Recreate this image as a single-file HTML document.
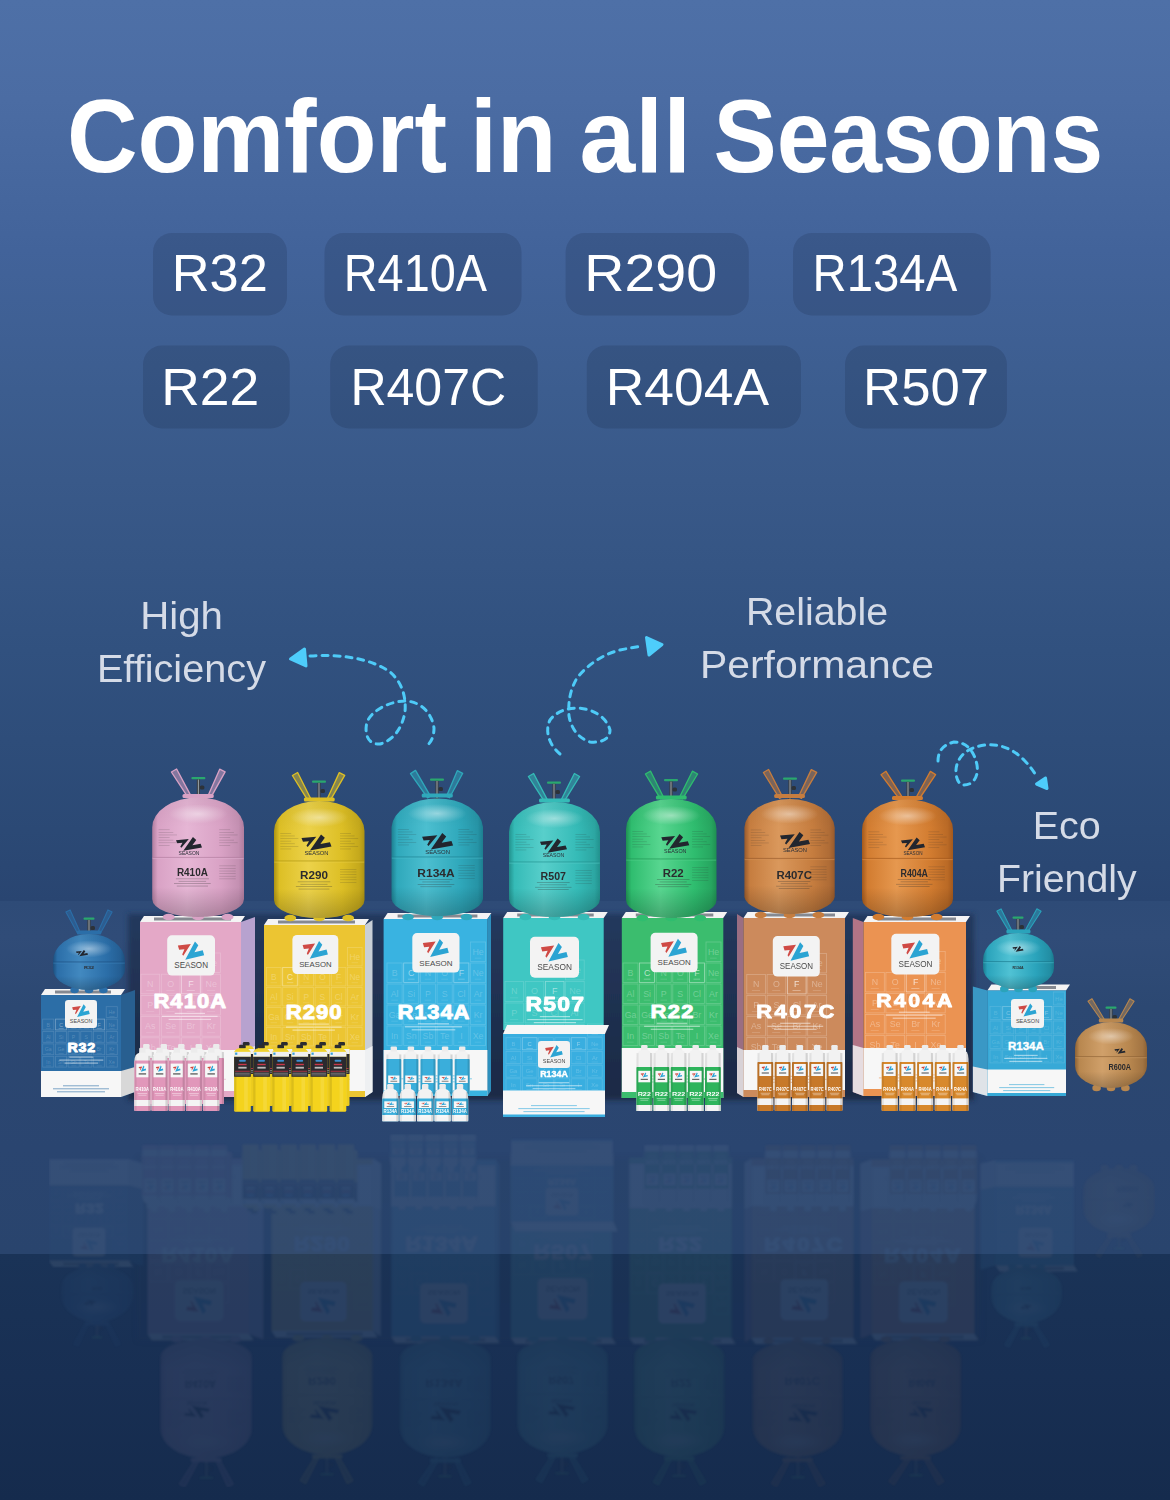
<!DOCTYPE html>
<html><head><meta charset="utf-8">
<style>
*{margin:0;padding:0;box-sizing:border-box}
html,body{width:1170px;height:1500px;overflow:hidden}
body{position:relative;font-family:"Liberation Sans",sans-serif;background:#2a4672}
svg{position:absolute;left:0;top:0;display:block}
</style></head><body>
<svg width="1170" height="1500" viewBox="0 0 1170 1500">
<defs>
<linearGradient id="bg" gradientUnits="userSpaceOnUse" x1="0" y1="0" x2="0" y2="902">
<stop offset="0" stop-color="#4e70a7"/>
<stop offset="0.1109" stop-color="#4b6ca3"/>
<stop offset="0.2772" stop-color="#42639a"/>
<stop offset="0.4324" stop-color="#3c5d8f"/>
<stop offset="0.5322" stop-color="#395989"/>
<stop offset="0.7206" stop-color="#31517f"/>
<stop offset="0.9202" stop-color="#2b4975"/>
<stop offset="1" stop-color="#294571"/>
</linearGradient>
<linearGradient id="floor" gradientUnits="userSpaceOnUse" x1="0" y1="901" x2="0" y2="1254">
<stop offset="0" stop-color="#2e4b77"/>
<stop offset="0.1" stop-color="#304c78"/>
<stop offset="0.3" stop-color="#2c4872"/>
<stop offset="0.7" stop-color="#2a4570"/>
<stop offset="1" stop-color="#29446d"/>
</linearGradient>
<linearGradient id="deep" gradientUnits="userSpaceOnUse" x1="0" y1="1254" x2="0" y2="1500">
<stop offset="0" stop-color="#1a3357"/>
<stop offset="0.5" stop-color="#182f53"/>
<stop offset="1" stop-color="#152b4d"/>
</linearGradient>
<linearGradient id="shgrad" x1="0" y1="0" x2="0" y2="1"><stop offset="0" stop-color="#24395d"/><stop offset="0.5" stop-color="#1f3050"/><stop offset="1" stop-color="#1b2a45"/></linearGradient>
<mask id="rmask" maskUnits="userSpaceOnUse" x="0" y="0" width="1170" height="1500"><rect x="0" y="0" width="1170" height="1254" fill="#a8a8a8"/><rect x="0" y="1254" width="1170" height="246" fill="#ffffff"/></mask>
<filter id="sblur" x="-0.05" y="-0.1" width="1.1" height="1.2"><feGaussianBlur stdDeviation="2.5"/></filter>
<filter id="rblur" x="0" y="0" width="1" height="1"><feColorMatrix type="saturate" values="0.8"/><feGaussianBlur stdDeviation="1.2"/></filter>
<linearGradient id="cg1" x1="0" y1="0" x2="1" y2="0"><stop offset="0" stop-color="#1c4f7e"/><stop offset="0.06" stop-color="#2b6ea8"/><stop offset="0.38" stop-color="#4289c0"/><stop offset="0.75" stop-color="#2b6ea8"/><stop offset="0.94" stop-color="#245e93"/><stop offset="1" stop-color="#1c4f7e"/></linearGradient>
<radialGradient id="rg2" cx="0.5" cy="0.5" r="0.5"><stop offset="0" stop-color="#ffffff" stop-opacity="0.45"/><stop offset="1" stop-color="#ffffff" stop-opacity="0"/></radialGradient>
<linearGradient id="vg3" x1="0" y1="0" x2="0" y2="1"><stop offset="0" stop-color="#000" stop-opacity="0.05"/><stop offset="0.25" stop-color="#000" stop-opacity="0"/><stop offset="0.75" stop-color="#000" stop-opacity="0"/><stop offset="1" stop-color="#000" stop-opacity="0.22"/></linearGradient>
<linearGradient id="cg4" x1="0" y1="0" x2="1" y2="0"><stop offset="0" stop-color="#b07d9e"/><stop offset="0.06" stop-color="#d9a2c5"/><stop offset="0.38" stop-color="#e6b6d5"/><stop offset="0.75" stop-color="#d9a2c5"/><stop offset="0.94" stop-color="#c490b2"/><stop offset="1" stop-color="#b07d9e"/></linearGradient>
<radialGradient id="rg5" cx="0.5" cy="0.5" r="0.5"><stop offset="0" stop-color="#ffffff" stop-opacity="0.45"/><stop offset="1" stop-color="#ffffff" stop-opacity="0"/></radialGradient>
<linearGradient id="vg6" x1="0" y1="0" x2="0" y2="1"><stop offset="0" stop-color="#000" stop-opacity="0.05"/><stop offset="0.25" stop-color="#000" stop-opacity="0"/><stop offset="0.75" stop-color="#000" stop-opacity="0"/><stop offset="1" stop-color="#000" stop-opacity="0.22"/></linearGradient>
<linearGradient id="cg7" x1="0" y1="0" x2="1" y2="0"><stop offset="0" stop-color="#ad9312"/><stop offset="0.06" stop-color="#ddbf25"/><stop offset="0.38" stop-color="#ecd24a"/><stop offset="0.75" stop-color="#ddbf25"/><stop offset="0.94" stop-color="#c5a91c"/><stop offset="1" stop-color="#ad9312"/></linearGradient>
<radialGradient id="rg8" cx="0.5" cy="0.5" r="0.5"><stop offset="0" stop-color="#ffffff" stop-opacity="0.45"/><stop offset="1" stop-color="#ffffff" stop-opacity="0"/></radialGradient>
<linearGradient id="vg9" x1="0" y1="0" x2="0" y2="1"><stop offset="0" stop-color="#000" stop-opacity="0.05"/><stop offset="0.25" stop-color="#000" stop-opacity="0"/><stop offset="0.75" stop-color="#000" stop-opacity="0"/><stop offset="1" stop-color="#000" stop-opacity="0.22"/></linearGradient>
<linearGradient id="cg10" x1="0" y1="0" x2="1" y2="0"><stop offset="0" stop-color="#1d7f90"/><stop offset="0.06" stop-color="#2fa8bb"/><stop offset="0.38" stop-color="#4cbfd0"/><stop offset="0.75" stop-color="#2fa8bb"/><stop offset="0.94" stop-color="#2694a6"/><stop offset="1" stop-color="#1d7f90"/></linearGradient>
<radialGradient id="rg11" cx="0.5" cy="0.5" r="0.5"><stop offset="0" stop-color="#ffffff" stop-opacity="0.45"/><stop offset="1" stop-color="#ffffff" stop-opacity="0"/></radialGradient>
<linearGradient id="vg12" x1="0" y1="0" x2="0" y2="1"><stop offset="0" stop-color="#000" stop-opacity="0.05"/><stop offset="0.25" stop-color="#000" stop-opacity="0"/><stop offset="0.75" stop-color="#000" stop-opacity="0"/><stop offset="1" stop-color="#000" stop-opacity="0.22"/></linearGradient>
<linearGradient id="cg13" x1="0" y1="0" x2="1" y2="0"><stop offset="0" stop-color="#22918d"/><stop offset="0.06" stop-color="#35bbb7"/><stop offset="0.38" stop-color="#58cfcb"/><stop offset="0.75" stop-color="#35bbb7"/><stop offset="0.94" stop-color="#2ca6a2"/><stop offset="1" stop-color="#22918d"/></linearGradient>
<radialGradient id="rg14" cx="0.5" cy="0.5" r="0.5"><stop offset="0" stop-color="#ffffff" stop-opacity="0.45"/><stop offset="1" stop-color="#ffffff" stop-opacity="0"/></radialGradient>
<linearGradient id="vg15" x1="0" y1="0" x2="0" y2="1"><stop offset="0" stop-color="#000" stop-opacity="0.05"/><stop offset="0.25" stop-color="#000" stop-opacity="0"/><stop offset="0.75" stop-color="#000" stop-opacity="0"/><stop offset="1" stop-color="#000" stop-opacity="0.22"/></linearGradient>
<linearGradient id="cg16" x1="0" y1="0" x2="1" y2="0"><stop offset="0" stop-color="#1f9052"/><stop offset="0.06" stop-color="#2fbd6f"/><stop offset="0.38" stop-color="#58d690"/><stop offset="0.75" stop-color="#2fbd6f"/><stop offset="0.94" stop-color="#27a660"/><stop offset="1" stop-color="#1f9052"/></linearGradient>
<radialGradient id="rg17" cx="0.5" cy="0.5" r="0.5"><stop offset="0" stop-color="#ffffff" stop-opacity="0.45"/><stop offset="1" stop-color="#ffffff" stop-opacity="0"/></radialGradient>
<linearGradient id="vg18" x1="0" y1="0" x2="0" y2="1"><stop offset="0" stop-color="#000" stop-opacity="0.05"/><stop offset="0.25" stop-color="#000" stop-opacity="0"/><stop offset="0.75" stop-color="#000" stop-opacity="0"/><stop offset="1" stop-color="#000" stop-opacity="0.22"/></linearGradient>
<linearGradient id="cg19" x1="0" y1="0" x2="1" y2="0"><stop offset="0" stop-color="#985a2c"/><stop offset="0.06" stop-color="#c67d3f"/><stop offset="0.38" stop-color="#da985c"/><stop offset="0.75" stop-color="#c67d3f"/><stop offset="0.94" stop-color="#af6c36"/><stop offset="1" stop-color="#985a2c"/></linearGradient>
<radialGradient id="rg20" cx="0.5" cy="0.5" r="0.5"><stop offset="0" stop-color="#ffffff" stop-opacity="0.45"/><stop offset="1" stop-color="#ffffff" stop-opacity="0"/></radialGradient>
<linearGradient id="vg21" x1="0" y1="0" x2="0" y2="1"><stop offset="0" stop-color="#000" stop-opacity="0.05"/><stop offset="0.25" stop-color="#000" stop-opacity="0"/><stop offset="0.75" stop-color="#000" stop-opacity="0"/><stop offset="1" stop-color="#000" stop-opacity="0.22"/></linearGradient>
<linearGradient id="cg22" x1="0" y1="0" x2="1" y2="0"><stop offset="0" stop-color="#a3591d"/><stop offset="0.06" stop-color="#d27c30"/><stop offset="0.38" stop-color="#e6984f"/><stop offset="0.75" stop-color="#d27c30"/><stop offset="0.94" stop-color="#ba6a26"/><stop offset="1" stop-color="#a3591d"/></linearGradient>
<radialGradient id="rg23" cx="0.5" cy="0.5" r="0.5"><stop offset="0" stop-color="#ffffff" stop-opacity="0.45"/><stop offset="1" stop-color="#ffffff" stop-opacity="0"/></radialGradient>
<linearGradient id="vg24" x1="0" y1="0" x2="0" y2="1"><stop offset="0" stop-color="#000" stop-opacity="0.05"/><stop offset="0.25" stop-color="#000" stop-opacity="0"/><stop offset="0.75" stop-color="#000" stop-opacity="0"/><stop offset="1" stop-color="#000" stop-opacity="0.22"/></linearGradient>
<linearGradient id="cg25" x1="0" y1="0" x2="1" y2="0"><stop offset="0" stop-color="#1a7a8e"/><stop offset="0.06" stop-color="#2aa3bb"/><stop offset="0.38" stop-color="#50c2d4"/><stop offset="0.75" stop-color="#2aa3bb"/><stop offset="0.94" stop-color="#228ea4"/><stop offset="1" stop-color="#1a7a8e"/></linearGradient>
<radialGradient id="rg26" cx="0.5" cy="0.5" r="0.5"><stop offset="0" stop-color="#ffffff" stop-opacity="0.45"/><stop offset="1" stop-color="#ffffff" stop-opacity="0"/></radialGradient>
<linearGradient id="vg27" x1="0" y1="0" x2="0" y2="1"><stop offset="0" stop-color="#000" stop-opacity="0.05"/><stop offset="0.25" stop-color="#000" stop-opacity="0"/><stop offset="0.75" stop-color="#000" stop-opacity="0"/><stop offset="1" stop-color="#000" stop-opacity="0.22"/></linearGradient>
<linearGradient id="cg28" x1="0" y1="0" x2="1" y2="0"><stop offset="0" stop-color="#8d6235"/><stop offset="0.06" stop-color="#b8874f"/><stop offset="0.38" stop-color="#d0a06a"/><stop offset="0.75" stop-color="#b8874f"/><stop offset="0.94" stop-color="#a27442"/><stop offset="1" stop-color="#8d6235"/></linearGradient>
<radialGradient id="rg29" cx="0.5" cy="0.5" r="0.5"><stop offset="0" stop-color="#ffffff" stop-opacity="0.45"/><stop offset="1" stop-color="#ffffff" stop-opacity="0"/></radialGradient>
<linearGradient id="vg30" x1="0" y1="0" x2="0" y2="1"><stop offset="0" stop-color="#000" stop-opacity="0.05"/><stop offset="0.25" stop-color="#000" stop-opacity="0"/><stop offset="0.75" stop-color="#000" stop-opacity="0"/><stop offset="1" stop-color="#000" stop-opacity="0.22"/></linearGradient>
</defs>
<rect x="0" y="0" width="1170" height="902" fill="url(#bg)"/>
<rect x="0" y="901" width="1170" height="354" fill="url(#floor)"/>
<rect x="0" y="1254" width="1170" height="246" fill="url(#deep)"/>
<g opacity="0.085" filter="url(#rblur)" mask="url(#rmask)"><use href="#prods" transform="matrix(1 0 0 -1 8 2256)"/></g>
<g id="prods">
<rect x="128" y="914" width="846" height="186" fill="url(#shgrad)" filter="url(#sblur)"/>
<polygon points="41.0,995.0 121.0,995.0 125.0,989.0 45.0,989.0" fill="#f4f4f4"/>
<rect x="55.0" y="990.5" width="56.0" height="3" fill="#2a3140" opacity="0.55"/>
<polygon points="121.0,995.0 135.0,990.0 135.0,1092.0 121.0,1097.0" fill="#285f90"/>
<polygon points="121.0,1071.0 135.0,1067.0 135.0,1092.0 121.0,1097.0" fill="#d8d8d8"/>
<rect x="41.0" y="995.0" width="80.0" height="102.0" fill="#2c6ea7"/>
<rect x="106.2" y="1006.7" width="11.1" height="10.8" fill="none" stroke="#ffffff" stroke-opacity="0.15" stroke-width="0.8"/>
<text x="111.8" y="1014.1" font-family="Liberation Sans" font-size="5.2" fill="#ffffff" fill-opacity="0.20" text-anchor="middle">He</text>
<rect x="109.4" y="1016.0" width="5.1" height="0.6" fill="#ffffff" opacity="0.15"/>
<rect x="42.7" y="1019.1" width="11.1" height="10.8" fill="none" stroke="#ffffff" stroke-opacity="0.15" stroke-width="0.8"/>
<text x="48.2" y="1026.5" font-family="Liberation Sans" font-size="5.2" fill="#ffffff" fill-opacity="0.20" text-anchor="middle">B</text>
<rect x="45.9" y="1028.4" width="5.1" height="0.6" fill="#ffffff" opacity="0.15"/>
<rect x="55.4" y="1019.1" width="11.1" height="10.8" fill="none" stroke="#ffffff" stroke-opacity="0.33" stroke-width="0.8"/>
<text x="61.0" y="1026.5" font-family="Liberation Sans" font-size="5.2" fill="#ffffff" fill-opacity="0.43" text-anchor="middle">C</text>
<rect x="58.6" y="1028.4" width="5.1" height="0.6" fill="#ffffff" opacity="0.33"/>
<rect x="68.1" y="1019.1" width="11.1" height="10.8" fill="none" stroke="#ffffff" stroke-opacity="0.15" stroke-width="0.8"/>
<text x="73.6" y="1026.5" font-family="Liberation Sans" font-size="5.2" fill="#ffffff" fill-opacity="0.20" text-anchor="middle">N</text>
<rect x="71.3" y="1028.4" width="5.1" height="0.6" fill="#ffffff" opacity="0.15"/>
<rect x="80.8" y="1019.1" width="11.1" height="10.8" fill="none" stroke="#ffffff" stroke-opacity="0.15" stroke-width="0.8"/>
<text x="86.3" y="1026.5" font-family="Liberation Sans" font-size="5.2" fill="#ffffff" fill-opacity="0.20" text-anchor="middle">O</text>
<rect x="84.0" y="1028.4" width="5.1" height="0.6" fill="#ffffff" opacity="0.15"/>
<rect x="93.5" y="1019.1" width="11.1" height="10.8" fill="none" stroke="#ffffff" stroke-opacity="0.33" stroke-width="0.8"/>
<text x="99.0" y="1026.5" font-family="Liberation Sans" font-size="5.2" fill="#ffffff" fill-opacity="0.43" text-anchor="middle">F</text>
<rect x="96.7" y="1028.4" width="5.1" height="0.6" fill="#ffffff" opacity="0.33"/>
<rect x="106.2" y="1019.1" width="11.1" height="10.8" fill="none" stroke="#ffffff" stroke-opacity="0.15" stroke-width="0.8"/>
<text x="111.8" y="1026.5" font-family="Liberation Sans" font-size="5.2" fill="#ffffff" fill-opacity="0.20" text-anchor="middle">Ne</text>
<rect x="109.4" y="1028.4" width="5.1" height="0.6" fill="#ffffff" opacity="0.15"/>
<rect x="42.7" y="1031.5" width="11.1" height="10.8" fill="none" stroke="#ffffff" stroke-opacity="0.15" stroke-width="0.8"/>
<text x="48.2" y="1038.9" font-family="Liberation Sans" font-size="5.2" fill="#ffffff" fill-opacity="0.20" text-anchor="middle">Al</text>
<rect x="45.9" y="1040.8" width="5.1" height="0.6" fill="#ffffff" opacity="0.15"/>
<rect x="55.4" y="1031.5" width="11.1" height="10.8" fill="none" stroke="#ffffff" stroke-opacity="0.15" stroke-width="0.8"/>
<text x="61.0" y="1038.9" font-family="Liberation Sans" font-size="5.2" fill="#ffffff" fill-opacity="0.20" text-anchor="middle">Si</text>
<rect x="58.6" y="1040.8" width="5.1" height="0.6" fill="#ffffff" opacity="0.15"/>
<rect x="68.1" y="1031.5" width="11.1" height="10.8" fill="none" stroke="#ffffff" stroke-opacity="0.15" stroke-width="0.8"/>
<text x="73.6" y="1038.9" font-family="Liberation Sans" font-size="5.2" fill="#ffffff" fill-opacity="0.20" text-anchor="middle">P</text>
<rect x="71.3" y="1040.8" width="5.1" height="0.6" fill="#ffffff" opacity="0.15"/>
<rect x="80.8" y="1031.5" width="11.1" height="10.8" fill="none" stroke="#ffffff" stroke-opacity="0.15" stroke-width="0.8"/>
<text x="86.3" y="1038.9" font-family="Liberation Sans" font-size="5.2" fill="#ffffff" fill-opacity="0.20" text-anchor="middle">S</text>
<rect x="84.0" y="1040.8" width="5.1" height="0.6" fill="#ffffff" opacity="0.15"/>
<rect x="93.5" y="1031.5" width="11.1" height="10.8" fill="none" stroke="#ffffff" stroke-opacity="0.15" stroke-width="0.8"/>
<text x="99.0" y="1038.9" font-family="Liberation Sans" font-size="5.2" fill="#ffffff" fill-opacity="0.20" text-anchor="middle">Cl</text>
<rect x="96.7" y="1040.8" width="5.1" height="0.6" fill="#ffffff" opacity="0.15"/>
<rect x="106.2" y="1031.5" width="11.1" height="10.8" fill="none" stroke="#ffffff" stroke-opacity="0.15" stroke-width="0.8"/>
<text x="111.8" y="1038.9" font-family="Liberation Sans" font-size="5.2" fill="#ffffff" fill-opacity="0.20" text-anchor="middle">Ar</text>
<rect x="109.4" y="1040.8" width="5.1" height="0.6" fill="#ffffff" opacity="0.15"/>
<rect x="42.7" y="1043.9" width="11.1" height="10.8" fill="none" stroke="#ffffff" stroke-opacity="0.15" stroke-width="0.8"/>
<text x="48.2" y="1051.3" font-family="Liberation Sans" font-size="5.2" fill="#ffffff" fill-opacity="0.20" text-anchor="middle">Ga</text>
<rect x="45.9" y="1053.2" width="5.1" height="0.6" fill="#ffffff" opacity="0.15"/>
<rect x="55.4" y="1043.9" width="11.1" height="10.8" fill="none" stroke="#ffffff" stroke-opacity="0.15" stroke-width="0.8"/>
<text x="61.0" y="1051.3" font-family="Liberation Sans" font-size="5.2" fill="#ffffff" fill-opacity="0.20" text-anchor="middle">Ge</text>
<rect x="58.6" y="1053.2" width="5.1" height="0.6" fill="#ffffff" opacity="0.15"/>
<rect x="68.1" y="1043.9" width="11.1" height="10.8" fill="none" stroke="#ffffff" stroke-opacity="0.15" stroke-width="0.8"/>
<text x="73.6" y="1051.3" font-family="Liberation Sans" font-size="5.2" fill="#ffffff" fill-opacity="0.20" text-anchor="middle">As</text>
<rect x="71.3" y="1053.2" width="5.1" height="0.6" fill="#ffffff" opacity="0.15"/>
<rect x="80.8" y="1043.9" width="11.1" height="10.8" fill="none" stroke="#ffffff" stroke-opacity="0.15" stroke-width="0.8"/>
<text x="86.3" y="1051.3" font-family="Liberation Sans" font-size="5.2" fill="#ffffff" fill-opacity="0.20" text-anchor="middle">Se</text>
<rect x="84.0" y="1053.2" width="5.1" height="0.6" fill="#ffffff" opacity="0.15"/>
<rect x="93.5" y="1043.9" width="11.1" height="10.8" fill="none" stroke="#ffffff" stroke-opacity="0.15" stroke-width="0.8"/>
<text x="99.0" y="1051.3" font-family="Liberation Sans" font-size="5.2" fill="#ffffff" fill-opacity="0.20" text-anchor="middle">Br</text>
<rect x="96.7" y="1053.2" width="5.1" height="0.6" fill="#ffffff" opacity="0.15"/>
<rect x="106.2" y="1043.9" width="11.1" height="10.8" fill="none" stroke="#ffffff" stroke-opacity="0.15" stroke-width="0.8"/>
<text x="111.8" y="1051.3" font-family="Liberation Sans" font-size="5.2" fill="#ffffff" fill-opacity="0.20" text-anchor="middle">Kr</text>
<rect x="109.4" y="1053.2" width="5.1" height="0.6" fill="#ffffff" opacity="0.15"/>
<rect x="42.7" y="1056.3" width="11.1" height="10.8" fill="none" stroke="#ffffff" stroke-opacity="0.15" stroke-width="0.8"/>
<text x="48.2" y="1063.7" font-family="Liberation Sans" font-size="5.2" fill="#ffffff" fill-opacity="0.20" text-anchor="middle">In</text>
<rect x="45.9" y="1065.6" width="5.1" height="0.6" fill="#ffffff" opacity="0.15"/>
<rect x="55.4" y="1056.3" width="11.1" height="10.8" fill="none" stroke="#ffffff" stroke-opacity="0.15" stroke-width="0.8"/>
<text x="61.0" y="1063.7" font-family="Liberation Sans" font-size="5.2" fill="#ffffff" fill-opacity="0.20" text-anchor="middle">Sn</text>
<rect x="58.6" y="1065.6" width="5.1" height="0.6" fill="#ffffff" opacity="0.15"/>
<rect x="68.1" y="1056.3" width="11.1" height="10.8" fill="none" stroke="#ffffff" stroke-opacity="0.15" stroke-width="0.8"/>
<text x="73.6" y="1063.7" font-family="Liberation Sans" font-size="5.2" fill="#ffffff" fill-opacity="0.20" text-anchor="middle">Sb</text>
<rect x="71.3" y="1065.6" width="5.1" height="0.6" fill="#ffffff" opacity="0.15"/>
<rect x="80.8" y="1056.3" width="11.1" height="10.8" fill="none" stroke="#ffffff" stroke-opacity="0.15" stroke-width="0.8"/>
<text x="86.3" y="1063.7" font-family="Liberation Sans" font-size="5.2" fill="#ffffff" fill-opacity="0.20" text-anchor="middle">Te</text>
<rect x="84.0" y="1065.6" width="5.1" height="0.6" fill="#ffffff" opacity="0.15"/>
<rect x="93.5" y="1056.3" width="11.1" height="10.8" fill="none" stroke="#ffffff" stroke-opacity="0.15" stroke-width="0.8"/>
<text x="99.0" y="1063.7" font-family="Liberation Sans" font-size="5.2" fill="#ffffff" fill-opacity="0.20" text-anchor="middle">I</text>
<rect x="96.7" y="1065.6" width="5.1" height="0.6" fill="#ffffff" opacity="0.15"/>
<rect x="106.2" y="1056.3" width="11.1" height="10.8" fill="none" stroke="#ffffff" stroke-opacity="0.15" stroke-width="0.8"/>
<text x="111.8" y="1063.7" font-family="Liberation Sans" font-size="5.2" fill="#ffffff" fill-opacity="0.20" text-anchor="middle">Xe</text>
<rect x="109.4" y="1065.6" width="5.1" height="0.6" fill="#ffffff" opacity="0.15"/>
<rect x="41.0" y="1071.0" width="80.0" height="26.0" fill="#f7f7f7"/>
<rect x="63.0" y="1085.3" width="36.0" height="1" fill="#2c6ea7" opacity="0.6"/>
<rect x="53.0" y="1088.3" width="56.0" height="1" fill="#2c6ea7" opacity="0.6"/>
<rect x="57.0" y="1091.3" width="48.0" height="1" fill="#2c6ea7" opacity="0.6"/>
<rect x="65.0" y="1000.0" width="32.0" height="28.0" rx="3.2" fill="#f3f3f3"/>
<polygon points="72.14,1007.15 80.81,1006.07 75.78,1014.30 75.04,1013.33 76.52,1009.66 73.00,1010.05" fill="#cf4a45"/>
<polygon points="83.59,1004.26 85.83,1006.96 83.22,1011.79 88.80,1010.43 89.74,1013.91 77.08,1017.00" fill="#2ba4d3"/>
<text x="69.8" y="1023.0" font-family="Liberation Sans" font-size="5.7" fill="#4a4a4a" textLength="22.6" lengthAdjust="spacingAndGlyphs">SEASON</text>
<text transform="translate(67.6,1052.0) scale(1.14,1)" x="0" y="0" font-family="Liberation Sans" font-weight="bold" font-size="12.5" fill="#ffffff" stroke="#ffffff" stroke-width="0.9" stroke-linejoin="round" textLength="24.2" lengthAdjust="spacing">R32</text>
<rect x="69.3" y="1056.5" width="24.0" height="1.2" fill="#ffffff" opacity="0.5"/>
<rect x="59.3" y="1059.5" width="44.0" height="1.2" fill="#ffffff" opacity="0.5"/>
<rect x="64.5" y="1062.5" width="33.6" height="1.2" fill="#ffffff" opacity="0.5"/>
<polygon points="65.9,912.1 70.1,909.9 80.3,932.4 77.7,933.6" fill="#2b6ea8" fill-opacity="0.5" stroke="#2b6ea8" stroke-width="1.1" stroke-linejoin="round"/>
<polygon points="107.9,909.9 112.1,912.1 100.3,933.6 97.7,932.4" fill="#2b6ea8" fill-opacity="0.5" stroke="#2b6ea8" stroke-width="1.1" stroke-linejoin="round"/>
<rect x="87.4" y="919.0" width="3.2" height="16.0" fill="#3a3f45"/>
<rect x="88.5" y="920.0" width="1" height="14.0" fill="#9aa3aa"/>
<rect x="90.5" y="926.0" width="4.5" height="4" rx="1.5" fill="#2d3238"/>
<rect x="83.5" y="917.5" width="11" height="2.2" rx="1" fill="#2aa86e"/>
<rect x="76.8" y="930.5" width="24.5" height="4" rx="1.5" fill="#2b6ea8"/>
<ellipse cx="74.6" cy="990.0" rx="4.3" ry="3.2" fill="#2b6ea8"/>
<ellipse cx="89.0" cy="990.0" rx="4.3" ry="3.2" fill="#2b6ea8"/>
<ellipse cx="103.4" cy="990.0" rx="4.3" ry="3.2" fill="#2b6ea8"/>
<path d="M53.0 961.0 A36.0 27.0 0 0 1 125.0 961.0 L125.0 969.0 A36.0 21.0 0 0 1 53.0 969.0 Z" fill="url(#cg1)"/>
<path d="M53.0 961.0 A36.0 27.0 0 0 1 125.0 961.0 L125.0 969.0 A36.0 21.0 0 0 1 53.0 969.0 Z" fill="url(#vg3)"/>
<ellipse cx="89.0" cy="948.9" rx="23.0" ry="8.6" fill="url(#rg2)"/>
<rect x="53.3" y="961.4" width="71.4" height="1.2" fill="#1c4f7e" opacity="0.6"/>
<rect x="53.3" y="962.6" width="71.4" height="1" fill="#4289c0" opacity="0.5"/>
<polygon points="76.00,951.44 81.92,950.90 78.48,955.01 77.98,954.53 78.99,952.70 76.59,952.89" fill="#22262e"/><polygon points="83.81,950.00 85.34,951.35 83.56,953.76 87.36,953.08 88.00,954.82 79.37,956.36" fill="#22262e"/>
<text x="84.0" y="969.0" font-family="Liberation Sans" font-weight="bold" font-size="4" fill="#2b2b2e" textLength="10.0" lengthAdjust="spacingAndGlyphs">R32</text>
<polygon points="140.0,922.0 241.0,922.0 245.0,916.0 144.0,916.0" fill="#f4f4f4"/>
<rect x="154.0" y="917.5" width="77.0" height="3" fill="#2a3140" opacity="0.55"/>
<polygon points="241.0,922.0 255.0,917.0 255.0,1092.0 241.0,1097.0" fill="#b7a2cf"/>
<polygon points="241.0,1050.0 255.0,1046.0 255.0,1092.0 241.0,1097.0" fill="#e4dcea"/>
<rect x="140.0" y="922.0" width="101.0" height="175.0" fill="#e4a8c7"/>
<rect x="201.9" y="953.0" width="18.7" height="19.6" fill="none" stroke="#ffffff" stroke-opacity="0.22" stroke-width="0.8"/>
<text x="211.2" y="965.7" font-family="Liberation Sans" font-size="8.9" fill="#ffffff" fill-opacity="0.29" text-anchor="middle">He</text>
<rect x="207.0" y="968.9" width="8.1" height="0.6" fill="#ffffff" opacity="0.22"/>
<rect x="141.0" y="974.2" width="18.7" height="19.6" fill="none" stroke="#ffffff" stroke-opacity="0.22" stroke-width="0.8"/>
<text x="150.3" y="986.9" font-family="Liberation Sans" font-size="8.9" fill="#ffffff" fill-opacity="0.29" text-anchor="middle">N</text>
<rect x="146.1" y="990.1" width="8.1" height="0.6" fill="#ffffff" opacity="0.22"/>
<rect x="161.3" y="974.2" width="18.7" height="19.6" fill="none" stroke="#ffffff" stroke-opacity="0.22" stroke-width="0.8"/>
<text x="170.7" y="986.9" font-family="Liberation Sans" font-size="8.9" fill="#ffffff" fill-opacity="0.29" text-anchor="middle">O</text>
<rect x="166.4" y="990.1" width="8.1" height="0.6" fill="#ffffff" opacity="0.22"/>
<rect x="181.6" y="974.2" width="18.7" height="19.6" fill="none" stroke="#ffffff" stroke-opacity="0.48" stroke-width="0.8"/>
<text x="190.9" y="986.9" font-family="Liberation Sans" font-size="8.9" fill="#ffffff" fill-opacity="0.63" text-anchor="middle">F</text>
<rect x="186.7" y="990.1" width="8.1" height="0.6" fill="#ffffff" opacity="0.48"/>
<rect x="201.9" y="974.2" width="18.7" height="19.6" fill="none" stroke="#ffffff" stroke-opacity="0.22" stroke-width="0.8"/>
<text x="211.2" y="986.9" font-family="Liberation Sans" font-size="8.9" fill="#ffffff" fill-opacity="0.29" text-anchor="middle">Ne</text>
<rect x="207.0" y="990.1" width="8.1" height="0.6" fill="#ffffff" opacity="0.22"/>
<rect x="141.0" y="995.4" width="18.7" height="19.6" fill="none" stroke="#ffffff" stroke-opacity="0.22" stroke-width="0.8"/>
<text x="150.3" y="1008.1" font-family="Liberation Sans" font-size="8.9" fill="#ffffff" fill-opacity="0.29" text-anchor="middle">P</text>
<rect x="146.1" y="1011.3" width="8.1" height="0.6" fill="#ffffff" opacity="0.22"/>
<rect x="161.3" y="995.4" width="18.7" height="19.6" fill="none" stroke="#ffffff" stroke-opacity="0.22" stroke-width="0.8"/>
<text x="170.7" y="1008.1" font-family="Liberation Sans" font-size="8.9" fill="#ffffff" fill-opacity="0.29" text-anchor="middle">S</text>
<rect x="166.4" y="1011.3" width="8.1" height="0.6" fill="#ffffff" opacity="0.22"/>
<rect x="181.6" y="995.4" width="18.7" height="19.6" fill="none" stroke="#ffffff" stroke-opacity="0.22" stroke-width="0.8"/>
<text x="190.9" y="1008.1" font-family="Liberation Sans" font-size="8.9" fill="#ffffff" fill-opacity="0.29" text-anchor="middle">Cl</text>
<rect x="186.7" y="1011.3" width="8.1" height="0.6" fill="#ffffff" opacity="0.22"/>
<rect x="201.9" y="995.4" width="18.7" height="19.6" fill="none" stroke="#ffffff" stroke-opacity="0.22" stroke-width="0.8"/>
<text x="211.2" y="1008.1" font-family="Liberation Sans" font-size="8.9" fill="#ffffff" fill-opacity="0.29" text-anchor="middle">Ar</text>
<rect x="207.0" y="1011.3" width="8.1" height="0.6" fill="#ffffff" opacity="0.22"/>
<rect x="141.0" y="1016.6" width="18.7" height="19.6" fill="none" stroke="#ffffff" stroke-opacity="0.22" stroke-width="0.8"/>
<text x="150.3" y="1029.3" font-family="Liberation Sans" font-size="8.9" fill="#ffffff" fill-opacity="0.29" text-anchor="middle">As</text>
<rect x="146.1" y="1032.5" width="8.1" height="0.6" fill="#ffffff" opacity="0.22"/>
<rect x="161.3" y="1016.6" width="18.7" height="19.6" fill="none" stroke="#ffffff" stroke-opacity="0.22" stroke-width="0.8"/>
<text x="170.7" y="1029.3" font-family="Liberation Sans" font-size="8.9" fill="#ffffff" fill-opacity="0.29" text-anchor="middle">Se</text>
<rect x="166.4" y="1032.5" width="8.1" height="0.6" fill="#ffffff" opacity="0.22"/>
<rect x="181.6" y="1016.6" width="18.7" height="19.6" fill="none" stroke="#ffffff" stroke-opacity="0.22" stroke-width="0.8"/>
<text x="190.9" y="1029.3" font-family="Liberation Sans" font-size="8.9" fill="#ffffff" fill-opacity="0.29" text-anchor="middle">Br</text>
<rect x="186.7" y="1032.5" width="8.1" height="0.6" fill="#ffffff" opacity="0.22"/>
<rect x="201.9" y="1016.6" width="18.7" height="19.6" fill="none" stroke="#ffffff" stroke-opacity="0.22" stroke-width="0.8"/>
<text x="211.2" y="1029.3" font-family="Liberation Sans" font-size="8.9" fill="#ffffff" fill-opacity="0.29" text-anchor="middle">Kr</text>
<rect x="207.0" y="1032.5" width="8.1" height="0.6" fill="#ffffff" opacity="0.22"/>
<rect x="141.0" y="1037.8" width="18.7" height="19.6" fill="none" stroke="#ffffff" stroke-opacity="0.22" stroke-width="0.8"/>
<text x="150.3" y="1050.5" font-family="Liberation Sans" font-size="8.9" fill="#ffffff" fill-opacity="0.29" text-anchor="middle">Sb</text>
<rect x="146.1" y="1053.7" width="8.1" height="0.6" fill="#ffffff" opacity="0.22"/>
<rect x="161.3" y="1037.8" width="18.7" height="19.6" fill="none" stroke="#ffffff" stroke-opacity="0.22" stroke-width="0.8"/>
<text x="170.7" y="1050.5" font-family="Liberation Sans" font-size="8.9" fill="#ffffff" fill-opacity="0.29" text-anchor="middle">Te</text>
<rect x="166.4" y="1053.7" width="8.1" height="0.6" fill="#ffffff" opacity="0.22"/>
<rect x="181.6" y="1037.8" width="18.7" height="19.6" fill="none" stroke="#ffffff" stroke-opacity="0.22" stroke-width="0.8"/>
<text x="190.9" y="1050.5" font-family="Liberation Sans" font-size="8.9" fill="#ffffff" fill-opacity="0.29" text-anchor="middle">I</text>
<rect x="186.7" y="1053.7" width="8.1" height="0.6" fill="#ffffff" opacity="0.22"/>
<rect x="201.9" y="1037.8" width="18.7" height="19.6" fill="none" stroke="#ffffff" stroke-opacity="0.22" stroke-width="0.8"/>
<text x="211.2" y="1050.5" font-family="Liberation Sans" font-size="8.9" fill="#ffffff" fill-opacity="0.29" text-anchor="middle">Xe</text>
<rect x="207.0" y="1053.7" width="8.1" height="0.6" fill="#ffffff" opacity="0.22"/>
<rect x="140.0" y="1050.0" width="101.0" height="47.0" fill="#f7f7f7"/>
<rect x="140.0" y="1091.0" width="101.0" height="6.0" fill="#e4a8c7"/>
<rect x="167.8" y="1075.8" width="45.5" height="1" fill="#e4a8c7" opacity="0.6"/>
<rect x="155.2" y="1078.8" width="70.7" height="1" fill="#e4a8c7" opacity="0.6"/>
<rect x="160.2" y="1081.8" width="60.6" height="1" fill="#e4a8c7" opacity="0.6"/>
<rect x="167.2" y="935.3" width="47.8" height="40.3" rx="4.8" fill="#f3f3f3"/>
<polygon points="177.86,945.59 190.82,944.03 183.30,955.87 182.20,954.48 184.41,949.20 179.15,949.77" fill="#cf4a45"/>
<polygon points="194.97,941.43 198.31,945.31 194.42,952.26 202.76,950.32 204.15,955.32 185.25,959.76" fill="#2ba4d3"/>
<text x="174.3" y="968.3" font-family="Liberation Sans" font-size="8.2" fill="#4a4a4a" textLength="33.7" lengthAdjust="spacingAndGlyphs">SEASON</text>
<text transform="translate(153.4,1008.2) scale(1.14,1)" x="0" y="0" font-family="Liberation Sans" font-weight="bold" font-size="19.3" fill="#ffffff" stroke="#ffffff" stroke-width="0.9" stroke-linejoin="round" textLength="63.8" lengthAdjust="spacing">R410A</text>
<rect x="174.7" y="1012.8" width="30.3" height="1.2" fill="#ffffff" opacity="0.5"/>
<rect x="162.0" y="1015.8" width="55.6" height="1.2" fill="#ffffff" opacity="0.5"/>
<rect x="168.6" y="1018.8" width="42.4" height="1.2" fill="#ffffff" opacity="0.5"/>
<polygon points="171.4,772.0 176.6,769.0 190.0,794.1 187.0,795.9" fill="#d9a2c5" fill-opacity="0.5" stroke="#d9a2c5" stroke-width="1.35" stroke-linejoin="round"/>
<polygon points="219.7,769.2 225.1,771.8 211.7,795.8 208.7,794.2" fill="#d9a2c5" fill-opacity="0.5" stroke="#d9a2c5" stroke-width="1.35" stroke-linejoin="round"/>
<rect x="196.8" y="778.5" width="3.2" height="18.5" fill="#3a3f45"/>
<rect x="197.9" y="779.5" width="1" height="16.5" fill="#9aa3aa"/>
<rect x="199.9" y="785.5" width="4.5" height="4" rx="1.5" fill="#2d3238"/>
<rect x="191.4" y="777.0" width="14" height="2.2" rx="1" fill="#2aa86e"/>
<rect x="182.5" y="793.9" width="31.2" height="4" rx="1.5" fill="#d9a2c5"/>
<ellipse cx="168.7" cy="917.0" rx="6.0" ry="3.2" fill="#d9a2c5"/>
<ellipse cx="198.1" cy="917.0" rx="6.0" ry="3.2" fill="#d9a2c5"/>
<ellipse cx="227.5" cy="917.0" rx="6.0" ry="3.2" fill="#d9a2c5"/>
<path d="M152.2 827.4 A45.9 30.0 0 0 1 244.0 827.4 L244.0 899.0 A45.9 18.0 0 0 1 152.2 899.0 Z" fill="url(#cg4)"/>
<path d="M152.2 827.4 A45.9 30.0 0 0 1 244.0 827.4 L244.0 899.0 A45.9 18.0 0 0 1 152.2 899.0 Z" fill="url(#vg6)"/>
<ellipse cx="198.1" cy="813.9" rx="29.4" ry="9.6" fill="url(#rg5)"/>
<rect x="152.5" y="856.9" width="91.2" height="1.2" fill="#b07d9e" opacity="0.6"/>
<rect x="152.5" y="858.1" width="91.2" height="1" fill="#e6b6d5" opacity="0.5"/>
<polygon points="176.00,840.13 188.82,838.96 181.38,847.86 180.29,846.81 182.47,842.84 177.27,843.27" fill="#22262e"/><polygon points="192.93,837.00 196.23,839.92 192.38,845.14 200.62,843.68 202.00,847.45 183.31,850.78" fill="#22262e"/>
<text x="189.0" y="855.1" font-family="Liberation Sans" font-size="5" fill="#2a2f38" text-anchor="middle" textLength="20.8" lengthAdjust="spacingAndGlyphs">SEASON</text>
<text x="176.9" y="876.0" font-family="Liberation Sans" font-weight="bold" font-size="11.6" fill="#2b2b2e" textLength="31.0" lengthAdjust="spacingAndGlyphs">R410A</text>
<rect x="175.9" y="878.5" width="33.0" height="0.7" fill="#333" opacity="0.4"/>
<rect x="178.6" y="880.9" width="27.5" height="0.7" fill="#333" opacity="0.4"/>
<rect x="174.0" y="883.3" width="36.7" height="0.7" fill="#333" opacity="0.4"/>
<rect x="176.8" y="885.7" width="31.2" height="0.7" fill="#333" opacity="0.4"/>
<rect x="158.6" y="829.4" width="11.0" height="0.7" fill="#333" opacity="0.22"/>
<rect x="158.6" y="832.0" width="14.7" height="0.7" fill="#333" opacity="0.22"/>
<rect x="158.6" y="834.6" width="18.4" height="0.7" fill="#333" opacity="0.22"/>
<rect x="158.6" y="837.2" width="11.0" height="0.7" fill="#333" opacity="0.22"/>
<rect x="158.6" y="839.8" width="14.7" height="0.7" fill="#333" opacity="0.22"/>
<rect x="158.6" y="842.4" width="18.4" height="0.7" fill="#333" opacity="0.22"/>
<rect x="158.6" y="845.0" width="11.0" height="0.7" fill="#333" opacity="0.22"/>
<rect x="219.2" y="829.4" width="11.0" height="0.7" fill="#333" opacity="0.22"/>
<rect x="219.2" y="832.0" width="14.7" height="0.7" fill="#333" opacity="0.22"/>
<rect x="219.2" y="834.6" width="18.4" height="0.7" fill="#333" opacity="0.22"/>
<rect x="219.2" y="837.2" width="11.0" height="0.7" fill="#333" opacity="0.22"/>
<rect x="219.2" y="839.8" width="14.7" height="0.7" fill="#333" opacity="0.22"/>
<rect x="219.2" y="842.4" width="18.4" height="0.7" fill="#333" opacity="0.22"/>
<rect x="219.2" y="845.0" width="11.0" height="0.7" fill="#333" opacity="0.22"/>
<rect x="219.2" y="865.5" width="16.5" height="0.7" fill="#333" opacity="0.22"/>
<rect x="219.2" y="868.1" width="16.5" height="0.7" fill="#333" opacity="0.22"/>
<rect x="219.2" y="870.7" width="16.5" height="0.7" fill="#333" opacity="0.22"/>
<rect x="219.2" y="873.3" width="16.5" height="0.7" fill="#333" opacity="0.22"/>
<rect x="219.2" y="875.9" width="16.5" height="0.7" fill="#333" opacity="0.22"/>
<rect x="219.2" y="878.5" width="16.5" height="0.7" fill="#333" opacity="0.22"/>
<polygon points="264.0,925.0 365.0,925.0 369.0,919.0 268.0,919.0" fill="#f4f4f4"/>
<rect x="278.0" y="920.5" width="77.0" height="3" fill="#2a3140" opacity="0.55"/>
<polygon points="365.0,925.0 372.5,920.0 372.5,1092.0 365.0,1097.0" fill="#c9cfd6"/>
<polygon points="365.0,1050.0 372.5,1046.0 372.5,1092.0 365.0,1097.0" fill="#eef0f2"/>
<rect x="264.0" y="925.0" width="101.0" height="172.0" fill="#ecc532"/>
<rect x="347.5" y="947.5" width="14.6" height="18.4" fill="none" stroke="#ffffff" stroke-opacity="0.20" stroke-width="0.8"/>
<text x="354.8" y="959.5" font-family="Liberation Sans" font-size="8.4" fill="#ffffff" fill-opacity="0.26" text-anchor="middle">He</text>
<rect x="351.6" y="962.5" width="6.5" height="0.6" fill="#ffffff" opacity="0.20"/>
<rect x="266.5" y="967.5" width="14.6" height="18.4" fill="none" stroke="#ffffff" stroke-opacity="0.20" stroke-width="0.8"/>
<text x="273.8" y="979.5" font-family="Liberation Sans" font-size="8.4" fill="#ffffff" fill-opacity="0.26" text-anchor="middle">B</text>
<rect x="270.6" y="982.5" width="6.5" height="0.6" fill="#ffffff" opacity="0.20"/>
<rect x="282.7" y="967.5" width="14.6" height="18.4" fill="none" stroke="#ffffff" stroke-opacity="0.44" stroke-width="0.8"/>
<text x="290.0" y="979.5" font-family="Liberation Sans" font-size="8.4" fill="#ffffff" fill-opacity="0.57" text-anchor="middle">C</text>
<rect x="286.8" y="982.5" width="6.5" height="0.6" fill="#ffffff" opacity="0.44"/>
<rect x="298.9" y="967.5" width="14.6" height="18.4" fill="none" stroke="#ffffff" stroke-opacity="0.20" stroke-width="0.8"/>
<text x="306.2" y="979.5" font-family="Liberation Sans" font-size="8.4" fill="#ffffff" fill-opacity="0.26" text-anchor="middle">N</text>
<rect x="302.9" y="982.5" width="6.5" height="0.6" fill="#ffffff" opacity="0.20"/>
<rect x="315.1" y="967.5" width="14.6" height="18.4" fill="none" stroke="#ffffff" stroke-opacity="0.20" stroke-width="0.8"/>
<text x="322.4" y="979.5" font-family="Liberation Sans" font-size="8.4" fill="#ffffff" fill-opacity="0.26" text-anchor="middle">O</text>
<rect x="319.2" y="982.5" width="6.5" height="0.6" fill="#ffffff" opacity="0.20"/>
<rect x="331.3" y="967.5" width="14.6" height="18.4" fill="none" stroke="#ffffff" stroke-opacity="0.20" stroke-width="0.8"/>
<text x="338.6" y="979.5" font-family="Liberation Sans" font-size="8.4" fill="#ffffff" fill-opacity="0.26" text-anchor="middle">F</text>
<rect x="335.4" y="982.5" width="6.5" height="0.6" fill="#ffffff" opacity="0.20"/>
<rect x="347.5" y="967.5" width="14.6" height="18.4" fill="none" stroke="#ffffff" stroke-opacity="0.20" stroke-width="0.8"/>
<text x="354.8" y="979.5" font-family="Liberation Sans" font-size="8.4" fill="#ffffff" fill-opacity="0.26" text-anchor="middle">Ne</text>
<rect x="351.6" y="982.5" width="6.5" height="0.6" fill="#ffffff" opacity="0.20"/>
<rect x="266.5" y="987.5" width="14.6" height="18.4" fill="none" stroke="#ffffff" stroke-opacity="0.20" stroke-width="0.8"/>
<text x="273.8" y="999.5" font-family="Liberation Sans" font-size="8.4" fill="#ffffff" fill-opacity="0.26" text-anchor="middle">Al</text>
<rect x="270.6" y="1002.5" width="6.5" height="0.6" fill="#ffffff" opacity="0.20"/>
<rect x="282.7" y="987.5" width="14.6" height="18.4" fill="none" stroke="#ffffff" stroke-opacity="0.20" stroke-width="0.8"/>
<text x="290.0" y="999.5" font-family="Liberation Sans" font-size="8.4" fill="#ffffff" fill-opacity="0.26" text-anchor="middle">Si</text>
<rect x="286.8" y="1002.5" width="6.5" height="0.6" fill="#ffffff" opacity="0.20"/>
<rect x="298.9" y="987.5" width="14.6" height="18.4" fill="none" stroke="#ffffff" stroke-opacity="0.20" stroke-width="0.8"/>
<text x="306.2" y="999.5" font-family="Liberation Sans" font-size="8.4" fill="#ffffff" fill-opacity="0.26" text-anchor="middle">P</text>
<rect x="302.9" y="1002.5" width="6.5" height="0.6" fill="#ffffff" opacity="0.20"/>
<rect x="315.1" y="987.5" width="14.6" height="18.4" fill="none" stroke="#ffffff" stroke-opacity="0.20" stroke-width="0.8"/>
<text x="322.4" y="999.5" font-family="Liberation Sans" font-size="8.4" fill="#ffffff" fill-opacity="0.26" text-anchor="middle">S</text>
<rect x="319.2" y="1002.5" width="6.5" height="0.6" fill="#ffffff" opacity="0.20"/>
<rect x="331.3" y="987.5" width="14.6" height="18.4" fill="none" stroke="#ffffff" stroke-opacity="0.20" stroke-width="0.8"/>
<text x="338.6" y="999.5" font-family="Liberation Sans" font-size="8.4" fill="#ffffff" fill-opacity="0.26" text-anchor="middle">Cl</text>
<rect x="335.4" y="1002.5" width="6.5" height="0.6" fill="#ffffff" opacity="0.20"/>
<rect x="347.5" y="987.5" width="14.6" height="18.4" fill="none" stroke="#ffffff" stroke-opacity="0.20" stroke-width="0.8"/>
<text x="354.8" y="999.5" font-family="Liberation Sans" font-size="8.4" fill="#ffffff" fill-opacity="0.26" text-anchor="middle">Ar</text>
<rect x="351.6" y="1002.5" width="6.5" height="0.6" fill="#ffffff" opacity="0.20"/>
<rect x="266.5" y="1007.5" width="14.6" height="18.4" fill="none" stroke="#ffffff" stroke-opacity="0.20" stroke-width="0.8"/>
<text x="273.8" y="1019.5" font-family="Liberation Sans" font-size="8.4" fill="#ffffff" fill-opacity="0.26" text-anchor="middle">Ga</text>
<rect x="270.6" y="1022.5" width="6.5" height="0.6" fill="#ffffff" opacity="0.20"/>
<rect x="282.7" y="1007.5" width="14.6" height="18.4" fill="none" stroke="#ffffff" stroke-opacity="0.20" stroke-width="0.8"/>
<text x="290.0" y="1019.5" font-family="Liberation Sans" font-size="8.4" fill="#ffffff" fill-opacity="0.26" text-anchor="middle">Ge</text>
<rect x="286.8" y="1022.5" width="6.5" height="0.6" fill="#ffffff" opacity="0.20"/>
<rect x="298.9" y="1007.5" width="14.6" height="18.4" fill="none" stroke="#ffffff" stroke-opacity="0.20" stroke-width="0.8"/>
<text x="306.2" y="1019.5" font-family="Liberation Sans" font-size="8.4" fill="#ffffff" fill-opacity="0.26" text-anchor="middle">As</text>
<rect x="302.9" y="1022.5" width="6.5" height="0.6" fill="#ffffff" opacity="0.20"/>
<rect x="315.1" y="1007.5" width="14.6" height="18.4" fill="none" stroke="#ffffff" stroke-opacity="0.20" stroke-width="0.8"/>
<text x="322.4" y="1019.5" font-family="Liberation Sans" font-size="8.4" fill="#ffffff" fill-opacity="0.26" text-anchor="middle">Se</text>
<rect x="319.2" y="1022.5" width="6.5" height="0.6" fill="#ffffff" opacity="0.20"/>
<rect x="331.3" y="1007.5" width="14.6" height="18.4" fill="none" stroke="#ffffff" stroke-opacity="0.20" stroke-width="0.8"/>
<text x="338.6" y="1019.5" font-family="Liberation Sans" font-size="8.4" fill="#ffffff" fill-opacity="0.26" text-anchor="middle">Br</text>
<rect x="335.4" y="1022.5" width="6.5" height="0.6" fill="#ffffff" opacity="0.20"/>
<rect x="347.5" y="1007.5" width="14.6" height="18.4" fill="none" stroke="#ffffff" stroke-opacity="0.20" stroke-width="0.8"/>
<text x="354.8" y="1019.5" font-family="Liberation Sans" font-size="8.4" fill="#ffffff" fill-opacity="0.26" text-anchor="middle">Kr</text>
<rect x="351.6" y="1022.5" width="6.5" height="0.6" fill="#ffffff" opacity="0.20"/>
<rect x="266.5" y="1027.5" width="14.6" height="18.4" fill="none" stroke="#ffffff" stroke-opacity="0.20" stroke-width="0.8"/>
<text x="273.8" y="1039.5" font-family="Liberation Sans" font-size="8.4" fill="#ffffff" fill-opacity="0.26" text-anchor="middle">In</text>
<rect x="270.6" y="1042.5" width="6.5" height="0.6" fill="#ffffff" opacity="0.20"/>
<rect x="282.7" y="1027.5" width="14.6" height="18.4" fill="none" stroke="#ffffff" stroke-opacity="0.20" stroke-width="0.8"/>
<text x="290.0" y="1039.5" font-family="Liberation Sans" font-size="8.4" fill="#ffffff" fill-opacity="0.26" text-anchor="middle">Sn</text>
<rect x="286.8" y="1042.5" width="6.5" height="0.6" fill="#ffffff" opacity="0.20"/>
<rect x="298.9" y="1027.5" width="14.6" height="18.4" fill="none" stroke="#ffffff" stroke-opacity="0.20" stroke-width="0.8"/>
<text x="306.2" y="1039.5" font-family="Liberation Sans" font-size="8.4" fill="#ffffff" fill-opacity="0.26" text-anchor="middle">Sb</text>
<rect x="302.9" y="1042.5" width="6.5" height="0.6" fill="#ffffff" opacity="0.20"/>
<rect x="315.1" y="1027.5" width="14.6" height="18.4" fill="none" stroke="#ffffff" stroke-opacity="0.20" stroke-width="0.8"/>
<text x="322.4" y="1039.5" font-family="Liberation Sans" font-size="8.4" fill="#ffffff" fill-opacity="0.26" text-anchor="middle">Te</text>
<rect x="319.2" y="1042.5" width="6.5" height="0.6" fill="#ffffff" opacity="0.20"/>
<rect x="331.3" y="1027.5" width="14.6" height="18.4" fill="none" stroke="#ffffff" stroke-opacity="0.20" stroke-width="0.8"/>
<text x="338.6" y="1039.5" font-family="Liberation Sans" font-size="8.4" fill="#ffffff" fill-opacity="0.26" text-anchor="middle">I</text>
<rect x="335.4" y="1042.5" width="6.5" height="0.6" fill="#ffffff" opacity="0.20"/>
<rect x="347.5" y="1027.5" width="14.6" height="18.4" fill="none" stroke="#ffffff" stroke-opacity="0.20" stroke-width="0.8"/>
<text x="354.8" y="1039.5" font-family="Liberation Sans" font-size="8.4" fill="#ffffff" fill-opacity="0.26" text-anchor="middle">Xe</text>
<rect x="351.6" y="1042.5" width="6.5" height="0.6" fill="#ffffff" opacity="0.20"/>
<rect x="264.0" y="1050.0" width="101.0" height="47.0" fill="#f7f7f7"/>
<rect x="264.0" y="1091.0" width="101.0" height="6.0" fill="#ecc532"/>
<rect x="291.8" y="1075.8" width="45.5" height="1" fill="#ecc532" opacity="0.6"/>
<rect x="279.1" y="1078.8" width="70.7" height="1" fill="#ecc532" opacity="0.6"/>
<rect x="284.2" y="1081.8" width="60.6" height="1" fill="#ecc532" opacity="0.6"/>
<rect x="292.4" y="935.0" width="45.9" height="39.0" rx="4.6" fill="#f3f3f3"/>
<polygon points="302.64,944.96 315.08,943.45 307.86,954.91 306.80,953.56 308.92,948.45 303.87,949.00" fill="#cf4a45"/>
<polygon points="319.07,940.93 322.28,944.69 318.54,951.42 326.54,949.53 327.88,954.38 309.73,958.67" fill="#2ba4d3"/>
<text x="299.2" y="967.0" font-family="Liberation Sans" font-size="7.9" fill="#4a4a4a" textLength="32.4" lengthAdjust="spacingAndGlyphs">SEASON</text>
<text transform="translate(285.8,1018.9) scale(1.14,1)" x="0" y="0" font-family="Liberation Sans" font-weight="bold" font-size="19.5" fill="#ffffff" stroke="#ffffff" stroke-width="0.9" stroke-linejoin="round" textLength="48.9" lengthAdjust="spacing">R290</text>
<rect x="298.6" y="1023.5" width="30.3" height="1.2" fill="#ffffff" opacity="0.5"/>
<rect x="286.0" y="1026.5" width="55.6" height="1.2" fill="#ffffff" opacity="0.5"/>
<rect x="292.5" y="1029.5" width="42.4" height="1.2" fill="#ffffff" opacity="0.5"/>
<polygon points="292.4,775.5 297.6,772.5 310.5,798.2 307.5,799.8" fill="#ddbf25" fill-opacity="0.5" stroke="#ddbf25" stroke-width="1.35" stroke-linejoin="round"/>
<polygon points="339.3,772.6 344.7,775.4 330.5,799.8 327.5,798.2" fill="#ddbf25" fill-opacity="0.5" stroke="#ddbf25" stroke-width="1.35" stroke-linejoin="round"/>
<rect x="317.4" y="782.0" width="3.2" height="19.0" fill="#3a3f45"/>
<rect x="318.5" y="783.0" width="1" height="17.0" fill="#9aa3aa"/>
<rect x="320.5" y="789.0" width="4.5" height="4" rx="1.5" fill="#2d3238"/>
<rect x="312.0" y="780.5" width="14" height="2.2" rx="1" fill="#2aa86e"/>
<rect x="303.9" y="797.5" width="30.8" height="4" rx="1.5" fill="#ddbf25"/>
<ellipse cx="290.3" cy="918.0" rx="5.9" ry="3.2" fill="#ddbf25"/>
<ellipse cx="319.2" cy="918.0" rx="5.9" ry="3.2" fill="#ddbf25"/>
<ellipse cx="348.2" cy="918.0" rx="5.9" ry="3.2" fill="#ddbf25"/>
<path d="M274.0 831.0 A45.2 30.0 0 0 1 364.5 831.0 L364.5 900.0 A45.2 18.0 0 0 1 274.0 900.0 Z" fill="url(#cg7)"/>
<path d="M274.0 831.0 A45.2 30.0 0 0 1 364.5 831.0 L364.5 900.0 A45.2 18.0 0 0 1 274.0 900.0 Z" fill="url(#vg9)"/>
<ellipse cx="319.2" cy="817.5" rx="29.0" ry="9.6" fill="url(#rg8)"/>
<rect x="274.3" y="860.4" width="89.9" height="1.2" fill="#ad9312" opacity="0.6"/>
<rect x="274.3" y="861.6" width="89.9" height="1" fill="#ecd24a" opacity="0.5"/>
<polygon points="301.50,838.11 316.29,836.76 307.71,847.03 306.45,845.82 308.97,841.24 302.97,841.73" fill="#22262e"/><polygon points="321.03,834.50 324.84,837.87 320.40,843.90 329.91,842.21 331.50,846.55 309.93,850.40" fill="#22262e"/>
<text x="316.5" y="854.5" font-family="Liberation Sans" font-size="5" fill="#2a2f38" text-anchor="middle" textLength="24.0" lengthAdjust="spacingAndGlyphs">SEASON</text>
<text x="300.0" y="879.0" font-family="Liberation Sans" font-weight="bold" font-size="11.6" fill="#2b2b2e" textLength="28.0" lengthAdjust="spacingAndGlyphs">R290</text>
<rect x="297.7" y="881.5" width="32.6" height="0.7" fill="#333" opacity="0.4"/>
<rect x="300.4" y="883.9" width="27.1" height="0.7" fill="#333" opacity="0.4"/>
<rect x="295.9" y="886.3" width="36.2" height="0.7" fill="#333" opacity="0.4"/>
<rect x="298.6" y="888.7" width="30.8" height="0.7" fill="#333" opacity="0.4"/>
<rect x="280.3" y="833.0" width="10.9" height="0.7" fill="#333" opacity="0.22"/>
<rect x="280.3" y="835.6" width="14.5" height="0.7" fill="#333" opacity="0.22"/>
<rect x="280.3" y="838.2" width="18.1" height="0.7" fill="#333" opacity="0.22"/>
<rect x="280.3" y="840.8" width="10.9" height="0.7" fill="#333" opacity="0.22"/>
<rect x="280.3" y="843.4" width="14.5" height="0.7" fill="#333" opacity="0.22"/>
<rect x="280.3" y="846.0" width="18.1" height="0.7" fill="#333" opacity="0.22"/>
<rect x="280.3" y="848.6" width="10.9" height="0.7" fill="#333" opacity="0.22"/>
<rect x="340.1" y="833.0" width="10.9" height="0.7" fill="#333" opacity="0.22"/>
<rect x="340.1" y="835.6" width="14.5" height="0.7" fill="#333" opacity="0.22"/>
<rect x="340.1" y="838.2" width="18.1" height="0.7" fill="#333" opacity="0.22"/>
<rect x="340.1" y="840.8" width="10.9" height="0.7" fill="#333" opacity="0.22"/>
<rect x="340.1" y="843.4" width="14.5" height="0.7" fill="#333" opacity="0.22"/>
<rect x="340.1" y="846.0" width="18.1" height="0.7" fill="#333" opacity="0.22"/>
<rect x="340.1" y="848.6" width="10.9" height="0.7" fill="#333" opacity="0.22"/>
<rect x="340.1" y="869.0" width="16.3" height="0.7" fill="#333" opacity="0.22"/>
<rect x="340.1" y="871.6" width="16.3" height="0.7" fill="#333" opacity="0.22"/>
<rect x="340.1" y="874.2" width="16.3" height="0.7" fill="#333" opacity="0.22"/>
<rect x="340.1" y="876.8" width="16.3" height="0.7" fill="#333" opacity="0.22"/>
<rect x="340.1" y="879.4" width="16.3" height="0.7" fill="#333" opacity="0.22"/>
<rect x="340.1" y="882.0" width="16.3" height="0.7" fill="#333" opacity="0.22"/>
<polygon points="383.6,919.0 487.4,919.0 491.4,913.0 387.6,913.0" fill="#f4f4f4"/>
<rect x="397.6" y="914.5" width="79.8" height="3" fill="#2a3140" opacity="0.55"/>
<polygon points="487.4,919.0 491.0,914.0 491.0,1091.0 487.4,1096.0" fill="#2d8fbd"/>
<rect x="383.6" y="919.0" width="103.8" height="177.0" fill="#39b3e1"/>
<rect x="470.5" y="942.0" width="15.1" height="19.4" fill="none" stroke="#ffffff" stroke-opacity="0.17" stroke-width="0.8"/>
<text x="478.1" y="954.6" font-family="Liberation Sans" font-size="8.8" fill="#ffffff" fill-opacity="0.22" text-anchor="middle">He</text>
<rect x="474.7" y="957.8" width="6.7" height="0.6" fill="#ffffff" opacity="0.17"/>
<rect x="387.0" y="963.0" width="15.1" height="19.4" fill="none" stroke="#ffffff" stroke-opacity="0.17" stroke-width="0.8"/>
<text x="394.6" y="975.6" font-family="Liberation Sans" font-size="8.8" fill="#ffffff" fill-opacity="0.22" text-anchor="middle">B</text>
<rect x="391.2" y="978.8" width="6.7" height="0.6" fill="#ffffff" opacity="0.17"/>
<rect x="403.7" y="963.0" width="15.1" height="19.4" fill="none" stroke="#ffffff" stroke-opacity="0.37" stroke-width="0.8"/>
<text x="411.2" y="975.6" font-family="Liberation Sans" font-size="8.8" fill="#ffffff" fill-opacity="0.49" text-anchor="middle">C</text>
<rect x="407.9" y="978.8" width="6.7" height="0.6" fill="#ffffff" opacity="0.37"/>
<rect x="420.4" y="963.0" width="15.1" height="19.4" fill="none" stroke="#ffffff" stroke-opacity="0.17" stroke-width="0.8"/>
<text x="427.9" y="975.6" font-family="Liberation Sans" font-size="8.8" fill="#ffffff" fill-opacity="0.22" text-anchor="middle">N</text>
<rect x="424.6" y="978.8" width="6.7" height="0.6" fill="#ffffff" opacity="0.17"/>
<rect x="437.1" y="963.0" width="15.1" height="19.4" fill="none" stroke="#ffffff" stroke-opacity="0.17" stroke-width="0.8"/>
<text x="444.7" y="975.6" font-family="Liberation Sans" font-size="8.8" fill="#ffffff" fill-opacity="0.22" text-anchor="middle">O</text>
<rect x="441.3" y="978.8" width="6.7" height="0.6" fill="#ffffff" opacity="0.17"/>
<rect x="453.8" y="963.0" width="15.1" height="19.4" fill="none" stroke="#ffffff" stroke-opacity="0.37" stroke-width="0.8"/>
<text x="461.4" y="975.6" font-family="Liberation Sans" font-size="8.8" fill="#ffffff" fill-opacity="0.49" text-anchor="middle">F</text>
<rect x="458.0" y="978.8" width="6.7" height="0.6" fill="#ffffff" opacity="0.37"/>
<rect x="470.5" y="963.0" width="15.1" height="19.4" fill="none" stroke="#ffffff" stroke-opacity="0.17" stroke-width="0.8"/>
<text x="478.1" y="975.6" font-family="Liberation Sans" font-size="8.8" fill="#ffffff" fill-opacity="0.22" text-anchor="middle">Ne</text>
<rect x="474.7" y="978.8" width="6.7" height="0.6" fill="#ffffff" opacity="0.17"/>
<rect x="387.0" y="984.0" width="15.1" height="19.4" fill="none" stroke="#ffffff" stroke-opacity="0.17" stroke-width="0.8"/>
<text x="394.6" y="996.6" font-family="Liberation Sans" font-size="8.8" fill="#ffffff" fill-opacity="0.22" text-anchor="middle">Al</text>
<rect x="391.2" y="999.8" width="6.7" height="0.6" fill="#ffffff" opacity="0.17"/>
<rect x="403.7" y="984.0" width="15.1" height="19.4" fill="none" stroke="#ffffff" stroke-opacity="0.17" stroke-width="0.8"/>
<text x="411.2" y="996.6" font-family="Liberation Sans" font-size="8.8" fill="#ffffff" fill-opacity="0.22" text-anchor="middle">Si</text>
<rect x="407.9" y="999.8" width="6.7" height="0.6" fill="#ffffff" opacity="0.17"/>
<rect x="420.4" y="984.0" width="15.1" height="19.4" fill="none" stroke="#ffffff" stroke-opacity="0.17" stroke-width="0.8"/>
<text x="427.9" y="996.6" font-family="Liberation Sans" font-size="8.8" fill="#ffffff" fill-opacity="0.22" text-anchor="middle">P</text>
<rect x="424.6" y="999.8" width="6.7" height="0.6" fill="#ffffff" opacity="0.17"/>
<rect x="437.1" y="984.0" width="15.1" height="19.4" fill="none" stroke="#ffffff" stroke-opacity="0.17" stroke-width="0.8"/>
<text x="444.7" y="996.6" font-family="Liberation Sans" font-size="8.8" fill="#ffffff" fill-opacity="0.22" text-anchor="middle">S</text>
<rect x="441.3" y="999.8" width="6.7" height="0.6" fill="#ffffff" opacity="0.17"/>
<rect x="453.8" y="984.0" width="15.1" height="19.4" fill="none" stroke="#ffffff" stroke-opacity="0.17" stroke-width="0.8"/>
<text x="461.4" y="996.6" font-family="Liberation Sans" font-size="8.8" fill="#ffffff" fill-opacity="0.22" text-anchor="middle">Cl</text>
<rect x="458.0" y="999.8" width="6.7" height="0.6" fill="#ffffff" opacity="0.17"/>
<rect x="470.5" y="984.0" width="15.1" height="19.4" fill="none" stroke="#ffffff" stroke-opacity="0.17" stroke-width="0.8"/>
<text x="478.1" y="996.6" font-family="Liberation Sans" font-size="8.8" fill="#ffffff" fill-opacity="0.22" text-anchor="middle">Ar</text>
<rect x="474.7" y="999.8" width="6.7" height="0.6" fill="#ffffff" opacity="0.17"/>
<rect x="387.0" y="1005.0" width="15.1" height="19.4" fill="none" stroke="#ffffff" stroke-opacity="0.17" stroke-width="0.8"/>
<text x="394.6" y="1017.6" font-family="Liberation Sans" font-size="8.8" fill="#ffffff" fill-opacity="0.22" text-anchor="middle">Ga</text>
<rect x="391.2" y="1020.8" width="6.7" height="0.6" fill="#ffffff" opacity="0.17"/>
<rect x="403.7" y="1005.0" width="15.1" height="19.4" fill="none" stroke="#ffffff" stroke-opacity="0.17" stroke-width="0.8"/>
<text x="411.2" y="1017.6" font-family="Liberation Sans" font-size="8.8" fill="#ffffff" fill-opacity="0.22" text-anchor="middle">Ge</text>
<rect x="407.9" y="1020.8" width="6.7" height="0.6" fill="#ffffff" opacity="0.17"/>
<rect x="420.4" y="1005.0" width="15.1" height="19.4" fill="none" stroke="#ffffff" stroke-opacity="0.17" stroke-width="0.8"/>
<text x="427.9" y="1017.6" font-family="Liberation Sans" font-size="8.8" fill="#ffffff" fill-opacity="0.22" text-anchor="middle">As</text>
<rect x="424.6" y="1020.8" width="6.7" height="0.6" fill="#ffffff" opacity="0.17"/>
<rect x="437.1" y="1005.0" width="15.1" height="19.4" fill="none" stroke="#ffffff" stroke-opacity="0.17" stroke-width="0.8"/>
<text x="444.7" y="1017.6" font-family="Liberation Sans" font-size="8.8" fill="#ffffff" fill-opacity="0.22" text-anchor="middle">Se</text>
<rect x="441.3" y="1020.8" width="6.7" height="0.6" fill="#ffffff" opacity="0.17"/>
<rect x="453.8" y="1005.0" width="15.1" height="19.4" fill="none" stroke="#ffffff" stroke-opacity="0.17" stroke-width="0.8"/>
<text x="461.4" y="1017.6" font-family="Liberation Sans" font-size="8.8" fill="#ffffff" fill-opacity="0.22" text-anchor="middle">Br</text>
<rect x="458.0" y="1020.8" width="6.7" height="0.6" fill="#ffffff" opacity="0.17"/>
<rect x="470.5" y="1005.0" width="15.1" height="19.4" fill="none" stroke="#ffffff" stroke-opacity="0.17" stroke-width="0.8"/>
<text x="478.1" y="1017.6" font-family="Liberation Sans" font-size="8.8" fill="#ffffff" fill-opacity="0.22" text-anchor="middle">Kr</text>
<rect x="474.7" y="1020.8" width="6.7" height="0.6" fill="#ffffff" opacity="0.17"/>
<rect x="387.0" y="1026.0" width="15.1" height="19.4" fill="none" stroke="#ffffff" stroke-opacity="0.17" stroke-width="0.8"/>
<text x="394.6" y="1038.6" font-family="Liberation Sans" font-size="8.8" fill="#ffffff" fill-opacity="0.22" text-anchor="middle">In</text>
<rect x="391.2" y="1041.8" width="6.7" height="0.6" fill="#ffffff" opacity="0.17"/>
<rect x="403.7" y="1026.0" width="15.1" height="19.4" fill="none" stroke="#ffffff" stroke-opacity="0.17" stroke-width="0.8"/>
<text x="411.2" y="1038.6" font-family="Liberation Sans" font-size="8.8" fill="#ffffff" fill-opacity="0.22" text-anchor="middle">Sn</text>
<rect x="407.9" y="1041.8" width="6.7" height="0.6" fill="#ffffff" opacity="0.17"/>
<rect x="420.4" y="1026.0" width="15.1" height="19.4" fill="none" stroke="#ffffff" stroke-opacity="0.17" stroke-width="0.8"/>
<text x="427.9" y="1038.6" font-family="Liberation Sans" font-size="8.8" fill="#ffffff" fill-opacity="0.22" text-anchor="middle">Sb</text>
<rect x="424.6" y="1041.8" width="6.7" height="0.6" fill="#ffffff" opacity="0.17"/>
<rect x="437.1" y="1026.0" width="15.1" height="19.4" fill="none" stroke="#ffffff" stroke-opacity="0.17" stroke-width="0.8"/>
<text x="444.7" y="1038.6" font-family="Liberation Sans" font-size="8.8" fill="#ffffff" fill-opacity="0.22" text-anchor="middle">Te</text>
<rect x="441.3" y="1041.8" width="6.7" height="0.6" fill="#ffffff" opacity="0.17"/>
<rect x="453.8" y="1026.0" width="15.1" height="19.4" fill="none" stroke="#ffffff" stroke-opacity="0.17" stroke-width="0.8"/>
<text x="461.4" y="1038.6" font-family="Liberation Sans" font-size="8.8" fill="#ffffff" fill-opacity="0.22" text-anchor="middle">I</text>
<rect x="458.0" y="1041.8" width="6.7" height="0.6" fill="#ffffff" opacity="0.17"/>
<rect x="470.5" y="1026.0" width="15.1" height="19.4" fill="none" stroke="#ffffff" stroke-opacity="0.17" stroke-width="0.8"/>
<text x="478.1" y="1038.6" font-family="Liberation Sans" font-size="8.8" fill="#ffffff" fill-opacity="0.22" text-anchor="middle">Xe</text>
<rect x="474.7" y="1041.8" width="6.7" height="0.6" fill="#ffffff" opacity="0.17"/>
<rect x="383.6" y="1050.0" width="103.8" height="46.0" fill="#f7f7f7"/>
<rect x="383.6" y="1090.5" width="103.8" height="5.5" fill="#39b3e1"/>
<rect x="412.1" y="1075.3" width="46.7" height="1" fill="#39b3e1" opacity="0.6"/>
<rect x="399.2" y="1078.3" width="72.7" height="1" fill="#39b3e1" opacity="0.6"/>
<rect x="404.4" y="1081.3" width="62.3" height="1" fill="#39b3e1" opacity="0.6"/>
<rect x="412.3" y="933.0" width="47.2" height="39.6" rx="4.7" fill="#f3f3f3"/>
<polygon points="422.83,943.11 435.62,941.58 428.20,953.22 427.11,951.85 429.29,946.66 424.10,947.22" fill="#cf4a45"/>
<polygon points="439.73,939.02 443.02,942.84 439.18,949.67 447.41,947.76 448.79,952.68 430.12,957.04" fill="#2ba4d3"/>
<text x="419.3" y="965.5" font-family="Liberation Sans" font-size="8.0" fill="#4a4a4a" textLength="33.3" lengthAdjust="spacingAndGlyphs">SEASON</text>
<text transform="translate(397.4,1018.6) scale(1.14,1)" x="0" y="0" font-family="Liberation Sans" font-weight="bold" font-size="19.3" fill="#ffffff" stroke="#ffffff" stroke-width="0.9" stroke-linejoin="round" textLength="63.2" lengthAdjust="spacing">R134A</text>
<rect x="417.9" y="1023.2" width="31.1" height="1.2" fill="#ffffff" opacity="0.5"/>
<rect x="404.9" y="1026.2" width="57.1" height="1.2" fill="#ffffff" opacity="0.5"/>
<rect x="411.7" y="1029.2" width="43.6" height="1.2" fill="#ffffff" opacity="0.5"/>
<polygon points="410.5,773.6 415.5,770.4 430.4,796.1 427.6,797.9" fill="#2fa8bb" fill-opacity="0.5" stroke="#2fa8bb" stroke-width="1.35" stroke-linejoin="round"/>
<polygon points="457.3,770.7 462.7,773.3 449.5,797.7 446.5,796.3" fill="#2fa8bb" fill-opacity="0.5" stroke="#2fa8bb" stroke-width="1.35" stroke-linejoin="round"/>
<rect x="435.4" y="780.0" width="3.2" height="19.0" fill="#3a3f45"/>
<rect x="436.5" y="781.0" width="1" height="17.0" fill="#9aa3aa"/>
<rect x="438.5" y="787.0" width="4.5" height="4" rx="1.5" fill="#2d3238"/>
<rect x="430.0" y="778.5" width="14" height="2.2" rx="1" fill="#2aa86e"/>
<rect x="421.7" y="793.5" width="31.1" height="4" rx="1.5" fill="#2fa8bb"/>
<ellipse cx="408.0" cy="917.0" rx="5.9" ry="3.2" fill="#2fa8bb"/>
<ellipse cx="437.2" cy="917.0" rx="5.9" ry="3.2" fill="#2fa8bb"/>
<ellipse cx="466.5" cy="917.0" rx="5.9" ry="3.2" fill="#2fa8bb"/>
<path d="M391.5 827.0 A45.8 30.0 0 0 1 483.0 827.0 L483.0 899.0 A45.8 18.0 0 0 1 391.5 899.0 Z" fill="url(#cg10)"/>
<path d="M391.5 827.0 A45.8 30.0 0 0 1 483.0 827.0 L483.0 899.0 A45.8 18.0 0 0 1 391.5 899.0 Z" fill="url(#vg12)"/>
<ellipse cx="437.2" cy="813.5" rx="29.3" ry="9.6" fill="url(#rg11)"/>
<rect x="391.8" y="856.4" width="90.9" height="1.2" fill="#1d7f90" opacity="0.6"/>
<rect x="391.8" y="857.6" width="90.9" height="1" fill="#4cbfd0" opacity="0.5"/>
<polygon points="422.10,836.73 437.38,835.33 428.52,845.95 427.22,844.70 429.82,839.97 423.62,840.48" fill="#22262e"/><polygon points="442.28,833.00 446.22,836.48 441.63,842.71 451.46,840.97 453.10,845.45 430.81,849.43" fill="#22262e"/>
<text x="437.6" y="853.5" font-family="Liberation Sans" font-size="5" fill="#2a2f38" text-anchor="middle" textLength="24.8" lengthAdjust="spacingAndGlyphs">SEASON</text>
<text x="417.3" y="876.7" font-family="Liberation Sans" font-weight="bold" font-size="11.6" fill="#2b2b2e" textLength="37.4" lengthAdjust="spacingAndGlyphs">R134A</text>
<rect x="419.5" y="879.2" width="32.9" height="0.7" fill="#333" opacity="0.4"/>
<rect x="422.3" y="881.6" width="27.4" height="0.7" fill="#333" opacity="0.4"/>
<rect x="417.7" y="884.0" width="36.6" height="0.7" fill="#333" opacity="0.4"/>
<rect x="420.4" y="886.4" width="31.1" height="0.7" fill="#333" opacity="0.4"/>
<rect x="397.9" y="829.0" width="11.0" height="0.7" fill="#333" opacity="0.22"/>
<rect x="397.9" y="831.6" width="14.6" height="0.7" fill="#333" opacity="0.22"/>
<rect x="397.9" y="834.2" width="18.3" height="0.7" fill="#333" opacity="0.22"/>
<rect x="397.9" y="836.8" width="11.0" height="0.7" fill="#333" opacity="0.22"/>
<rect x="397.9" y="839.4" width="14.6" height="0.7" fill="#333" opacity="0.22"/>
<rect x="397.9" y="842.0" width="18.3" height="0.7" fill="#333" opacity="0.22"/>
<rect x="397.9" y="844.6" width="11.0" height="0.7" fill="#333" opacity="0.22"/>
<rect x="458.3" y="829.0" width="11.0" height="0.7" fill="#333" opacity="0.22"/>
<rect x="458.3" y="831.6" width="14.6" height="0.7" fill="#333" opacity="0.22"/>
<rect x="458.3" y="834.2" width="18.3" height="0.7" fill="#333" opacity="0.22"/>
<rect x="458.3" y="836.8" width="11.0" height="0.7" fill="#333" opacity="0.22"/>
<rect x="458.3" y="839.4" width="14.6" height="0.7" fill="#333" opacity="0.22"/>
<rect x="458.3" y="842.0" width="18.3" height="0.7" fill="#333" opacity="0.22"/>
<rect x="458.3" y="844.6" width="11.0" height="0.7" fill="#333" opacity="0.22"/>
<rect x="458.3" y="865.0" width="16.5" height="0.7" fill="#333" opacity="0.22"/>
<rect x="458.3" y="867.6" width="16.5" height="0.7" fill="#333" opacity="0.22"/>
<rect x="458.3" y="870.2" width="16.5" height="0.7" fill="#333" opacity="0.22"/>
<rect x="458.3" y="872.8" width="16.5" height="0.7" fill="#333" opacity="0.22"/>
<rect x="458.3" y="875.4" width="16.5" height="0.7" fill="#333" opacity="0.22"/>
<rect x="458.3" y="878.0" width="16.5" height="0.7" fill="#333" opacity="0.22"/>
<polygon points="503.2,918.0 603.7,918.0 607.7,912.0 507.2,912.0" fill="#f4f4f4"/>
<rect x="517.2" y="913.5" width="76.5" height="3" fill="#2a3140" opacity="0.55"/>
<rect x="503.2" y="918.0" width="100.5" height="112.0" fill="#3fc7c3"/>
<rect x="565.6" y="960.0" width="18.6" height="19.9" fill="none" stroke="#ffffff" stroke-opacity="0.17" stroke-width="0.8"/>
<text x="574.9" y="972.9" font-family="Liberation Sans" font-size="9.0" fill="#ffffff" fill-opacity="0.22" text-anchor="middle">He</text>
<rect x="570.6" y="976.1" width="8.1" height="0.6" fill="#ffffff" opacity="0.17"/>
<rect x="505.0" y="981.5" width="18.6" height="19.9" fill="none" stroke="#ffffff" stroke-opacity="0.17" stroke-width="0.8"/>
<text x="514.3" y="994.4" font-family="Liberation Sans" font-size="9.0" fill="#ffffff" fill-opacity="0.22" text-anchor="middle">N</text>
<rect x="510.1" y="997.6" width="8.1" height="0.6" fill="#ffffff" opacity="0.17"/>
<rect x="525.2" y="981.5" width="18.6" height="19.9" fill="none" stroke="#ffffff" stroke-opacity="0.17" stroke-width="0.8"/>
<text x="534.5" y="994.4" font-family="Liberation Sans" font-size="9.0" fill="#ffffff" fill-opacity="0.22" text-anchor="middle">O</text>
<rect x="530.2" y="997.6" width="8.1" height="0.6" fill="#ffffff" opacity="0.17"/>
<rect x="545.4" y="981.5" width="18.6" height="19.9" fill="none" stroke="#ffffff" stroke-opacity="0.37" stroke-width="0.8"/>
<text x="554.7" y="994.4" font-family="Liberation Sans" font-size="9.0" fill="#ffffff" fill-opacity="0.49" text-anchor="middle">F</text>
<rect x="550.4" y="997.6" width="8.1" height="0.6" fill="#ffffff" opacity="0.37"/>
<rect x="565.6" y="981.5" width="18.6" height="19.9" fill="none" stroke="#ffffff" stroke-opacity="0.17" stroke-width="0.8"/>
<text x="574.9" y="994.4" font-family="Liberation Sans" font-size="9.0" fill="#ffffff" fill-opacity="0.22" text-anchor="middle">Ne</text>
<rect x="570.6" y="997.6" width="8.1" height="0.6" fill="#ffffff" opacity="0.17"/>
<rect x="505.0" y="1003.0" width="18.6" height="19.9" fill="none" stroke="#ffffff" stroke-opacity="0.17" stroke-width="0.8"/>
<text x="514.3" y="1015.9" font-family="Liberation Sans" font-size="9.0" fill="#ffffff" fill-opacity="0.22" text-anchor="middle">P</text>
<rect x="510.1" y="1019.1" width="8.1" height="0.6" fill="#ffffff" opacity="0.17"/>
<rect x="525.2" y="1003.0" width="18.6" height="19.9" fill="none" stroke="#ffffff" stroke-opacity="0.17" stroke-width="0.8"/>
<text x="534.5" y="1015.9" font-family="Liberation Sans" font-size="9.0" fill="#ffffff" fill-opacity="0.22" text-anchor="middle">S</text>
<rect x="530.2" y="1019.1" width="8.1" height="0.6" fill="#ffffff" opacity="0.17"/>
<rect x="545.4" y="1003.0" width="18.6" height="19.9" fill="none" stroke="#ffffff" stroke-opacity="0.17" stroke-width="0.8"/>
<text x="554.7" y="1015.9" font-family="Liberation Sans" font-size="9.0" fill="#ffffff" fill-opacity="0.22" text-anchor="middle">Cl</text>
<rect x="550.4" y="1019.1" width="8.1" height="0.6" fill="#ffffff" opacity="0.17"/>
<rect x="565.6" y="1003.0" width="18.6" height="19.9" fill="none" stroke="#ffffff" stroke-opacity="0.17" stroke-width="0.8"/>
<text x="574.9" y="1015.9" font-family="Liberation Sans" font-size="9.0" fill="#ffffff" fill-opacity="0.22" text-anchor="middle">Ar</text>
<rect x="570.6" y="1019.1" width="8.1" height="0.6" fill="#ffffff" opacity="0.17"/>
<rect x="505.0" y="1024.5" width="18.6" height="19.9" fill="none" stroke="#ffffff" stroke-opacity="0.17" stroke-width="0.8"/>
<text x="514.3" y="1037.4" font-family="Liberation Sans" font-size="9.0" fill="#ffffff" fill-opacity="0.22" text-anchor="middle">As</text>
<rect x="510.1" y="1040.6" width="8.1" height="0.6" fill="#ffffff" opacity="0.17"/>
<rect x="525.2" y="1024.5" width="18.6" height="19.9" fill="none" stroke="#ffffff" stroke-opacity="0.17" stroke-width="0.8"/>
<text x="534.5" y="1037.4" font-family="Liberation Sans" font-size="9.0" fill="#ffffff" fill-opacity="0.22" text-anchor="middle">Se</text>
<rect x="530.2" y="1040.6" width="8.1" height="0.6" fill="#ffffff" opacity="0.17"/>
<rect x="545.4" y="1024.5" width="18.6" height="19.9" fill="none" stroke="#ffffff" stroke-opacity="0.17" stroke-width="0.8"/>
<text x="554.7" y="1037.4" font-family="Liberation Sans" font-size="9.0" fill="#ffffff" fill-opacity="0.22" text-anchor="middle">Br</text>
<rect x="550.4" y="1040.6" width="8.1" height="0.6" fill="#ffffff" opacity="0.17"/>
<rect x="565.6" y="1024.5" width="18.6" height="19.9" fill="none" stroke="#ffffff" stroke-opacity="0.17" stroke-width="0.8"/>
<text x="574.9" y="1037.4" font-family="Liberation Sans" font-size="9.0" fill="#ffffff" fill-opacity="0.22" text-anchor="middle">Kr</text>
<rect x="570.6" y="1040.6" width="8.1" height="0.6" fill="#ffffff" opacity="0.17"/>
<rect x="505.0" y="1046.0" width="18.6" height="19.9" fill="none" stroke="#ffffff" stroke-opacity="0.17" stroke-width="0.8"/>
<text x="514.3" y="1058.9" font-family="Liberation Sans" font-size="9.0" fill="#ffffff" fill-opacity="0.22" text-anchor="middle">Sb</text>
<rect x="510.1" y="1062.1" width="8.1" height="0.6" fill="#ffffff" opacity="0.17"/>
<rect x="525.2" y="1046.0" width="18.6" height="19.9" fill="none" stroke="#ffffff" stroke-opacity="0.17" stroke-width="0.8"/>
<text x="534.5" y="1058.9" font-family="Liberation Sans" font-size="9.0" fill="#ffffff" fill-opacity="0.22" text-anchor="middle">Te</text>
<rect x="530.2" y="1062.1" width="8.1" height="0.6" fill="#ffffff" opacity="0.17"/>
<rect x="545.4" y="1046.0" width="18.6" height="19.9" fill="none" stroke="#ffffff" stroke-opacity="0.17" stroke-width="0.8"/>
<text x="554.7" y="1058.9" font-family="Liberation Sans" font-size="9.0" fill="#ffffff" fill-opacity="0.22" text-anchor="middle">I</text>
<rect x="550.4" y="1062.1" width="8.1" height="0.6" fill="#ffffff" opacity="0.17"/>
<rect x="565.6" y="1046.0" width="18.6" height="19.9" fill="none" stroke="#ffffff" stroke-opacity="0.17" stroke-width="0.8"/>
<text x="574.9" y="1058.9" font-family="Liberation Sans" font-size="9.0" fill="#ffffff" fill-opacity="0.22" text-anchor="middle">Xe</text>
<rect x="570.6" y="1062.1" width="8.1" height="0.6" fill="#ffffff" opacity="0.17"/>
<rect x="503.2" y="1040.0" width="100.5" height="-10.0" fill="#f7f7f7"/>
<rect x="530.0" y="936.7" width="49.0" height="41.0" rx="4.9" fill="#f3f3f3"/>
<polygon points="540.93,947.17 554.21,945.58 546.51,957.63 545.37,956.21 547.64,950.84 542.25,951.42" fill="#cf4a45"/>
<polygon points="558.47,942.93 561.89,946.89 557.91,953.96 566.45,951.98 567.88,957.07 548.50,961.59" fill="#2ba4d3"/>
<text x="537.3" y="970.3" font-family="Liberation Sans" font-size="8.3" fill="#4a4a4a" textLength="34.6" lengthAdjust="spacingAndGlyphs">SEASON</text>
<text transform="translate(525.6,1011.4) scale(1.14,1)" x="0" y="0" font-family="Liberation Sans" font-weight="bold" font-size="20.2" fill="#ffffff" stroke="#ffffff" stroke-width="0.9" stroke-linejoin="round" textLength="51.3" lengthAdjust="spacing">R507</text>
<rect x="539.8" y="1016.0" width="30.2" height="1.2" fill="#ffffff" opacity="0.5"/>
<rect x="527.3" y="1019.0" width="55.3" height="1.2" fill="#ffffff" opacity="0.5"/>
<rect x="533.8" y="1022.0" width="42.2" height="1.2" fill="#ffffff" opacity="0.5"/>
<polygon points="528.4,776.5 533.6,773.5 547.0,799.1 544.0,800.9" fill="#35bbb7" fill-opacity="0.5" stroke="#35bbb7" stroke-width="1.35" stroke-linejoin="round"/>
<polygon points="574.4,773.5 579.6,776.5 564.5,800.8 561.5,799.2" fill="#35bbb7" fill-opacity="0.5" stroke="#35bbb7" stroke-width="1.35" stroke-linejoin="round"/>
<rect x="552.4" y="783.0" width="3.2" height="19.0" fill="#3a3f45"/>
<rect x="553.5" y="784.0" width="1" height="17.0" fill="#9aa3aa"/>
<rect x="555.5" y="790.0" width="4.5" height="4" rx="1.5" fill="#2d3238"/>
<rect x="547.0" y="781.5" width="14" height="2.2" rx="1" fill="#2aa86e"/>
<rect x="539.0" y="798.5" width="30.9" height="4" rx="1.5" fill="#35bbb7"/>
<ellipse cx="525.4" cy="917.0" rx="5.9" ry="3.2" fill="#35bbb7"/>
<ellipse cx="554.5" cy="917.0" rx="5.9" ry="3.2" fill="#35bbb7"/>
<ellipse cx="583.6" cy="917.0" rx="5.9" ry="3.2" fill="#35bbb7"/>
<path d="M509.0 832.0 A45.5 30.0 0 0 1 600.0 832.0 L600.0 899.0 A45.5 18.0 0 0 1 509.0 899.0 Z" fill="url(#cg13)"/>
<path d="M509.0 832.0 A45.5 30.0 0 0 1 600.0 832.0 L600.0 899.0 A45.5 18.0 0 0 1 509.0 899.0 Z" fill="url(#vg15)"/>
<ellipse cx="554.5" cy="818.5" rx="29.1" ry="9.6" fill="url(#rg14)"/>
<rect x="509.3" y="861.4" width="90.4" height="1.2" fill="#22918d" opacity="0.6"/>
<rect x="509.3" y="862.6" width="90.4" height="1" fill="#58cfcb" opacity="0.5"/>
<polygon points="540.00,841.75 553.31,840.53 545.59,849.78 544.46,848.69 546.72,844.57 541.32,845.01" fill="#22262e"/><polygon points="557.58,838.50 561.01,841.53 557.01,846.96 565.57,845.44 567.00,849.35 547.59,852.81" fill="#22262e"/>
<text x="553.5" y="857.1" font-family="Liberation Sans" font-size="5" fill="#2a2f38" text-anchor="middle" textLength="21.6" lengthAdjust="spacingAndGlyphs">SEASON</text>
<text x="540.6" y="879.6" font-family="Liberation Sans" font-weight="bold" font-size="11.6" fill="#2b2b2e" textLength="25.4" lengthAdjust="spacingAndGlyphs">R507</text>
<rect x="536.9" y="882.1" width="32.8" height="0.7" fill="#333" opacity="0.4"/>
<rect x="539.6" y="884.5" width="27.3" height="0.7" fill="#333" opacity="0.4"/>
<rect x="535.1" y="886.9" width="36.4" height="0.7" fill="#333" opacity="0.4"/>
<rect x="537.8" y="889.3" width="30.9" height="0.7" fill="#333" opacity="0.4"/>
<rect x="515.4" y="834.0" width="10.9" height="0.7" fill="#333" opacity="0.22"/>
<rect x="515.4" y="836.6" width="14.6" height="0.7" fill="#333" opacity="0.22"/>
<rect x="515.4" y="839.2" width="18.2" height="0.7" fill="#333" opacity="0.22"/>
<rect x="515.4" y="841.8" width="10.9" height="0.7" fill="#333" opacity="0.22"/>
<rect x="515.4" y="844.4" width="14.6" height="0.7" fill="#333" opacity="0.22"/>
<rect x="515.4" y="847.0" width="18.2" height="0.7" fill="#333" opacity="0.22"/>
<rect x="515.4" y="849.6" width="10.9" height="0.7" fill="#333" opacity="0.22"/>
<rect x="575.4" y="834.0" width="10.9" height="0.7" fill="#333" opacity="0.22"/>
<rect x="575.4" y="836.6" width="14.6" height="0.7" fill="#333" opacity="0.22"/>
<rect x="575.4" y="839.2" width="18.2" height="0.7" fill="#333" opacity="0.22"/>
<rect x="575.4" y="841.8" width="10.9" height="0.7" fill="#333" opacity="0.22"/>
<rect x="575.4" y="844.4" width="14.6" height="0.7" fill="#333" opacity="0.22"/>
<rect x="575.4" y="847.0" width="18.2" height="0.7" fill="#333" opacity="0.22"/>
<rect x="575.4" y="849.6" width="10.9" height="0.7" fill="#333" opacity="0.22"/>
<rect x="575.4" y="870.0" width="16.4" height="0.7" fill="#333" opacity="0.22"/>
<rect x="575.4" y="872.6" width="16.4" height="0.7" fill="#333" opacity="0.22"/>
<rect x="575.4" y="875.2" width="16.4" height="0.7" fill="#333" opacity="0.22"/>
<rect x="575.4" y="877.8" width="16.4" height="0.7" fill="#333" opacity="0.22"/>
<rect x="575.4" y="880.4" width="16.4" height="0.7" fill="#333" opacity="0.22"/>
<rect x="575.4" y="883.0" width="16.4" height="0.7" fill="#333" opacity="0.22"/>
<polygon points="621.8,918.0 723.2,918.0 727.2,912.0 625.8,912.0" fill="#f4f4f4"/>
<rect x="635.8" y="913.5" width="77.5" height="3" fill="#2a3140" opacity="0.55"/>
<rect x="621.8" y="918.0" width="101.5" height="180.0" fill="#3bbd6e"/>
<rect x="706.0" y="942.0" width="15.0" height="19.4" fill="none" stroke="#ffffff" stroke-opacity="0.22" stroke-width="0.8"/>
<text x="713.5" y="954.6" font-family="Liberation Sans" font-size="8.8" fill="#ffffff" fill-opacity="0.29" text-anchor="middle">He</text>
<rect x="710.1" y="957.8" width="6.6" height="0.6" fill="#ffffff" opacity="0.22"/>
<rect x="623.0" y="963.0" width="15.0" height="19.4" fill="none" stroke="#ffffff" stroke-opacity="0.22" stroke-width="0.8"/>
<text x="630.5" y="975.6" font-family="Liberation Sans" font-size="8.8" fill="#ffffff" fill-opacity="0.29" text-anchor="middle">B</text>
<rect x="627.1" y="978.8" width="6.6" height="0.6" fill="#ffffff" opacity="0.22"/>
<rect x="639.6" y="963.0" width="15.0" height="19.4" fill="none" stroke="#ffffff" stroke-opacity="0.48" stroke-width="0.8"/>
<text x="647.1" y="975.6" font-family="Liberation Sans" font-size="8.8" fill="#ffffff" fill-opacity="0.63" text-anchor="middle">C</text>
<rect x="643.8" y="978.8" width="6.6" height="0.6" fill="#ffffff" opacity="0.48"/>
<rect x="656.2" y="963.0" width="15.0" height="19.4" fill="none" stroke="#ffffff" stroke-opacity="0.22" stroke-width="0.8"/>
<text x="663.7" y="975.6" font-family="Liberation Sans" font-size="8.8" fill="#ffffff" fill-opacity="0.29" text-anchor="middle">N</text>
<rect x="660.4" y="978.8" width="6.6" height="0.6" fill="#ffffff" opacity="0.22"/>
<rect x="672.8" y="963.0" width="15.0" height="19.4" fill="none" stroke="#ffffff" stroke-opacity="0.22" stroke-width="0.8"/>
<text x="680.3" y="975.6" font-family="Liberation Sans" font-size="8.8" fill="#ffffff" fill-opacity="0.29" text-anchor="middle">O</text>
<rect x="676.9" y="978.8" width="6.6" height="0.6" fill="#ffffff" opacity="0.22"/>
<rect x="689.4" y="963.0" width="15.0" height="19.4" fill="none" stroke="#ffffff" stroke-opacity="0.48" stroke-width="0.8"/>
<text x="696.9" y="975.6" font-family="Liberation Sans" font-size="8.8" fill="#ffffff" fill-opacity="0.63" text-anchor="middle">F</text>
<rect x="693.5" y="978.8" width="6.6" height="0.6" fill="#ffffff" opacity="0.48"/>
<rect x="706.0" y="963.0" width="15.0" height="19.4" fill="none" stroke="#ffffff" stroke-opacity="0.22" stroke-width="0.8"/>
<text x="713.5" y="975.6" font-family="Liberation Sans" font-size="8.8" fill="#ffffff" fill-opacity="0.29" text-anchor="middle">Ne</text>
<rect x="710.1" y="978.8" width="6.6" height="0.6" fill="#ffffff" opacity="0.22"/>
<rect x="623.0" y="984.0" width="15.0" height="19.4" fill="none" stroke="#ffffff" stroke-opacity="0.22" stroke-width="0.8"/>
<text x="630.5" y="996.6" font-family="Liberation Sans" font-size="8.8" fill="#ffffff" fill-opacity="0.29" text-anchor="middle">Al</text>
<rect x="627.1" y="999.8" width="6.6" height="0.6" fill="#ffffff" opacity="0.22"/>
<rect x="639.6" y="984.0" width="15.0" height="19.4" fill="none" stroke="#ffffff" stroke-opacity="0.22" stroke-width="0.8"/>
<text x="647.1" y="996.6" font-family="Liberation Sans" font-size="8.8" fill="#ffffff" fill-opacity="0.29" text-anchor="middle">Si</text>
<rect x="643.8" y="999.8" width="6.6" height="0.6" fill="#ffffff" opacity="0.22"/>
<rect x="656.2" y="984.0" width="15.0" height="19.4" fill="none" stroke="#ffffff" stroke-opacity="0.22" stroke-width="0.8"/>
<text x="663.7" y="996.6" font-family="Liberation Sans" font-size="8.8" fill="#ffffff" fill-opacity="0.29" text-anchor="middle">P</text>
<rect x="660.4" y="999.8" width="6.6" height="0.6" fill="#ffffff" opacity="0.22"/>
<rect x="672.8" y="984.0" width="15.0" height="19.4" fill="none" stroke="#ffffff" stroke-opacity="0.22" stroke-width="0.8"/>
<text x="680.3" y="996.6" font-family="Liberation Sans" font-size="8.8" fill="#ffffff" fill-opacity="0.29" text-anchor="middle">S</text>
<rect x="676.9" y="999.8" width="6.6" height="0.6" fill="#ffffff" opacity="0.22"/>
<rect x="689.4" y="984.0" width="15.0" height="19.4" fill="none" stroke="#ffffff" stroke-opacity="0.22" stroke-width="0.8"/>
<text x="696.9" y="996.6" font-family="Liberation Sans" font-size="8.8" fill="#ffffff" fill-opacity="0.29" text-anchor="middle">Cl</text>
<rect x="693.5" y="999.8" width="6.6" height="0.6" fill="#ffffff" opacity="0.22"/>
<rect x="706.0" y="984.0" width="15.0" height="19.4" fill="none" stroke="#ffffff" stroke-opacity="0.22" stroke-width="0.8"/>
<text x="713.5" y="996.6" font-family="Liberation Sans" font-size="8.8" fill="#ffffff" fill-opacity="0.29" text-anchor="middle">Ar</text>
<rect x="710.1" y="999.8" width="6.6" height="0.6" fill="#ffffff" opacity="0.22"/>
<rect x="623.0" y="1005.0" width="15.0" height="19.4" fill="none" stroke="#ffffff" stroke-opacity="0.22" stroke-width="0.8"/>
<text x="630.5" y="1017.6" font-family="Liberation Sans" font-size="8.8" fill="#ffffff" fill-opacity="0.29" text-anchor="middle">Ga</text>
<rect x="627.1" y="1020.8" width="6.6" height="0.6" fill="#ffffff" opacity="0.22"/>
<rect x="639.6" y="1005.0" width="15.0" height="19.4" fill="none" stroke="#ffffff" stroke-opacity="0.22" stroke-width="0.8"/>
<text x="647.1" y="1017.6" font-family="Liberation Sans" font-size="8.8" fill="#ffffff" fill-opacity="0.29" text-anchor="middle">Ge</text>
<rect x="643.8" y="1020.8" width="6.6" height="0.6" fill="#ffffff" opacity="0.22"/>
<rect x="656.2" y="1005.0" width="15.0" height="19.4" fill="none" stroke="#ffffff" stroke-opacity="0.22" stroke-width="0.8"/>
<text x="663.7" y="1017.6" font-family="Liberation Sans" font-size="8.8" fill="#ffffff" fill-opacity="0.29" text-anchor="middle">As</text>
<rect x="660.4" y="1020.8" width="6.6" height="0.6" fill="#ffffff" opacity="0.22"/>
<rect x="672.8" y="1005.0" width="15.0" height="19.4" fill="none" stroke="#ffffff" stroke-opacity="0.22" stroke-width="0.8"/>
<text x="680.3" y="1017.6" font-family="Liberation Sans" font-size="8.8" fill="#ffffff" fill-opacity="0.29" text-anchor="middle">Se</text>
<rect x="676.9" y="1020.8" width="6.6" height="0.6" fill="#ffffff" opacity="0.22"/>
<rect x="689.4" y="1005.0" width="15.0" height="19.4" fill="none" stroke="#ffffff" stroke-opacity="0.22" stroke-width="0.8"/>
<text x="696.9" y="1017.6" font-family="Liberation Sans" font-size="8.8" fill="#ffffff" fill-opacity="0.29" text-anchor="middle">Br</text>
<rect x="693.5" y="1020.8" width="6.6" height="0.6" fill="#ffffff" opacity="0.22"/>
<rect x="706.0" y="1005.0" width="15.0" height="19.4" fill="none" stroke="#ffffff" stroke-opacity="0.22" stroke-width="0.8"/>
<text x="713.5" y="1017.6" font-family="Liberation Sans" font-size="8.8" fill="#ffffff" fill-opacity="0.29" text-anchor="middle">Kr</text>
<rect x="710.1" y="1020.8" width="6.6" height="0.6" fill="#ffffff" opacity="0.22"/>
<rect x="623.0" y="1026.0" width="15.0" height="19.4" fill="none" stroke="#ffffff" stroke-opacity="0.22" stroke-width="0.8"/>
<text x="630.5" y="1038.6" font-family="Liberation Sans" font-size="8.8" fill="#ffffff" fill-opacity="0.29" text-anchor="middle">In</text>
<rect x="627.1" y="1041.8" width="6.6" height="0.6" fill="#ffffff" opacity="0.22"/>
<rect x="639.6" y="1026.0" width="15.0" height="19.4" fill="none" stroke="#ffffff" stroke-opacity="0.22" stroke-width="0.8"/>
<text x="647.1" y="1038.6" font-family="Liberation Sans" font-size="8.8" fill="#ffffff" fill-opacity="0.29" text-anchor="middle">Sn</text>
<rect x="643.8" y="1041.8" width="6.6" height="0.6" fill="#ffffff" opacity="0.22"/>
<rect x="656.2" y="1026.0" width="15.0" height="19.4" fill="none" stroke="#ffffff" stroke-opacity="0.22" stroke-width="0.8"/>
<text x="663.7" y="1038.6" font-family="Liberation Sans" font-size="8.8" fill="#ffffff" fill-opacity="0.29" text-anchor="middle">Sb</text>
<rect x="660.4" y="1041.8" width="6.6" height="0.6" fill="#ffffff" opacity="0.22"/>
<rect x="672.8" y="1026.0" width="15.0" height="19.4" fill="none" stroke="#ffffff" stroke-opacity="0.22" stroke-width="0.8"/>
<text x="680.3" y="1038.6" font-family="Liberation Sans" font-size="8.8" fill="#ffffff" fill-opacity="0.29" text-anchor="middle">Te</text>
<rect x="676.9" y="1041.8" width="6.6" height="0.6" fill="#ffffff" opacity="0.22"/>
<rect x="689.4" y="1026.0" width="15.0" height="19.4" fill="none" stroke="#ffffff" stroke-opacity="0.22" stroke-width="0.8"/>
<text x="696.9" y="1038.6" font-family="Liberation Sans" font-size="8.8" fill="#ffffff" fill-opacity="0.29" text-anchor="middle">I</text>
<rect x="693.5" y="1041.8" width="6.6" height="0.6" fill="#ffffff" opacity="0.22"/>
<rect x="706.0" y="1026.0" width="15.0" height="19.4" fill="none" stroke="#ffffff" stroke-opacity="0.22" stroke-width="0.8"/>
<text x="713.5" y="1038.6" font-family="Liberation Sans" font-size="8.8" fill="#ffffff" fill-opacity="0.29" text-anchor="middle">Xe</text>
<rect x="710.1" y="1041.8" width="6.6" height="0.6" fill="#ffffff" opacity="0.22"/>
<rect x="621.8" y="1048.0" width="101.5" height="50.0" fill="#f7f7f7"/>
<rect x="621.8" y="1092.0" width="101.5" height="6.0" fill="#3bbd6e"/>
<rect x="649.6" y="1075.5" width="45.7" height="1" fill="#3bbd6e" opacity="0.6"/>
<rect x="637.0" y="1078.5" width="71.0" height="1" fill="#3bbd6e" opacity="0.6"/>
<rect x="642.0" y="1081.5" width="60.9" height="1" fill="#3bbd6e" opacity="0.6"/>
<rect x="650.6" y="932.8" width="47.0" height="39.5" rx="4.7" fill="#f3f3f3"/>
<polygon points="661.08,942.88 673.83,941.36 666.43,952.97 665.35,951.60 667.52,946.42 662.35,946.98" fill="#cf4a45"/>
<polygon points="677.91,938.80 681.19,942.61 677.37,949.43 685.56,947.52 686.93,952.43 668.34,956.78" fill="#2ba4d3"/>
<text x="657.6" y="965.2" font-family="Liberation Sans" font-size="8.0" fill="#4a4a4a" textLength="33.2" lengthAdjust="spacingAndGlyphs">SEASON</text>
<text transform="translate(650.6,1018.1) scale(1.14,1)" x="0" y="0" font-family="Liberation Sans" font-weight="bold" font-size="19.2" fill="#ffffff" stroke="#ffffff" stroke-width="0.9" stroke-linejoin="round" textLength="37.6" lengthAdjust="spacing">R22</text>
<rect x="656.8" y="1022.7" width="30.4" height="1.2" fill="#ffffff" opacity="0.5"/>
<rect x="644.1" y="1025.7" width="55.8" height="1.2" fill="#ffffff" opacity="0.5"/>
<rect x="650.7" y="1028.7" width="42.6" height="1.2" fill="#ffffff" opacity="0.5"/>
<polygon points="645.4,774.0 650.6,771.2 663.5,797.2 660.5,798.8" fill="#2fbd6f" fill-opacity="0.5" stroke="#2fbd6f" stroke-width="1.35" stroke-linejoin="round"/>
<polygon points="692.4,771.2 697.6,774.0 682.5,798.8 679.5,797.2" fill="#2fbd6f" fill-opacity="0.5" stroke="#2fbd6f" stroke-width="1.35" stroke-linejoin="round"/>
<rect x="669.4" y="780.6" width="3.2" height="19.4" fill="#3a3f45"/>
<rect x="670.5" y="781.6" width="1" height="17.4" fill="#9aa3aa"/>
<rect x="672.5" y="787.6" width="4.5" height="4" rx="1.5" fill="#2d3238"/>
<rect x="664.0" y="779.1" width="14" height="2.2" rx="1" fill="#2aa86e"/>
<rect x="655.9" y="795.5" width="30.8" height="4" rx="1.5" fill="#2fbd6f"/>
<ellipse cx="642.3" cy="918.0" rx="5.9" ry="3.2" fill="#2fbd6f"/>
<ellipse cx="671.2" cy="918.0" rx="5.9" ry="3.2" fill="#2fbd6f"/>
<ellipse cx="700.2" cy="918.0" rx="5.9" ry="3.2" fill="#2fbd6f"/>
<path d="M626.0 829.0 A45.2 30.0 0 0 1 716.5 829.0 L716.5 900.0 A45.2 18.0 0 0 1 626.0 900.0 Z" fill="url(#cg16)"/>
<path d="M626.0 829.0 A45.2 30.0 0 0 1 716.5 829.0 L716.5 900.0 A45.2 18.0 0 0 1 626.0 900.0 Z" fill="url(#vg18)"/>
<ellipse cx="671.2" cy="815.5" rx="29.0" ry="9.6" fill="url(#rg17)"/>
<rect x="626.3" y="858.4" width="89.9" height="1.2" fill="#1f9052" opacity="0.6"/>
<rect x="626.3" y="859.6" width="89.9" height="1" fill="#58d690" opacity="0.5"/>
<polygon points="661.30,837.37 675.10,836.11 667.10,845.69 665.92,844.57 668.27,840.29 662.67,840.75" fill="#22262e"/><polygon points="679.53,834.00 683.08,837.15 678.94,842.77 687.82,841.20 689.30,845.25 669.17,848.84" fill="#22262e"/>
<text x="675.3" y="853.0" font-family="Liberation Sans" font-size="5" fill="#2a2f38" text-anchor="middle" textLength="22.4" lengthAdjust="spacingAndGlyphs">SEASON</text>
<text x="662.7" y="876.7" font-family="Liberation Sans" font-weight="bold" font-size="11.6" fill="#2b2b2e" textLength="21.0" lengthAdjust="spacingAndGlyphs">R22</text>
<rect x="656.9" y="879.2" width="32.6" height="0.7" fill="#333" opacity="0.4"/>
<rect x="659.6" y="881.6" width="27.1" height="0.7" fill="#333" opacity="0.4"/>
<rect x="655.1" y="884.0" width="36.2" height="0.7" fill="#333" opacity="0.4"/>
<rect x="657.8" y="886.4" width="30.8" height="0.7" fill="#333" opacity="0.4"/>
<rect x="632.3" y="831.0" width="10.9" height="0.7" fill="#333" opacity="0.22"/>
<rect x="632.3" y="833.6" width="14.5" height="0.7" fill="#333" opacity="0.22"/>
<rect x="632.3" y="836.2" width="18.1" height="0.7" fill="#333" opacity="0.22"/>
<rect x="632.3" y="838.8" width="10.9" height="0.7" fill="#333" opacity="0.22"/>
<rect x="632.3" y="841.4" width="14.5" height="0.7" fill="#333" opacity="0.22"/>
<rect x="632.3" y="844.0" width="18.1" height="0.7" fill="#333" opacity="0.22"/>
<rect x="632.3" y="846.6" width="10.9" height="0.7" fill="#333" opacity="0.22"/>
<rect x="692.1" y="831.0" width="10.9" height="0.7" fill="#333" opacity="0.22"/>
<rect x="692.1" y="833.6" width="14.5" height="0.7" fill="#333" opacity="0.22"/>
<rect x="692.1" y="836.2" width="18.1" height="0.7" fill="#333" opacity="0.22"/>
<rect x="692.1" y="838.8" width="10.9" height="0.7" fill="#333" opacity="0.22"/>
<rect x="692.1" y="841.4" width="14.5" height="0.7" fill="#333" opacity="0.22"/>
<rect x="692.1" y="844.0" width="18.1" height="0.7" fill="#333" opacity="0.22"/>
<rect x="692.1" y="846.6" width="10.9" height="0.7" fill="#333" opacity="0.22"/>
<rect x="692.1" y="867.0" width="16.3" height="0.7" fill="#333" opacity="0.22"/>
<rect x="692.1" y="869.6" width="16.3" height="0.7" fill="#333" opacity="0.22"/>
<rect x="692.1" y="872.2" width="16.3" height="0.7" fill="#333" opacity="0.22"/>
<rect x="692.1" y="874.8" width="16.3" height="0.7" fill="#333" opacity="0.22"/>
<rect x="692.1" y="877.4" width="16.3" height="0.7" fill="#333" opacity="0.22"/>
<rect x="692.1" y="880.0" width="16.3" height="0.7" fill="#333" opacity="0.22"/>
<polygon points="743.5,918.0 845.0,918.0 849.0,912.0 747.5,912.0" fill="#f4f4f4"/>
<rect x="757.5" y="913.5" width="77.5" height="3" fill="#2a3140" opacity="0.55"/>
<polygon points="737.0,914.0 743.5,918.0 743.5,1097.0 737.0,1093.0" fill="#9a6e82"/>
<polygon points="737.0,1047.0 743.5,1050.0 743.5,1097.0 737.0,1093.0" fill="#d8d2d6"/>
<rect x="743.5" y="918.0" width="101.5" height="179.0" fill="#cc8a5c"/>
<rect x="807.7" y="953.5" width="18.7" height="19.4" fill="none" stroke="#ffffff" stroke-opacity="0.25" stroke-width="0.8"/>
<text x="817.0" y="966.1" font-family="Liberation Sans" font-size="8.8" fill="#ffffff" fill-opacity="0.33" text-anchor="middle">He</text>
<rect x="812.8" y="969.2" width="8.1" height="0.6" fill="#ffffff" opacity="0.25"/>
<rect x="746.8" y="974.5" width="18.7" height="19.4" fill="none" stroke="#ffffff" stroke-opacity="0.25" stroke-width="0.8"/>
<text x="756.1" y="987.1" font-family="Liberation Sans" font-size="8.8" fill="#ffffff" fill-opacity="0.33" text-anchor="middle">N</text>
<rect x="751.9" y="990.2" width="8.1" height="0.6" fill="#ffffff" opacity="0.25"/>
<rect x="767.1" y="974.5" width="18.7" height="19.4" fill="none" stroke="#ffffff" stroke-opacity="0.25" stroke-width="0.8"/>
<text x="776.4" y="987.1" font-family="Liberation Sans" font-size="8.8" fill="#ffffff" fill-opacity="0.33" text-anchor="middle">O</text>
<rect x="772.2" y="990.2" width="8.1" height="0.6" fill="#ffffff" opacity="0.25"/>
<rect x="787.4" y="974.5" width="18.7" height="19.4" fill="none" stroke="#ffffff" stroke-opacity="0.55" stroke-width="0.8"/>
<text x="796.8" y="987.1" font-family="Liberation Sans" font-size="8.8" fill="#ffffff" fill-opacity="0.72" text-anchor="middle">F</text>
<rect x="792.5" y="990.2" width="8.1" height="0.6" fill="#ffffff" opacity="0.55"/>
<rect x="807.7" y="974.5" width="18.7" height="19.4" fill="none" stroke="#ffffff" stroke-opacity="0.25" stroke-width="0.8"/>
<text x="817.0" y="987.1" font-family="Liberation Sans" font-size="8.8" fill="#ffffff" fill-opacity="0.33" text-anchor="middle">Ne</text>
<rect x="812.8" y="990.2" width="8.1" height="0.6" fill="#ffffff" opacity="0.25"/>
<rect x="746.8" y="995.5" width="18.7" height="19.4" fill="none" stroke="#ffffff" stroke-opacity="0.25" stroke-width="0.8"/>
<text x="756.1" y="1008.1" font-family="Liberation Sans" font-size="8.8" fill="#ffffff" fill-opacity="0.33" text-anchor="middle">P</text>
<rect x="751.9" y="1011.2" width="8.1" height="0.6" fill="#ffffff" opacity="0.25"/>
<rect x="767.1" y="995.5" width="18.7" height="19.4" fill="none" stroke="#ffffff" stroke-opacity="0.25" stroke-width="0.8"/>
<text x="776.4" y="1008.1" font-family="Liberation Sans" font-size="8.8" fill="#ffffff" fill-opacity="0.33" text-anchor="middle">S</text>
<rect x="772.2" y="1011.2" width="8.1" height="0.6" fill="#ffffff" opacity="0.25"/>
<rect x="787.4" y="995.5" width="18.7" height="19.4" fill="none" stroke="#ffffff" stroke-opacity="0.25" stroke-width="0.8"/>
<text x="796.8" y="1008.1" font-family="Liberation Sans" font-size="8.8" fill="#ffffff" fill-opacity="0.33" text-anchor="middle">Cl</text>
<rect x="792.5" y="1011.2" width="8.1" height="0.6" fill="#ffffff" opacity="0.25"/>
<rect x="807.7" y="995.5" width="18.7" height="19.4" fill="none" stroke="#ffffff" stroke-opacity="0.25" stroke-width="0.8"/>
<text x="817.0" y="1008.1" font-family="Liberation Sans" font-size="8.8" fill="#ffffff" fill-opacity="0.33" text-anchor="middle">Ar</text>
<rect x="812.8" y="1011.2" width="8.1" height="0.6" fill="#ffffff" opacity="0.25"/>
<rect x="746.8" y="1016.5" width="18.7" height="19.4" fill="none" stroke="#ffffff" stroke-opacity="0.25" stroke-width="0.8"/>
<text x="756.1" y="1029.1" font-family="Liberation Sans" font-size="8.8" fill="#ffffff" fill-opacity="0.33" text-anchor="middle">As</text>
<rect x="751.9" y="1032.2" width="8.1" height="0.6" fill="#ffffff" opacity="0.25"/>
<rect x="767.1" y="1016.5" width="18.7" height="19.4" fill="none" stroke="#ffffff" stroke-opacity="0.25" stroke-width="0.8"/>
<text x="776.4" y="1029.1" font-family="Liberation Sans" font-size="8.8" fill="#ffffff" fill-opacity="0.33" text-anchor="middle">Se</text>
<rect x="772.2" y="1032.2" width="8.1" height="0.6" fill="#ffffff" opacity="0.25"/>
<rect x="787.4" y="1016.5" width="18.7" height="19.4" fill="none" stroke="#ffffff" stroke-opacity="0.25" stroke-width="0.8"/>
<text x="796.8" y="1029.1" font-family="Liberation Sans" font-size="8.8" fill="#ffffff" fill-opacity="0.33" text-anchor="middle">Br</text>
<rect x="792.5" y="1032.2" width="8.1" height="0.6" fill="#ffffff" opacity="0.25"/>
<rect x="807.7" y="1016.5" width="18.7" height="19.4" fill="none" stroke="#ffffff" stroke-opacity="0.25" stroke-width="0.8"/>
<text x="817.0" y="1029.1" font-family="Liberation Sans" font-size="8.8" fill="#ffffff" fill-opacity="0.33" text-anchor="middle">Kr</text>
<rect x="812.8" y="1032.2" width="8.1" height="0.6" fill="#ffffff" opacity="0.25"/>
<rect x="746.8" y="1037.5" width="18.7" height="19.4" fill="none" stroke="#ffffff" stroke-opacity="0.25" stroke-width="0.8"/>
<text x="756.1" y="1050.1" font-family="Liberation Sans" font-size="8.8" fill="#ffffff" fill-opacity="0.33" text-anchor="middle">Sb</text>
<rect x="751.9" y="1053.2" width="8.1" height="0.6" fill="#ffffff" opacity="0.25"/>
<rect x="767.1" y="1037.5" width="18.7" height="19.4" fill="none" stroke="#ffffff" stroke-opacity="0.25" stroke-width="0.8"/>
<text x="776.4" y="1050.1" font-family="Liberation Sans" font-size="8.8" fill="#ffffff" fill-opacity="0.33" text-anchor="middle">Te</text>
<rect x="772.2" y="1053.2" width="8.1" height="0.6" fill="#ffffff" opacity="0.25"/>
<rect x="787.4" y="1037.5" width="18.7" height="19.4" fill="none" stroke="#ffffff" stroke-opacity="0.25" stroke-width="0.8"/>
<text x="796.8" y="1050.1" font-family="Liberation Sans" font-size="8.8" fill="#ffffff" fill-opacity="0.33" text-anchor="middle">I</text>
<rect x="792.5" y="1053.2" width="8.1" height="0.6" fill="#ffffff" opacity="0.25"/>
<rect x="807.7" y="1037.5" width="18.7" height="19.4" fill="none" stroke="#ffffff" stroke-opacity="0.25" stroke-width="0.8"/>
<text x="817.0" y="1050.1" font-family="Liberation Sans" font-size="8.8" fill="#ffffff" fill-opacity="0.33" text-anchor="middle">Xe</text>
<rect x="812.8" y="1053.2" width="8.1" height="0.6" fill="#ffffff" opacity="0.25"/>
<rect x="743.5" y="1050.0" width="101.5" height="47.0" fill="#f7f7f7"/>
<rect x="743.5" y="1090.0" width="101.5" height="7.0" fill="#cc8a5c"/>
<rect x="771.4" y="1075.8" width="45.7" height="1" fill="#cc8a5c" opacity="0.6"/>
<rect x="758.7" y="1078.8" width="71.0" height="1" fill="#cc8a5c" opacity="0.6"/>
<rect x="763.8" y="1081.8" width="60.9" height="1" fill="#cc8a5c" opacity="0.6"/>
<rect x="772.8" y="936.0" width="47.0" height="40.6" rx="4.7" fill="#f3f3f3"/>
<polygon points="783.28,946.36 796.03,944.79 788.63,956.73 787.55,955.32 789.72,950.00 784.55,950.58" fill="#cf4a45"/>
<polygon points="800.11,942.17 803.39,946.09 799.57,953.09 807.76,951.13 809.13,956.17 790.54,960.64" fill="#2ba4d3"/>
<text x="779.8" y="969.3" font-family="Liberation Sans" font-size="8.2" fill="#4a4a4a" textLength="33.2" lengthAdjust="spacingAndGlyphs">SEASON</text>
<text transform="translate(756.2,1018.1) scale(1.14,1)" x="0" y="0" font-family="Liberation Sans" font-weight="bold" font-size="19.2" fill="#ffffff" stroke="#ffffff" stroke-width="0.9" stroke-linejoin="round" textLength="68.6" lengthAdjust="spacing">R407C</text>
<rect x="780.1" y="1022.7" width="30.4" height="1.2" fill="#ffffff" opacity="0.5"/>
<rect x="767.4" y="1025.7" width="55.8" height="1.2" fill="#ffffff" opacity="0.5"/>
<rect x="774.0" y="1028.7" width="42.6" height="1.2" fill="#ffffff" opacity="0.5"/>
<polygon points="763.4,772.5 768.6,769.5 782.5,796.8 779.5,798.4" fill="#c67d3f" fill-opacity="0.5" stroke="#c67d3f" stroke-width="1.35" stroke-linejoin="round"/>
<polygon points="811.3,769.6 816.7,772.4 801.5,798.4 798.5,796.8" fill="#c67d3f" fill-opacity="0.5" stroke="#c67d3f" stroke-width="1.35" stroke-linejoin="round"/>
<rect x="788.4" y="779.0" width="3.2" height="20.6" fill="#3a3f45"/>
<rect x="789.5" y="780.0" width="1" height="18.6" fill="#9aa3aa"/>
<rect x="791.5" y="786.0" width="4.5" height="4" rx="1.5" fill="#2d3238"/>
<rect x="783.0" y="777.5" width="14" height="2.2" rx="1" fill="#2aa86e"/>
<rect x="774.2" y="794.1" width="30.7" height="4" rx="1.5" fill="#c67d3f"/>
<ellipse cx="760.7" cy="915.0" rx="5.9" ry="3.2" fill="#c67d3f"/>
<ellipse cx="789.5" cy="915.0" rx="5.9" ry="3.2" fill="#c67d3f"/>
<ellipse cx="818.4" cy="915.0" rx="5.9" ry="3.2" fill="#c67d3f"/>
<path d="M744.4 827.6 A45.2 30.0 0 0 1 834.7 827.6 L834.7 897.0 A45.2 18.0 0 0 1 744.4 897.0 Z" fill="url(#cg19)"/>
<path d="M744.4 827.6 A45.2 30.0 0 0 1 834.7 827.6 L834.7 897.0 A45.2 18.0 0 0 1 744.4 897.0 Z" fill="url(#vg21)"/>
<ellipse cx="789.5" cy="814.1" rx="28.9" ry="9.6" fill="url(#rg20)"/>
<rect x="744.7" y="857.9" width="89.7" height="1.2" fill="#985a2c" opacity="0.6"/>
<rect x="744.7" y="859.1" width="89.7" height="1" fill="#da985c" opacity="0.5"/>
<polygon points="780.00,835.61 794.79,834.26 786.21,844.53 784.95,843.32 787.47,838.74 781.47,839.23" fill="#22262e"/><polygon points="799.53,832.00 803.34,835.37 798.90,841.40 808.41,839.71 810.00,844.05 788.43,847.90" fill="#22262e"/>
<text x="795.0" y="852.0" font-family="Liberation Sans" font-size="5" fill="#2a2f38" text-anchor="middle" textLength="24.0" lengthAdjust="spacingAndGlyphs">SEASON</text>
<text x="776.4" y="878.5" font-family="Liberation Sans" font-weight="bold" font-size="11.6" fill="#2b2b2e" textLength="35.6" lengthAdjust="spacingAndGlyphs">R407C</text>
<rect x="777.9" y="881.0" width="32.5" height="0.7" fill="#333" opacity="0.4"/>
<rect x="780.7" y="883.4" width="27.1" height="0.7" fill="#333" opacity="0.4"/>
<rect x="776.1" y="885.8" width="36.1" height="0.7" fill="#333" opacity="0.4"/>
<rect x="778.8" y="888.2" width="30.7" height="0.7" fill="#333" opacity="0.4"/>
<rect x="750.7" y="829.6" width="10.8" height="0.7" fill="#333" opacity="0.22"/>
<rect x="750.7" y="832.2" width="14.4" height="0.7" fill="#333" opacity="0.22"/>
<rect x="750.7" y="834.8" width="18.1" height="0.7" fill="#333" opacity="0.22"/>
<rect x="750.7" y="837.4" width="10.8" height="0.7" fill="#333" opacity="0.22"/>
<rect x="750.7" y="840.0" width="14.4" height="0.7" fill="#333" opacity="0.22"/>
<rect x="750.7" y="842.6" width="18.1" height="0.7" fill="#333" opacity="0.22"/>
<rect x="750.7" y="845.2" width="10.8" height="0.7" fill="#333" opacity="0.22"/>
<rect x="810.3" y="829.6" width="10.8" height="0.7" fill="#333" opacity="0.22"/>
<rect x="810.3" y="832.2" width="14.4" height="0.7" fill="#333" opacity="0.22"/>
<rect x="810.3" y="834.8" width="18.1" height="0.7" fill="#333" opacity="0.22"/>
<rect x="810.3" y="837.4" width="10.8" height="0.7" fill="#333" opacity="0.22"/>
<rect x="810.3" y="840.0" width="14.4" height="0.7" fill="#333" opacity="0.22"/>
<rect x="810.3" y="842.6" width="18.1" height="0.7" fill="#333" opacity="0.22"/>
<rect x="810.3" y="845.2" width="10.8" height="0.7" fill="#333" opacity="0.22"/>
<rect x="810.3" y="866.5" width="16.3" height="0.7" fill="#333" opacity="0.22"/>
<rect x="810.3" y="869.1" width="16.3" height="0.7" fill="#333" opacity="0.22"/>
<rect x="810.3" y="871.7" width="16.3" height="0.7" fill="#333" opacity="0.22"/>
<rect x="810.3" y="874.3" width="16.3" height="0.7" fill="#333" opacity="0.22"/>
<rect x="810.3" y="876.9" width="16.3" height="0.7" fill="#333" opacity="0.22"/>
<rect x="810.3" y="879.5" width="16.3" height="0.7" fill="#333" opacity="0.22"/>
<polygon points="863.5,922.0 966.0,922.0 970.0,916.0 867.5,916.0" fill="#f4f4f4"/>
<rect x="877.5" y="917.5" width="78.5" height="3" fill="#2a3140" opacity="0.55"/>
<polygon points="852.8,918.0 863.5,922.0 863.5,1096.0 852.8,1092.0" fill="#b27486"/>
<polygon points="852.8,1045.0 863.5,1048.0 863.5,1096.0 852.8,1092.0" fill="#e6dce0"/>
<rect x="863.5" y="922.0" width="102.5" height="174.0" fill="#eb9352"/>
<rect x="926.5" y="951.5" width="18.7" height="19.4" fill="none" stroke="#ffffff" stroke-opacity="0.25" stroke-width="0.8"/>
<text x="935.9" y="964.1" font-family="Liberation Sans" font-size="8.8" fill="#ffffff" fill-opacity="0.33" text-anchor="middle">He</text>
<rect x="931.6" y="967.2" width="8.1" height="0.6" fill="#ffffff" opacity="0.25"/>
<rect x="865.6" y="972.5" width="18.7" height="19.4" fill="none" stroke="#ffffff" stroke-opacity="0.25" stroke-width="0.8"/>
<text x="875.0" y="985.1" font-family="Liberation Sans" font-size="8.8" fill="#ffffff" fill-opacity="0.33" text-anchor="middle">N</text>
<rect x="870.7" y="988.2" width="8.1" height="0.6" fill="#ffffff" opacity="0.25"/>
<rect x="885.9" y="972.5" width="18.7" height="19.4" fill="none" stroke="#ffffff" stroke-opacity="0.25" stroke-width="0.8"/>
<text x="895.2" y="985.1" font-family="Liberation Sans" font-size="8.8" fill="#ffffff" fill-opacity="0.33" text-anchor="middle">O</text>
<rect x="891.0" y="988.2" width="8.1" height="0.6" fill="#ffffff" opacity="0.25"/>
<rect x="906.2" y="972.5" width="18.7" height="19.4" fill="none" stroke="#ffffff" stroke-opacity="0.55" stroke-width="0.8"/>
<text x="915.6" y="985.1" font-family="Liberation Sans" font-size="8.8" fill="#ffffff" fill-opacity="0.72" text-anchor="middle">F</text>
<rect x="911.3" y="988.2" width="8.1" height="0.6" fill="#ffffff" opacity="0.55"/>
<rect x="926.5" y="972.5" width="18.7" height="19.4" fill="none" stroke="#ffffff" stroke-opacity="0.25" stroke-width="0.8"/>
<text x="935.9" y="985.1" font-family="Liberation Sans" font-size="8.8" fill="#ffffff" fill-opacity="0.33" text-anchor="middle">Ne</text>
<rect x="931.6" y="988.2" width="8.1" height="0.6" fill="#ffffff" opacity="0.25"/>
<rect x="865.6" y="993.5" width="18.7" height="19.4" fill="none" stroke="#ffffff" stroke-opacity="0.25" stroke-width="0.8"/>
<text x="875.0" y="1006.1" font-family="Liberation Sans" font-size="8.8" fill="#ffffff" fill-opacity="0.33" text-anchor="middle">P</text>
<rect x="870.7" y="1009.2" width="8.1" height="0.6" fill="#ffffff" opacity="0.25"/>
<rect x="885.9" y="993.5" width="18.7" height="19.4" fill="none" stroke="#ffffff" stroke-opacity="0.25" stroke-width="0.8"/>
<text x="895.2" y="1006.1" font-family="Liberation Sans" font-size="8.8" fill="#ffffff" fill-opacity="0.33" text-anchor="middle">S</text>
<rect x="891.0" y="1009.2" width="8.1" height="0.6" fill="#ffffff" opacity="0.25"/>
<rect x="906.2" y="993.5" width="18.7" height="19.4" fill="none" stroke="#ffffff" stroke-opacity="0.25" stroke-width="0.8"/>
<text x="915.6" y="1006.1" font-family="Liberation Sans" font-size="8.8" fill="#ffffff" fill-opacity="0.33" text-anchor="middle">Cl</text>
<rect x="911.3" y="1009.2" width="8.1" height="0.6" fill="#ffffff" opacity="0.25"/>
<rect x="926.5" y="993.5" width="18.7" height="19.4" fill="none" stroke="#ffffff" stroke-opacity="0.25" stroke-width="0.8"/>
<text x="935.9" y="1006.1" font-family="Liberation Sans" font-size="8.8" fill="#ffffff" fill-opacity="0.33" text-anchor="middle">Ar</text>
<rect x="931.6" y="1009.2" width="8.1" height="0.6" fill="#ffffff" opacity="0.25"/>
<rect x="865.6" y="1014.5" width="18.7" height="19.4" fill="none" stroke="#ffffff" stroke-opacity="0.25" stroke-width="0.8"/>
<text x="875.0" y="1027.1" font-family="Liberation Sans" font-size="8.8" fill="#ffffff" fill-opacity="0.33" text-anchor="middle">As</text>
<rect x="870.7" y="1030.2" width="8.1" height="0.6" fill="#ffffff" opacity="0.25"/>
<rect x="885.9" y="1014.5" width="18.7" height="19.4" fill="none" stroke="#ffffff" stroke-opacity="0.25" stroke-width="0.8"/>
<text x="895.2" y="1027.1" font-family="Liberation Sans" font-size="8.8" fill="#ffffff" fill-opacity="0.33" text-anchor="middle">Se</text>
<rect x="891.0" y="1030.2" width="8.1" height="0.6" fill="#ffffff" opacity="0.25"/>
<rect x="906.2" y="1014.5" width="18.7" height="19.4" fill="none" stroke="#ffffff" stroke-opacity="0.25" stroke-width="0.8"/>
<text x="915.6" y="1027.1" font-family="Liberation Sans" font-size="8.8" fill="#ffffff" fill-opacity="0.33" text-anchor="middle">Br</text>
<rect x="911.3" y="1030.2" width="8.1" height="0.6" fill="#ffffff" opacity="0.25"/>
<rect x="926.5" y="1014.5" width="18.7" height="19.4" fill="none" stroke="#ffffff" stroke-opacity="0.25" stroke-width="0.8"/>
<text x="935.9" y="1027.1" font-family="Liberation Sans" font-size="8.8" fill="#ffffff" fill-opacity="0.33" text-anchor="middle">Kr</text>
<rect x="931.6" y="1030.2" width="8.1" height="0.6" fill="#ffffff" opacity="0.25"/>
<rect x="865.6" y="1035.5" width="18.7" height="19.4" fill="none" stroke="#ffffff" stroke-opacity="0.25" stroke-width="0.8"/>
<text x="875.0" y="1048.1" font-family="Liberation Sans" font-size="8.8" fill="#ffffff" fill-opacity="0.33" text-anchor="middle">Sb</text>
<rect x="870.7" y="1051.2" width="8.1" height="0.6" fill="#ffffff" opacity="0.25"/>
<rect x="885.9" y="1035.5" width="18.7" height="19.4" fill="none" stroke="#ffffff" stroke-opacity="0.25" stroke-width="0.8"/>
<text x="895.2" y="1048.1" font-family="Liberation Sans" font-size="8.8" fill="#ffffff" fill-opacity="0.33" text-anchor="middle">Te</text>
<rect x="891.0" y="1051.2" width="8.1" height="0.6" fill="#ffffff" opacity="0.25"/>
<rect x="906.2" y="1035.5" width="18.7" height="19.4" fill="none" stroke="#ffffff" stroke-opacity="0.25" stroke-width="0.8"/>
<text x="915.6" y="1048.1" font-family="Liberation Sans" font-size="8.8" fill="#ffffff" fill-opacity="0.33" text-anchor="middle">I</text>
<rect x="911.3" y="1051.2" width="8.1" height="0.6" fill="#ffffff" opacity="0.25"/>
<rect x="926.5" y="1035.5" width="18.7" height="19.4" fill="none" stroke="#ffffff" stroke-opacity="0.25" stroke-width="0.8"/>
<text x="935.9" y="1048.1" font-family="Liberation Sans" font-size="8.8" fill="#ffffff" fill-opacity="0.33" text-anchor="middle">Xe</text>
<rect x="931.6" y="1051.2" width="8.1" height="0.6" fill="#ffffff" opacity="0.25"/>
<rect x="863.5" y="1048.0" width="102.5" height="48.0" fill="#f7f7f7"/>
<rect x="863.5" y="1089.0" width="102.5" height="7.0" fill="#eb9352"/>
<rect x="891.7" y="1074.4" width="46.1" height="1" fill="#eb9352" opacity="0.6"/>
<rect x="878.9" y="1077.4" width="71.8" height="1" fill="#eb9352" opacity="0.6"/>
<rect x="884.0" y="1080.4" width="61.5" height="1" fill="#eb9352" opacity="0.6"/>
<rect x="891.3" y="933.8" width="48.1" height="40.6" rx="4.8" fill="#f3f3f3"/>
<polygon points="902.03,944.16 915.07,942.59 907.50,954.53 906.39,953.12 908.61,947.80 903.32,948.38" fill="#cf4a45"/>
<polygon points="919.25,939.97 922.61,943.89 918.69,950.89 927.08,948.93 928.48,953.97 909.46,958.44" fill="#2ba4d3"/>
<text x="898.5" y="967.1" font-family="Liberation Sans" font-size="8.2" fill="#4a4a4a" textLength="34.0" lengthAdjust="spacingAndGlyphs">SEASON</text>
<text transform="translate(876.2,1007.0) scale(1.14,1)" x="0" y="0" font-family="Liberation Sans" font-weight="bold" font-size="18.6" fill="#ffffff" stroke="#ffffff" stroke-width="0.9" stroke-linejoin="round" textLength="66.7" lengthAdjust="spacing">R404A</text>
<rect x="898.9" y="1011.6" width="30.8" height="1.2" fill="#ffffff" opacity="0.5"/>
<rect x="886.1" y="1014.6" width="56.4" height="1.2" fill="#ffffff" opacity="0.5"/>
<rect x="892.7" y="1017.6" width="43.0" height="1.2" fill="#ffffff" opacity="0.5"/>
<polygon points="881.0,774.7 886.0,771.3 901.9,796.6 899.1,798.6" fill="#d27c30" fill-opacity="0.5" stroke="#d27c30" stroke-width="1.35" stroke-linejoin="round"/>
<polygon points="930.4,771.4 935.6,774.6 919.5,798.5 916.5,796.7" fill="#d27c30" fill-opacity="0.5" stroke="#d27c30" stroke-width="1.35" stroke-linejoin="round"/>
<rect x="906.4" y="781.0" width="3.2" height="18.6" fill="#3a3f45"/>
<rect x="907.5" y="782.0" width="1" height="16.6" fill="#9aa3aa"/>
<rect x="909.5" y="788.0" width="4.5" height="4" rx="1.5" fill="#2d3238"/>
<rect x="901.0" y="779.5" width="14" height="2.2" rx="1" fill="#2aa86e"/>
<rect x="892.0" y="796.0" width="30.9" height="4" rx="1.5" fill="#d27c30"/>
<ellipse cx="878.4" cy="917.0" rx="5.9" ry="3.2" fill="#d27c30"/>
<ellipse cx="907.5" cy="917.0" rx="5.9" ry="3.2" fill="#d27c30"/>
<ellipse cx="936.6" cy="917.0" rx="5.9" ry="3.2" fill="#d27c30"/>
<path d="M862.0 829.5 A45.5 30.0 0 0 1 953.0 829.5 L953.0 899.0 A45.5 18.0 0 0 1 862.0 899.0 Z" fill="url(#cg22)"/>
<path d="M862.0 829.5 A45.5 30.0 0 0 1 953.0 829.5 L953.0 899.0 A45.5 18.0 0 0 1 862.0 899.0 Z" fill="url(#vg24)"/>
<ellipse cx="907.5" cy="816.0" rx="29.1" ry="9.6" fill="url(#rg23)"/>
<rect x="862.3" y="857.9" width="90.4" height="1.2" fill="#a3591d" opacity="0.6"/>
<rect x="862.3" y="859.1" width="90.4" height="1" fill="#e6984f" opacity="0.5"/>
<polygon points="901.00,840.39 912.83,839.31 905.97,847.52 904.96,846.56 906.98,842.89 902.18,843.29" fill="#22262e"/><polygon points="916.62,837.50 919.67,840.20 916.12,845.02 923.73,843.67 925.00,847.14 907.74,850.22" fill="#22262e"/>
<text x="913.0" y="854.6" font-family="Liberation Sans" font-size="5" fill="#2a2f38" text-anchor="middle" textLength="19.2" lengthAdjust="spacingAndGlyphs">SEASON</text>
<text x="900.5" y="876.6" font-family="Liberation Sans" font-weight="bold" font-size="11.6" fill="#2b2b2e" textLength="27.5" lengthAdjust="spacingAndGlyphs">R404A</text>
<rect x="897.8" y="879.1" width="32.8" height="0.7" fill="#333" opacity="0.4"/>
<rect x="900.6" y="881.5" width="27.3" height="0.7" fill="#333" opacity="0.4"/>
<rect x="896.0" y="883.9" width="36.4" height="0.7" fill="#333" opacity="0.4"/>
<rect x="898.7" y="886.3" width="30.9" height="0.7" fill="#333" opacity="0.4"/>
<rect x="868.4" y="831.5" width="10.9" height="0.7" fill="#333" opacity="0.22"/>
<rect x="868.4" y="834.1" width="14.6" height="0.7" fill="#333" opacity="0.22"/>
<rect x="868.4" y="836.7" width="18.2" height="0.7" fill="#333" opacity="0.22"/>
<rect x="868.4" y="839.3" width="10.9" height="0.7" fill="#333" opacity="0.22"/>
<rect x="868.4" y="841.9" width="14.6" height="0.7" fill="#333" opacity="0.22"/>
<rect x="868.4" y="844.5" width="18.2" height="0.7" fill="#333" opacity="0.22"/>
<rect x="868.4" y="847.1" width="10.9" height="0.7" fill="#333" opacity="0.22"/>
<rect x="928.4" y="831.5" width="10.9" height="0.7" fill="#333" opacity="0.22"/>
<rect x="928.4" y="834.1" width="14.6" height="0.7" fill="#333" opacity="0.22"/>
<rect x="928.4" y="836.7" width="18.2" height="0.7" fill="#333" opacity="0.22"/>
<rect x="928.4" y="839.3" width="10.9" height="0.7" fill="#333" opacity="0.22"/>
<rect x="928.4" y="841.9" width="14.6" height="0.7" fill="#333" opacity="0.22"/>
<rect x="928.4" y="844.5" width="18.2" height="0.7" fill="#333" opacity="0.22"/>
<rect x="928.4" y="847.1" width="10.9" height="0.7" fill="#333" opacity="0.22"/>
<rect x="928.4" y="866.5" width="16.4" height="0.7" fill="#333" opacity="0.22"/>
<rect x="928.4" y="869.1" width="16.4" height="0.7" fill="#333" opacity="0.22"/>
<rect x="928.4" y="871.7" width="16.4" height="0.7" fill="#333" opacity="0.22"/>
<rect x="928.4" y="874.3" width="16.4" height="0.7" fill="#333" opacity="0.22"/>
<rect x="928.4" y="876.9" width="16.4" height="0.7" fill="#333" opacity="0.22"/>
<rect x="928.4" y="879.5" width="16.4" height="0.7" fill="#333" opacity="0.22"/>
<polygon points="987.4,990.5 1066.0,990.5 1070.0,984.5 991.4,984.5" fill="#f4f4f4"/>
<rect x="1001.4" y="986.0" width="54.6" height="3" fill="#2a3140" opacity="0.55"/>
<polygon points="972.9,986.5 987.4,990.5 987.4,1096.0 972.9,1092.0" fill="#3a98c5"/>
<polygon points="972.9,1066.5 987.4,1069.5 987.4,1096.0 972.9,1092.0" fill="#dfe3e8"/>
<rect x="987.4" y="990.5" width="78.6" height="105.5" fill="#37a9d7"/>
<rect x="1053.5" y="992.0" width="11.1" height="12.9" fill="none" stroke="#ffffff" stroke-opacity="0.13" stroke-width="0.8"/>
<text x="1059.0" y="1000.7" font-family="Liberation Sans" font-size="6.1" fill="#ffffff" fill-opacity="0.17" text-anchor="middle">He</text>
<rect x="1056.7" y="1002.9" width="5.1" height="0.6" fill="#ffffff" opacity="0.13"/>
<rect x="990.0" y="1006.5" width="11.1" height="12.9" fill="none" stroke="#ffffff" stroke-opacity="0.13" stroke-width="0.8"/>
<text x="995.5" y="1015.2" font-family="Liberation Sans" font-size="6.1" fill="#ffffff" fill-opacity="0.17" text-anchor="middle">B</text>
<rect x="993.2" y="1017.4" width="5.1" height="0.6" fill="#ffffff" opacity="0.13"/>
<rect x="1002.7" y="1006.5" width="11.1" height="12.9" fill="none" stroke="#ffffff" stroke-opacity="0.29" stroke-width="0.8"/>
<text x="1008.2" y="1015.2" font-family="Liberation Sans" font-size="6.1" fill="#ffffff" fill-opacity="0.37" text-anchor="middle">C</text>
<rect x="1005.9" y="1017.4" width="5.1" height="0.6" fill="#ffffff" opacity="0.29"/>
<rect x="1015.4" y="1006.5" width="11.1" height="12.9" fill="none" stroke="#ffffff" stroke-opacity="0.13" stroke-width="0.8"/>
<text x="1020.9" y="1015.2" font-family="Liberation Sans" font-size="6.1" fill="#ffffff" fill-opacity="0.17" text-anchor="middle">N</text>
<rect x="1018.6" y="1017.4" width="5.1" height="0.6" fill="#ffffff" opacity="0.13"/>
<rect x="1028.1" y="1006.5" width="11.1" height="12.9" fill="none" stroke="#ffffff" stroke-opacity="0.13" stroke-width="0.8"/>
<text x="1033.6" y="1015.2" font-family="Liberation Sans" font-size="6.1" fill="#ffffff" fill-opacity="0.17" text-anchor="middle">O</text>
<rect x="1031.3" y="1017.4" width="5.1" height="0.6" fill="#ffffff" opacity="0.13"/>
<rect x="1040.8" y="1006.5" width="11.1" height="12.9" fill="none" stroke="#ffffff" stroke-opacity="0.29" stroke-width="0.8"/>
<text x="1046.3" y="1015.2" font-family="Liberation Sans" font-size="6.1" fill="#ffffff" fill-opacity="0.37" text-anchor="middle">F</text>
<rect x="1044.0" y="1017.4" width="5.1" height="0.6" fill="#ffffff" opacity="0.29"/>
<rect x="1053.5" y="1006.5" width="11.1" height="12.9" fill="none" stroke="#ffffff" stroke-opacity="0.13" stroke-width="0.8"/>
<text x="1059.0" y="1015.2" font-family="Liberation Sans" font-size="6.1" fill="#ffffff" fill-opacity="0.17" text-anchor="middle">Ne</text>
<rect x="1056.7" y="1017.4" width="5.1" height="0.6" fill="#ffffff" opacity="0.13"/>
<rect x="990.0" y="1021.0" width="11.1" height="12.9" fill="none" stroke="#ffffff" stroke-opacity="0.13" stroke-width="0.8"/>
<text x="995.5" y="1029.7" font-family="Liberation Sans" font-size="6.1" fill="#ffffff" fill-opacity="0.17" text-anchor="middle">Al</text>
<rect x="993.2" y="1031.9" width="5.1" height="0.6" fill="#ffffff" opacity="0.13"/>
<rect x="1002.7" y="1021.0" width="11.1" height="12.9" fill="none" stroke="#ffffff" stroke-opacity="0.13" stroke-width="0.8"/>
<text x="1008.2" y="1029.7" font-family="Liberation Sans" font-size="6.1" fill="#ffffff" fill-opacity="0.17" text-anchor="middle">Si</text>
<rect x="1005.9" y="1031.9" width="5.1" height="0.6" fill="#ffffff" opacity="0.13"/>
<rect x="1015.4" y="1021.0" width="11.1" height="12.9" fill="none" stroke="#ffffff" stroke-opacity="0.13" stroke-width="0.8"/>
<text x="1020.9" y="1029.7" font-family="Liberation Sans" font-size="6.1" fill="#ffffff" fill-opacity="0.17" text-anchor="middle">P</text>
<rect x="1018.6" y="1031.9" width="5.1" height="0.6" fill="#ffffff" opacity="0.13"/>
<rect x="1028.1" y="1021.0" width="11.1" height="12.9" fill="none" stroke="#ffffff" stroke-opacity="0.13" stroke-width="0.8"/>
<text x="1033.6" y="1029.7" font-family="Liberation Sans" font-size="6.1" fill="#ffffff" fill-opacity="0.17" text-anchor="middle">S</text>
<rect x="1031.3" y="1031.9" width="5.1" height="0.6" fill="#ffffff" opacity="0.13"/>
<rect x="1040.8" y="1021.0" width="11.1" height="12.9" fill="none" stroke="#ffffff" stroke-opacity="0.13" stroke-width="0.8"/>
<text x="1046.3" y="1029.7" font-family="Liberation Sans" font-size="6.1" fill="#ffffff" fill-opacity="0.17" text-anchor="middle">Cl</text>
<rect x="1044.0" y="1031.9" width="5.1" height="0.6" fill="#ffffff" opacity="0.13"/>
<rect x="1053.5" y="1021.0" width="11.1" height="12.9" fill="none" stroke="#ffffff" stroke-opacity="0.13" stroke-width="0.8"/>
<text x="1059.0" y="1029.7" font-family="Liberation Sans" font-size="6.1" fill="#ffffff" fill-opacity="0.17" text-anchor="middle">Ar</text>
<rect x="1056.7" y="1031.9" width="5.1" height="0.6" fill="#ffffff" opacity="0.13"/>
<rect x="990.0" y="1035.5" width="11.1" height="12.9" fill="none" stroke="#ffffff" stroke-opacity="0.13" stroke-width="0.8"/>
<text x="995.5" y="1044.2" font-family="Liberation Sans" font-size="6.1" fill="#ffffff" fill-opacity="0.17" text-anchor="middle">Ga</text>
<rect x="993.2" y="1046.4" width="5.1" height="0.6" fill="#ffffff" opacity="0.13"/>
<rect x="1002.7" y="1035.5" width="11.1" height="12.9" fill="none" stroke="#ffffff" stroke-opacity="0.13" stroke-width="0.8"/>
<text x="1008.2" y="1044.2" font-family="Liberation Sans" font-size="6.1" fill="#ffffff" fill-opacity="0.17" text-anchor="middle">Ge</text>
<rect x="1005.9" y="1046.4" width="5.1" height="0.6" fill="#ffffff" opacity="0.13"/>
<rect x="1015.4" y="1035.5" width="11.1" height="12.9" fill="none" stroke="#ffffff" stroke-opacity="0.13" stroke-width="0.8"/>
<text x="1020.9" y="1044.2" font-family="Liberation Sans" font-size="6.1" fill="#ffffff" fill-opacity="0.17" text-anchor="middle">As</text>
<rect x="1018.6" y="1046.4" width="5.1" height="0.6" fill="#ffffff" opacity="0.13"/>
<rect x="1028.1" y="1035.5" width="11.1" height="12.9" fill="none" stroke="#ffffff" stroke-opacity="0.13" stroke-width="0.8"/>
<text x="1033.6" y="1044.2" font-family="Liberation Sans" font-size="6.1" fill="#ffffff" fill-opacity="0.17" text-anchor="middle">Se</text>
<rect x="1031.3" y="1046.4" width="5.1" height="0.6" fill="#ffffff" opacity="0.13"/>
<rect x="1040.8" y="1035.5" width="11.1" height="12.9" fill="none" stroke="#ffffff" stroke-opacity="0.13" stroke-width="0.8"/>
<text x="1046.3" y="1044.2" font-family="Liberation Sans" font-size="6.1" fill="#ffffff" fill-opacity="0.17" text-anchor="middle">Br</text>
<rect x="1044.0" y="1046.4" width="5.1" height="0.6" fill="#ffffff" opacity="0.13"/>
<rect x="1053.5" y="1035.5" width="11.1" height="12.9" fill="none" stroke="#ffffff" stroke-opacity="0.13" stroke-width="0.8"/>
<text x="1059.0" y="1044.2" font-family="Liberation Sans" font-size="6.1" fill="#ffffff" fill-opacity="0.17" text-anchor="middle">Kr</text>
<rect x="1056.7" y="1046.4" width="5.1" height="0.6" fill="#ffffff" opacity="0.13"/>
<rect x="990.0" y="1050.0" width="11.1" height="12.9" fill="none" stroke="#ffffff" stroke-opacity="0.13" stroke-width="0.8"/>
<text x="995.5" y="1058.7" font-family="Liberation Sans" font-size="6.1" fill="#ffffff" fill-opacity="0.17" text-anchor="middle">In</text>
<rect x="993.2" y="1060.9" width="5.1" height="0.6" fill="#ffffff" opacity="0.13"/>
<rect x="1002.7" y="1050.0" width="11.1" height="12.9" fill="none" stroke="#ffffff" stroke-opacity="0.13" stroke-width="0.8"/>
<text x="1008.2" y="1058.7" font-family="Liberation Sans" font-size="6.1" fill="#ffffff" fill-opacity="0.17" text-anchor="middle">Sn</text>
<rect x="1005.9" y="1060.9" width="5.1" height="0.6" fill="#ffffff" opacity="0.13"/>
<rect x="1015.4" y="1050.0" width="11.1" height="12.9" fill="none" stroke="#ffffff" stroke-opacity="0.13" stroke-width="0.8"/>
<text x="1020.9" y="1058.7" font-family="Liberation Sans" font-size="6.1" fill="#ffffff" fill-opacity="0.17" text-anchor="middle">Sb</text>
<rect x="1018.6" y="1060.9" width="5.1" height="0.6" fill="#ffffff" opacity="0.13"/>
<rect x="1028.1" y="1050.0" width="11.1" height="12.9" fill="none" stroke="#ffffff" stroke-opacity="0.13" stroke-width="0.8"/>
<text x="1033.6" y="1058.7" font-family="Liberation Sans" font-size="6.1" fill="#ffffff" fill-opacity="0.17" text-anchor="middle">Te</text>
<rect x="1031.3" y="1060.9" width="5.1" height="0.6" fill="#ffffff" opacity="0.13"/>
<rect x="1040.8" y="1050.0" width="11.1" height="12.9" fill="none" stroke="#ffffff" stroke-opacity="0.13" stroke-width="0.8"/>
<text x="1046.3" y="1058.7" font-family="Liberation Sans" font-size="6.1" fill="#ffffff" fill-opacity="0.17" text-anchor="middle">I</text>
<rect x="1044.0" y="1060.9" width="5.1" height="0.6" fill="#ffffff" opacity="0.13"/>
<rect x="1053.5" y="1050.0" width="11.1" height="12.9" fill="none" stroke="#ffffff" stroke-opacity="0.13" stroke-width="0.8"/>
<text x="1059.0" y="1058.7" font-family="Liberation Sans" font-size="6.1" fill="#ffffff" fill-opacity="0.17" text-anchor="middle">Xe</text>
<rect x="1056.7" y="1060.9" width="5.1" height="0.6" fill="#ffffff" opacity="0.13"/>
<rect x="987.4" y="1069.5" width="78.6" height="26.5" fill="#f7f7f7"/>
<rect x="987.4" y="1093.0" width="78.6" height="3.0" fill="#37a9d7"/>
<rect x="1009.0" y="1084.1" width="35.4" height="1" fill="#37a9d7" opacity="0.6"/>
<rect x="999.2" y="1087.1" width="55.0" height="1" fill="#37a9d7" opacity="0.6"/>
<rect x="1003.1" y="1090.1" width="47.2" height="1" fill="#37a9d7" opacity="0.6"/>
<rect x="1011.0" y="999.0" width="33.0" height="29.0" rx="3.3" fill="#f3f3f3"/>
<polygon points="1018.36,1006.40 1027.31,1005.28 1022.12,1013.81 1021.35,1012.80 1022.88,1009.00 1019.25,1009.41" fill="#cf4a45"/>
<polygon points="1030.17,1003.41 1032.48,1006.21 1029.79,1011.21 1035.55,1009.81 1036.51,1013.41 1023.46,1016.60" fill="#2ba4d3"/>
<text x="1015.9" y="1022.8" font-family="Liberation Sans" font-size="5.9" fill="#4a4a4a" textLength="23.3" lengthAdjust="spacingAndGlyphs">SEASON</text>
<text x="1007.9" y="1050.1" font-family="Liberation Sans" font-weight="bold" font-size="11.5" fill="#ffffff" stroke="#ffffff" stroke-width="0.4" stroke-linejoin="round" textLength="35.9" lengthAdjust="spacingAndGlyphs">R134A</text>
<rect x="1014.1" y="1054.8" width="23.6" height="1.2" fill="#ffffff" opacity="0.5"/>
<rect x="1004.2" y="1057.8" width="43.2" height="1.2" fill="#ffffff" opacity="0.5"/>
<rect x="1009.3" y="1060.8" width="33.0" height="1.2" fill="#ffffff" opacity="0.5"/>
<polygon points="996.9,911.1 1001.1,908.9 1012.2,931.3 1009.8,932.7" fill="#2aa3bb" fill-opacity="0.5" stroke="#2aa3bb" stroke-width="1.1" stroke-linejoin="round"/>
<polygon points="1036.9,908.8 1041.1,911.2 1027.2,932.7 1024.8,931.3" fill="#2aa3bb" fill-opacity="0.5" stroke="#2aa3bb" stroke-width="1.1" stroke-linejoin="round"/>
<rect x="1016.4" y="918.0" width="3.2" height="16.0" fill="#3a3f45"/>
<rect x="1017.5" y="919.0" width="1" height="14.0" fill="#9aa3aa"/>
<rect x="1019.5" y="925.0" width="4.5" height="4" rx="1.5" fill="#2d3238"/>
<rect x="1012.5" y="916.5" width="11" height="2.2" rx="1" fill="#2aa86e"/>
<rect x="1006.4" y="929.5" width="24.1" height="4" rx="1.5" fill="#2aa3bb"/>
<ellipse cx="1004.3" cy="989.0" rx="4.3" ry="3.2" fill="#2aa3bb"/>
<ellipse cx="1018.5" cy="989.0" rx="4.3" ry="3.2" fill="#2aa3bb"/>
<ellipse cx="1032.7" cy="989.0" rx="4.3" ry="3.2" fill="#2aa3bb"/>
<path d="M983.0 960.0 A35.5 27.0 0 0 1 1054.0 960.0 L1054.0 968.0 A35.5 21.0 0 0 1 983.0 968.0 Z" fill="url(#cg25)"/>
<path d="M983.0 960.0 A35.5 27.0 0 0 1 1054.0 960.0 L1054.0 968.0 A35.5 21.0 0 0 1 983.0 968.0 Z" fill="url(#vg27)"/>
<ellipse cx="1018.5" cy="947.9" rx="22.7" ry="8.6" fill="url(#rg26)"/>
<rect x="983.3" y="961.0" width="70.4" height="1.2" fill="#1a7a8e" opacity="0.6"/>
<rect x="983.3" y="962.2" width="70.4" height="1" fill="#50c2d4" opacity="0.5"/>
<polygon points="1012.50,947.32 1017.92,946.83 1014.78,950.59 1014.32,950.15 1015.24,948.47 1013.04,948.65" fill="#22262e"/><polygon points="1019.66,946.00 1021.06,947.24 1019.43,949.45 1022.92,948.83 1023.50,950.42 1015.59,951.83" fill="#22262e"/>
<text x="1012.5" y="969.0" font-family="Liberation Sans" font-weight="bold" font-size="3.5" fill="#2b2b2e" textLength="11.0" lengthAdjust="spacingAndGlyphs">R134A</text>
<polygon points="1088.0,1001.3 1092.0,998.7 1104.2,1019.2 1101.8,1020.8" fill="#b8874f" fill-opacity="0.5" stroke="#b8874f" stroke-width="1.1" stroke-linejoin="round"/>
<polygon points="1129.9,998.8 1134.1,1001.2 1121.2,1020.7 1118.8,1019.3" fill="#b8874f" fill-opacity="0.5" stroke="#b8874f" stroke-width="1.1" stroke-linejoin="round"/>
<rect x="1109.4" y="1008.0" width="3.2" height="14.0" fill="#3a3f45"/>
<rect x="1110.5" y="1009.0" width="1" height="12.0" fill="#9aa3aa"/>
<rect x="1112.5" y="1015.0" width="4.5" height="4" rx="1.5" fill="#2d3238"/>
<rect x="1105.5" y="1006.5" width="11" height="2.2" rx="1" fill="#2aa86e"/>
<rect x="1098.8" y="1018.5" width="24.5" height="4" rx="1.5" fill="#b8874f"/>
<ellipse cx="1096.6" cy="1088.0" rx="4.3" ry="3.2" fill="#b8874f"/>
<ellipse cx="1111.0" cy="1088.0" rx="4.3" ry="3.2" fill="#b8874f"/>
<ellipse cx="1125.4" cy="1088.0" rx="4.3" ry="3.2" fill="#b8874f"/>
<path d="M1075.0 1048.0 A36.0 26.0 0 0 1 1147.0 1048.0 L1147.0 1066.0 A36.0 22.0 0 0 1 1075.0 1066.0 Z" fill="url(#cg28)"/>
<path d="M1075.0 1048.0 A36.0 26.0 0 0 1 1147.0 1048.0 L1147.0 1066.0 A36.0 22.0 0 0 1 1075.0 1066.0 Z" fill="url(#vg30)"/>
<ellipse cx="1111.0" cy="1036.3" rx="23.0" ry="8.3" fill="url(#rg29)"/>
<rect x="1075.3" y="1056.0" width="71.4" height="1.2" fill="#8d6235" opacity="0.6"/>
<rect x="1075.3" y="1057.2" width="71.4" height="1" fill="#d0a06a" opacity="0.5"/>
<polygon points="1114.50,1049.32 1119.92,1048.83 1116.78,1052.59 1116.32,1052.15 1117.24,1050.47 1115.04,1050.65" fill="#22262e"/><polygon points="1121.66,1048.00 1123.06,1049.24 1121.43,1051.45 1124.92,1050.83 1125.50,1052.42 1117.59,1053.83" fill="#22262e"/>
<text x="1108.4" y="1070.0" font-family="Liberation Sans" font-weight="bold" font-size="9" fill="#2b2b2e" textLength="22.6" lengthAdjust="spacingAndGlyphs">R600A</text>
<rect x="143.1" y="1044.0" width="6.4" height="8" rx="1.2" fill="#ececec"/>
<path d="M138.5 1058.0 Q138.5 1050.0 143.2 1049.0 L149.2 1049.0 Q154.0 1050.0 154.0 1058.0 L154.0 1103.0 Q154.0 1104.0 153.0 1104.0 L139.5 1104.0 Q138.5 1104.0 138.5 1103.0 Z" fill="#f2f2f2"/>
<rect x="138.5" y="1058.0" width="15.5" height="46.0" rx="0.8" fill="#e397bb"/>
<rect x="138.5" y="1052.0" width="2.2" height="52.0" fill="#000" opacity="0.07"/>
<rect x="151.8" y="1052.0" width="2.2" height="52.0" fill="#000" opacity="0.13"/>
<rect x="160.6" y="1044.0" width="6.4" height="8" rx="1.2" fill="#ececec"/>
<path d="M156.0 1058.0 Q156.0 1050.0 160.8 1049.0 L166.8 1049.0 Q171.5 1050.0 171.5 1058.0 L171.5 1103.0 Q171.5 1104.0 170.5 1104.0 L157.0 1104.0 Q156.0 1104.0 156.0 1103.0 Z" fill="#f2f2f2"/>
<rect x="156.0" y="1058.0" width="15.5" height="46.0" rx="0.8" fill="#e397bb"/>
<rect x="156.0" y="1052.0" width="2.2" height="52.0" fill="#000" opacity="0.07"/>
<rect x="169.3" y="1052.0" width="2.2" height="52.0" fill="#000" opacity="0.13"/>
<rect x="178.1" y="1044.0" width="6.4" height="8" rx="1.2" fill="#ececec"/>
<path d="M173.5 1058.0 Q173.5 1050.0 178.2 1049.0 L184.2 1049.0 Q189.0 1050.0 189.0 1058.0 L189.0 1103.0 Q189.0 1104.0 188.0 1104.0 L174.5 1104.0 Q173.5 1104.0 173.5 1103.0 Z" fill="#f2f2f2"/>
<rect x="173.5" y="1058.0" width="15.5" height="46.0" rx="0.8" fill="#e397bb"/>
<rect x="173.5" y="1052.0" width="2.2" height="52.0" fill="#000" opacity="0.07"/>
<rect x="186.8" y="1052.0" width="2.2" height="52.0" fill="#000" opacity="0.13"/>
<rect x="195.6" y="1044.0" width="6.4" height="8" rx="1.2" fill="#ececec"/>
<path d="M191.0 1058.0 Q191.0 1050.0 195.8 1049.0 L201.8 1049.0 Q206.5 1050.0 206.5 1058.0 L206.5 1103.0 Q206.5 1104.0 205.5 1104.0 L192.0 1104.0 Q191.0 1104.0 191.0 1103.0 Z" fill="#f2f2f2"/>
<rect x="191.0" y="1058.0" width="15.5" height="46.0" rx="0.8" fill="#e397bb"/>
<rect x="191.0" y="1052.0" width="2.2" height="52.0" fill="#000" opacity="0.07"/>
<rect x="204.3" y="1052.0" width="2.2" height="52.0" fill="#000" opacity="0.13"/>
<rect x="213.1" y="1044.0" width="6.4" height="8" rx="1.2" fill="#ececec"/>
<path d="M208.5 1058.0 Q208.5 1050.0 213.2 1049.0 L219.2 1049.0 Q224.0 1050.0 224.0 1058.0 L224.0 1103.0 Q224.0 1104.0 223.0 1104.0 L209.5 1104.0 Q208.5 1104.0 208.5 1103.0 Z" fill="#f2f2f2"/>
<rect x="208.5" y="1058.0" width="15.5" height="46.0" rx="0.8" fill="#e397bb"/>
<rect x="208.5" y="1052.0" width="2.2" height="52.0" fill="#000" opacity="0.07"/>
<rect x="221.8" y="1052.0" width="2.2" height="52.0" fill="#000" opacity="0.13"/>
<rect x="139.2" y="1047.8" width="6.4" height="8" rx="1.2" fill="#ececec"/>
<path d="M134.3 1061.8 Q134.3 1053.8 139.4 1052.8 L145.4 1052.8 Q150.5 1053.8 150.5 1061.8 L150.5 1110.0 Q150.5 1111.0 149.5 1111.0 L135.3 1111.0 Q134.3 1111.0 134.3 1110.0 Z" fill="#f2f2f2"/>
<rect x="134.3" y="1060.6" width="16.2" height="50.4" rx="0.8" fill="#e197ba"/>
<rect x="134.3" y="1100.0" width="16.2" height="6.0" fill="#f4f4f4"/>
<rect x="136.2" y="1063.6" width="12.3" height="13.7" fill="#f7f7f7"/><polygon points="138.71,1066.92 142.35,1066.39 140.24,1070.38 139.93,1069.91 140.55,1068.13 139.07,1068.32" fill="#d0463f"/><polygon points="143.52,1065.52 144.45,1066.82 143.36,1069.16 145.70,1068.51 146.09,1070.19 140.78,1071.68" fill="#2aa3d6"/><rect x="138.7" y="1073.2" width="7.4" height="1.4" fill="#666"/>
<text x="142.4" y="1091.4" font-family="Liberation Sans" font-weight="bold" font-size="6" fill="#fff" text-anchor="middle" textLength="13.6" lengthAdjust="spacingAndGlyphs">R410A</text>
<rect x="137.5" y="1093.2" width="9.7" height="0.8" fill="#fff" opacity="0.5"/>
<rect x="138.4" y="1094.8" width="8.1" height="0.8" fill="#fff" opacity="0.5"/>
<rect x="134.3" y="1055.8" width="2.3" height="55.2" fill="#000" opacity="0.07"/>
<rect x="148.2" y="1055.8" width="2.3" height="55.2" fill="#000" opacity="0.13"/>
<rect x="156.4" y="1047.8" width="6.4" height="8" rx="1.2" fill="#ececec"/>
<path d="M151.5 1061.8 Q151.5 1053.8 156.6 1052.8 L162.6 1052.8 Q167.7 1053.8 167.7 1061.8 L167.7 1110.0 Q167.7 1111.0 166.7 1111.0 L152.5 1111.0 Q151.5 1111.0 151.5 1110.0 Z" fill="#f2f2f2"/>
<rect x="151.5" y="1060.6" width="16.2" height="50.4" rx="0.8" fill="#e197ba"/>
<rect x="151.5" y="1100.0" width="16.2" height="6.0" fill="#f4f4f4"/>
<rect x="153.4" y="1063.6" width="12.3" height="13.7" fill="#f7f7f7"/><polygon points="155.91,1066.92 159.55,1066.39 157.44,1070.38 157.13,1069.91 157.75,1068.13 156.27,1068.32" fill="#d0463f"/><polygon points="160.72,1065.52 161.65,1066.82 160.56,1069.16 162.90,1068.51 163.29,1070.19 157.98,1071.68" fill="#2aa3d6"/><rect x="155.9" y="1073.2" width="7.4" height="1.4" fill="#666"/>
<text x="159.6" y="1091.4" font-family="Liberation Sans" font-weight="bold" font-size="6" fill="#fff" text-anchor="middle" textLength="13.6" lengthAdjust="spacingAndGlyphs">R410A</text>
<rect x="154.7" y="1093.2" width="9.7" height="0.8" fill="#fff" opacity="0.5"/>
<rect x="155.6" y="1094.8" width="8.1" height="0.8" fill="#fff" opacity="0.5"/>
<rect x="151.5" y="1055.8" width="2.3" height="55.2" fill="#000" opacity="0.07"/>
<rect x="165.4" y="1055.8" width="2.3" height="55.2" fill="#000" opacity="0.13"/>
<rect x="173.6" y="1047.8" width="6.4" height="8" rx="1.2" fill="#ececec"/>
<path d="M168.7 1061.8 Q168.7 1053.8 173.8 1052.8 L179.8 1052.8 Q184.9 1053.8 184.9 1061.8 L184.9 1110.0 Q184.9 1111.0 183.9 1111.0 L169.7 1111.0 Q168.7 1111.0 168.7 1110.0 Z" fill="#f2f2f2"/>
<rect x="168.7" y="1060.6" width="16.2" height="50.4" rx="0.8" fill="#e197ba"/>
<rect x="168.7" y="1100.0" width="16.2" height="6.0" fill="#f4f4f4"/>
<rect x="170.6" y="1063.6" width="12.3" height="13.7" fill="#f7f7f7"/><polygon points="173.11,1066.92 176.75,1066.39 174.64,1070.38 174.33,1069.91 174.95,1068.13 173.47,1068.32" fill="#d0463f"/><polygon points="177.92,1065.52 178.85,1066.82 177.76,1069.16 180.10,1068.51 180.49,1070.19 175.18,1071.68" fill="#2aa3d6"/><rect x="173.1" y="1073.2" width="7.4" height="1.4" fill="#666"/>
<text x="176.8" y="1091.4" font-family="Liberation Sans" font-weight="bold" font-size="6" fill="#fff" text-anchor="middle" textLength="13.6" lengthAdjust="spacingAndGlyphs">R410A</text>
<rect x="171.9" y="1093.2" width="9.7" height="0.8" fill="#fff" opacity="0.5"/>
<rect x="172.8" y="1094.8" width="8.1" height="0.8" fill="#fff" opacity="0.5"/>
<rect x="168.7" y="1055.8" width="2.3" height="55.2" fill="#000" opacity="0.07"/>
<rect x="182.6" y="1055.8" width="2.3" height="55.2" fill="#000" opacity="0.13"/>
<rect x="190.8" y="1047.8" width="6.4" height="8" rx="1.2" fill="#ececec"/>
<path d="M185.9 1061.8 Q185.9 1053.8 191.0 1052.8 L197.0 1052.8 Q202.1 1053.8 202.1 1061.8 L202.1 1110.0 Q202.1 1111.0 201.1 1111.0 L186.9 1111.0 Q185.9 1111.0 185.9 1110.0 Z" fill="#f2f2f2"/>
<rect x="185.9" y="1060.6" width="16.2" height="50.4" rx="0.8" fill="#e197ba"/>
<rect x="185.9" y="1100.0" width="16.2" height="6.0" fill="#f4f4f4"/>
<rect x="187.8" y="1063.6" width="12.3" height="13.7" fill="#f7f7f7"/><polygon points="190.31,1066.92 193.95,1066.39 191.84,1070.38 191.53,1069.91 192.15,1068.13 190.67,1068.32" fill="#d0463f"/><polygon points="195.12,1065.52 196.05,1066.82 194.96,1069.16 197.30,1068.51 197.69,1070.19 192.38,1071.68" fill="#2aa3d6"/><rect x="190.3" y="1073.2" width="7.4" height="1.4" fill="#666"/>
<text x="194.0" y="1091.4" font-family="Liberation Sans" font-weight="bold" font-size="6" fill="#fff" text-anchor="middle" textLength="13.6" lengthAdjust="spacingAndGlyphs">R410A</text>
<rect x="189.1" y="1093.2" width="9.7" height="0.8" fill="#fff" opacity="0.5"/>
<rect x="190.0" y="1094.8" width="8.1" height="0.8" fill="#fff" opacity="0.5"/>
<rect x="185.9" y="1055.8" width="2.3" height="55.2" fill="#000" opacity="0.07"/>
<rect x="199.8" y="1055.8" width="2.3" height="55.2" fill="#000" opacity="0.13"/>
<rect x="208.0" y="1047.8" width="6.4" height="8" rx="1.2" fill="#ececec"/>
<path d="M203.1 1061.8 Q203.1 1053.8 208.2 1052.8 L214.2 1052.8 Q219.3 1053.8 219.3 1061.8 L219.3 1110.0 Q219.3 1111.0 218.3 1111.0 L204.1 1111.0 Q203.1 1111.0 203.1 1110.0 Z" fill="#f2f2f2"/>
<rect x="203.1" y="1060.6" width="16.2" height="50.4" rx="0.8" fill="#e197ba"/>
<rect x="203.1" y="1100.0" width="16.2" height="6.0" fill="#f4f4f4"/>
<rect x="205.0" y="1063.6" width="12.3" height="13.7" fill="#f7f7f7"/><polygon points="207.51,1066.92 211.15,1066.39 209.04,1070.38 208.73,1069.91 209.35,1068.13 207.87,1068.32" fill="#d0463f"/><polygon points="212.32,1065.52 213.25,1066.82 212.16,1069.16 214.50,1068.51 214.89,1070.19 209.58,1071.68" fill="#2aa3d6"/><rect x="207.5" y="1073.2" width="7.4" height="1.4" fill="#666"/>
<text x="211.2" y="1091.4" font-family="Liberation Sans" font-weight="bold" font-size="6" fill="#fff" text-anchor="middle" textLength="13.6" lengthAdjust="spacingAndGlyphs">R410A</text>
<rect x="206.3" y="1093.2" width="9.7" height="0.8" fill="#fff" opacity="0.5"/>
<rect x="207.2" y="1094.8" width="8.1" height="0.8" fill="#fff" opacity="0.5"/>
<rect x="203.1" y="1055.8" width="2.3" height="55.2" fill="#000" opacity="0.07"/>
<rect x="217.0" y="1055.8" width="2.3" height="55.2" fill="#000" opacity="0.13"/>
<rect x="242.9" y="1042.0" width="6.6" height="4" rx="1.2" fill="#2b2c30"/>
<path d="M238.5 1051.0 Q238.5 1046.0 243.2 1045.5 L249.2 1045.5 Q254.0 1046.0 254.0 1051.0 Z" fill="#efd230"/>
<rect x="238.5" y="1048.5" width="15.5" height="57.5" rx="1.5" fill="#eccb1c"/>
<rect x="238.5" y="1049.0" width="15.5" height="5" fill="#f0f0f0"/>
<rect x="239.5" y="1049.8" width="2.2" height="2.2" fill="#3aa0d8"/>
<rect x="238.5" y="1054.0" width="15.5" height="20" fill="#2a2a2e"/>
<rect x="243.2" y="1057.0" width="6.2" height="2" rx="0.8" fill="#3d8fd0"/>
<rect x="242.4" y="1061.0" width="7.8" height="1.4" fill="#c8384a"/>
<rect x="242.4" y="1064.0" width="7.8" height="1.8" fill="#bbbbbb"/>
<rect x="239.5" y="1068.0" width="13.5" height="0.8" fill="#c8384a"/>
<rect x="239.5" y="1070.0" width="13.5" height="0.7" fill="#999"/>
<rect x="239.5" y="1071.8" width="13.5" height="0.7" fill="#999"/>
<rect x="247.8" y="1074.0" width="3.4" height="31.0" fill="#fff" opacity="0.12"/>
<rect x="238.5" y="1074.0" width="2.2" height="31.0" fill="#000" opacity="0.1"/>
<rect x="262.1" y="1042.0" width="6.6" height="4" rx="1.2" fill="#2b2c30"/>
<path d="M257.6 1051.0 Q257.6 1046.0 262.4 1045.5 L268.4 1045.5 Q273.1 1046.0 273.1 1051.0 Z" fill="#efd230"/>
<rect x="257.6" y="1048.5" width="15.5" height="57.5" rx="1.5" fill="#eccb1c"/>
<rect x="257.6" y="1049.0" width="15.5" height="5" fill="#f0f0f0"/>
<rect x="258.6" y="1049.8" width="2.2" height="2.2" fill="#3aa0d8"/>
<rect x="257.6" y="1054.0" width="15.5" height="20" fill="#2a2a2e"/>
<rect x="262.2" y="1057.0" width="6.2" height="2" rx="0.8" fill="#3d8fd0"/>
<rect x="261.5" y="1061.0" width="7.8" height="1.4" fill="#c8384a"/>
<rect x="261.5" y="1064.0" width="7.8" height="1.8" fill="#bbbbbb"/>
<rect x="258.6" y="1068.0" width="13.5" height="0.8" fill="#c8384a"/>
<rect x="258.6" y="1070.0" width="13.5" height="0.7" fill="#999"/>
<rect x="258.6" y="1071.8" width="13.5" height="0.7" fill="#999"/>
<rect x="266.9" y="1074.0" width="3.4" height="31.0" fill="#fff" opacity="0.12"/>
<rect x="257.6" y="1074.0" width="2.2" height="31.0" fill="#000" opacity="0.1"/>
<rect x="281.1" y="1042.0" width="6.6" height="4" rx="1.2" fill="#2b2c30"/>
<path d="M276.7 1051.0 Q276.7 1046.0 281.4 1045.5 L287.4 1045.5 Q292.2 1046.0 292.2 1051.0 Z" fill="#efd230"/>
<rect x="276.7" y="1048.5" width="15.5" height="57.5" rx="1.5" fill="#eccb1c"/>
<rect x="276.7" y="1049.0" width="15.5" height="5" fill="#f0f0f0"/>
<rect x="277.7" y="1049.8" width="2.2" height="2.2" fill="#3aa0d8"/>
<rect x="276.7" y="1054.0" width="15.5" height="20" fill="#2a2a2e"/>
<rect x="281.3" y="1057.0" width="6.2" height="2" rx="0.8" fill="#3d8fd0"/>
<rect x="280.6" y="1061.0" width="7.8" height="1.4" fill="#c8384a"/>
<rect x="280.6" y="1064.0" width="7.8" height="1.8" fill="#bbbbbb"/>
<rect x="277.7" y="1068.0" width="13.5" height="0.8" fill="#c8384a"/>
<rect x="277.7" y="1070.0" width="13.5" height="0.7" fill="#999"/>
<rect x="277.7" y="1071.8" width="13.5" height="0.7" fill="#999"/>
<rect x="286.0" y="1074.0" width="3.4" height="31.0" fill="#fff" opacity="0.12"/>
<rect x="276.7" y="1074.0" width="2.2" height="31.0" fill="#000" opacity="0.1"/>
<rect x="300.2" y="1042.0" width="6.6" height="4" rx="1.2" fill="#2b2c30"/>
<path d="M295.8 1051.0 Q295.8 1046.0 300.6 1045.5 L306.6 1045.5 Q311.3 1046.0 311.3 1051.0 Z" fill="#efd230"/>
<rect x="295.8" y="1048.5" width="15.5" height="57.5" rx="1.5" fill="#eccb1c"/>
<rect x="295.8" y="1049.0" width="15.5" height="5" fill="#f0f0f0"/>
<rect x="296.8" y="1049.8" width="2.2" height="2.2" fill="#3aa0d8"/>
<rect x="295.8" y="1054.0" width="15.5" height="20" fill="#2a2a2e"/>
<rect x="300.4" y="1057.0" width="6.2" height="2" rx="0.8" fill="#3d8fd0"/>
<rect x="299.7" y="1061.0" width="7.8" height="1.4" fill="#c8384a"/>
<rect x="299.7" y="1064.0" width="7.8" height="1.8" fill="#bbbbbb"/>
<rect x="296.8" y="1068.0" width="13.5" height="0.8" fill="#c8384a"/>
<rect x="296.8" y="1070.0" width="13.5" height="0.7" fill="#999"/>
<rect x="296.8" y="1071.8" width="13.5" height="0.7" fill="#999"/>
<rect x="305.1" y="1074.0" width="3.4" height="31.0" fill="#fff" opacity="0.12"/>
<rect x="295.8" y="1074.0" width="2.2" height="31.0" fill="#000" opacity="0.1"/>
<rect x="319.3" y="1042.0" width="6.6" height="4" rx="1.2" fill="#2b2c30"/>
<path d="M314.9 1051.0 Q314.9 1046.0 319.6 1045.5 L325.6 1045.5 Q330.4 1046.0 330.4 1051.0 Z" fill="#efd230"/>
<rect x="314.9" y="1048.5" width="15.5" height="57.5" rx="1.5" fill="#eccb1c"/>
<rect x="314.9" y="1049.0" width="15.5" height="5" fill="#f0f0f0"/>
<rect x="315.9" y="1049.8" width="2.2" height="2.2" fill="#3aa0d8"/>
<rect x="314.9" y="1054.0" width="15.5" height="20" fill="#2a2a2e"/>
<rect x="319.5" y="1057.0" width="6.2" height="2" rx="0.8" fill="#3d8fd0"/>
<rect x="318.8" y="1061.0" width="7.8" height="1.4" fill="#c8384a"/>
<rect x="318.8" y="1064.0" width="7.8" height="1.8" fill="#bbbbbb"/>
<rect x="315.9" y="1068.0" width="13.5" height="0.8" fill="#c8384a"/>
<rect x="315.9" y="1070.0" width="13.5" height="0.7" fill="#999"/>
<rect x="315.9" y="1071.8" width="13.5" height="0.7" fill="#999"/>
<rect x="324.2" y="1074.0" width="3.4" height="31.0" fill="#fff" opacity="0.12"/>
<rect x="314.9" y="1074.0" width="2.2" height="31.0" fill="#000" opacity="0.1"/>
<rect x="338.4" y="1042.0" width="6.6" height="4" rx="1.2" fill="#2b2c30"/>
<path d="M334.0 1051.0 Q334.0 1046.0 338.8 1045.5 L344.8 1045.5 Q349.5 1046.0 349.5 1051.0 Z" fill="#efd230"/>
<rect x="334.0" y="1048.5" width="15.5" height="57.5" rx="1.5" fill="#eccb1c"/>
<rect x="334.0" y="1049.0" width="15.5" height="5" fill="#f0f0f0"/>
<rect x="335.0" y="1049.8" width="2.2" height="2.2" fill="#3aa0d8"/>
<rect x="334.0" y="1054.0" width="15.5" height="20" fill="#2a2a2e"/>
<rect x="338.6" y="1057.0" width="6.2" height="2" rx="0.8" fill="#3d8fd0"/>
<rect x="337.9" y="1061.0" width="7.8" height="1.4" fill="#c8384a"/>
<rect x="337.9" y="1064.0" width="7.8" height="1.8" fill="#bbbbbb"/>
<rect x="335.0" y="1068.0" width="13.5" height="0.8" fill="#c8384a"/>
<rect x="335.0" y="1070.0" width="13.5" height="0.7" fill="#999"/>
<rect x="335.0" y="1071.8" width="13.5" height="0.7" fill="#999"/>
<rect x="343.3" y="1074.0" width="3.4" height="31.0" fill="#fff" opacity="0.12"/>
<rect x="334.0" y="1074.0" width="2.2" height="31.0" fill="#000" opacity="0.1"/>
<rect x="239.1" y="1044.8" width="6.6" height="4" rx="1.2" fill="#2b2c30"/>
<path d="M234.1 1053.8 Q234.1 1048.8 239.4 1048.3 L245.4 1048.3 Q250.8 1048.8 250.8 1053.8 Z" fill="#efd230"/>
<rect x="234.1" y="1051.3" width="16.7" height="60.4" rx="1.5" fill="#f4d31d"/>
<rect x="234.1" y="1051.8" width="16.7" height="5" fill="#f0f0f0"/>
<rect x="235.1" y="1052.6" width="2.2" height="2.2" fill="#3aa0d8"/>
<rect x="234.1" y="1056.8" width="16.7" height="20" fill="#2a2a2e"/>
<rect x="239.1" y="1059.8" width="6.7" height="2" rx="0.8" fill="#3d8fd0"/>
<rect x="238.3" y="1063.8" width="8.3" height="1.4" fill="#c8384a"/>
<rect x="238.3" y="1066.8" width="8.3" height="1.8" fill="#bbbbbb"/>
<rect x="235.1" y="1070.8" width="14.7" height="0.8" fill="#c8384a"/>
<rect x="235.1" y="1072.8" width="14.7" height="0.7" fill="#999"/>
<rect x="235.1" y="1074.6" width="14.7" height="0.7" fill="#999"/>
<rect x="244.1" y="1076.8" width="3.7" height="33.9" fill="#fff" opacity="0.12"/>
<rect x="234.1" y="1076.8" width="2.3" height="33.9" fill="#000" opacity="0.1"/>
<rect x="258.2" y="1044.8" width="6.6" height="4" rx="1.2" fill="#2b2c30"/>
<path d="M253.2 1053.8 Q253.2 1048.8 258.6 1048.3 L264.6 1048.3 Q269.9 1048.8 269.9 1053.8 Z" fill="#efd230"/>
<rect x="253.2" y="1051.3" width="16.7" height="60.4" rx="1.5" fill="#f4d31d"/>
<rect x="253.2" y="1051.8" width="16.7" height="5" fill="#f0f0f0"/>
<rect x="254.2" y="1052.6" width="2.2" height="2.2" fill="#3aa0d8"/>
<rect x="253.2" y="1056.8" width="16.7" height="20" fill="#2a2a2e"/>
<rect x="258.2" y="1059.8" width="6.7" height="2" rx="0.8" fill="#3d8fd0"/>
<rect x="257.4" y="1063.8" width="8.3" height="1.4" fill="#c8384a"/>
<rect x="257.4" y="1066.8" width="8.3" height="1.8" fill="#bbbbbb"/>
<rect x="254.2" y="1070.8" width="14.7" height="0.8" fill="#c8384a"/>
<rect x="254.2" y="1072.8" width="14.7" height="0.7" fill="#999"/>
<rect x="254.2" y="1074.6" width="14.7" height="0.7" fill="#999"/>
<rect x="263.2" y="1076.8" width="3.7" height="33.9" fill="#fff" opacity="0.12"/>
<rect x="253.2" y="1076.8" width="2.3" height="33.9" fill="#000" opacity="0.1"/>
<rect x="277.4" y="1044.8" width="6.6" height="4" rx="1.2" fill="#2b2c30"/>
<path d="M272.3 1053.8 Q272.3 1048.8 277.7 1048.3 L283.7 1048.3 Q289.0 1048.8 289.0 1053.8 Z" fill="#efd230"/>
<rect x="272.3" y="1051.3" width="16.7" height="60.4" rx="1.5" fill="#f4d31d"/>
<rect x="272.3" y="1051.8" width="16.7" height="5" fill="#f0f0f0"/>
<rect x="273.3" y="1052.6" width="2.2" height="2.2" fill="#3aa0d8"/>
<rect x="272.3" y="1056.8" width="16.7" height="20" fill="#2a2a2e"/>
<rect x="277.3" y="1059.8" width="6.7" height="2" rx="0.8" fill="#3d8fd0"/>
<rect x="276.5" y="1063.8" width="8.3" height="1.4" fill="#c8384a"/>
<rect x="276.5" y="1066.8" width="8.3" height="1.8" fill="#bbbbbb"/>
<rect x="273.3" y="1070.8" width="14.7" height="0.8" fill="#c8384a"/>
<rect x="273.3" y="1072.8" width="14.7" height="0.7" fill="#999"/>
<rect x="273.3" y="1074.6" width="14.7" height="0.7" fill="#999"/>
<rect x="282.3" y="1076.8" width="3.7" height="33.9" fill="#fff" opacity="0.12"/>
<rect x="272.3" y="1076.8" width="2.3" height="33.9" fill="#000" opacity="0.1"/>
<rect x="296.4" y="1044.8" width="6.6" height="4" rx="1.2" fill="#2b2c30"/>
<path d="M291.4 1053.8 Q291.4 1048.8 296.8 1048.3 L302.8 1048.3 Q308.1 1048.8 308.1 1053.8 Z" fill="#efd230"/>
<rect x="291.4" y="1051.3" width="16.7" height="60.4" rx="1.5" fill="#f4d31d"/>
<rect x="291.4" y="1051.8" width="16.7" height="5" fill="#f0f0f0"/>
<rect x="292.4" y="1052.6" width="2.2" height="2.2" fill="#3aa0d8"/>
<rect x="291.4" y="1056.8" width="16.7" height="20" fill="#2a2a2e"/>
<rect x="296.4" y="1059.8" width="6.7" height="2" rx="0.8" fill="#3d8fd0"/>
<rect x="295.6" y="1063.8" width="8.3" height="1.4" fill="#c8384a"/>
<rect x="295.6" y="1066.8" width="8.3" height="1.8" fill="#bbbbbb"/>
<rect x="292.4" y="1070.8" width="14.7" height="0.8" fill="#c8384a"/>
<rect x="292.4" y="1072.8" width="14.7" height="0.7" fill="#999"/>
<rect x="292.4" y="1074.6" width="14.7" height="0.7" fill="#999"/>
<rect x="301.4" y="1076.8" width="3.7" height="33.9" fill="#fff" opacity="0.12"/>
<rect x="291.4" y="1076.8" width="2.3" height="33.9" fill="#000" opacity="0.1"/>
<rect x="315.6" y="1044.8" width="6.6" height="4" rx="1.2" fill="#2b2c30"/>
<path d="M310.5 1053.8 Q310.5 1048.8 315.9 1048.3 L321.9 1048.3 Q327.2 1048.8 327.2 1053.8 Z" fill="#efd230"/>
<rect x="310.5" y="1051.3" width="16.7" height="60.4" rx="1.5" fill="#f4d31d"/>
<rect x="310.5" y="1051.8" width="16.7" height="5" fill="#f0f0f0"/>
<rect x="311.5" y="1052.6" width="2.2" height="2.2" fill="#3aa0d8"/>
<rect x="310.5" y="1056.8" width="16.7" height="20" fill="#2a2a2e"/>
<rect x="315.5" y="1059.8" width="6.7" height="2" rx="0.8" fill="#3d8fd0"/>
<rect x="314.7" y="1063.8" width="8.3" height="1.4" fill="#c8384a"/>
<rect x="314.7" y="1066.8" width="8.3" height="1.8" fill="#bbbbbb"/>
<rect x="311.5" y="1070.8" width="14.7" height="0.8" fill="#c8384a"/>
<rect x="311.5" y="1072.8" width="14.7" height="0.7" fill="#999"/>
<rect x="311.5" y="1074.6" width="14.7" height="0.7" fill="#999"/>
<rect x="320.5" y="1076.8" width="3.7" height="33.9" fill="#fff" opacity="0.12"/>
<rect x="310.5" y="1076.8" width="2.3" height="33.9" fill="#000" opacity="0.1"/>
<rect x="334.7" y="1044.8" width="6.6" height="4" rx="1.2" fill="#2b2c30"/>
<path d="M329.6 1053.8 Q329.6 1048.8 335.0 1048.3 L341.0 1048.3 Q346.3 1048.8 346.3 1053.8 Z" fill="#efd230"/>
<rect x="329.6" y="1051.3" width="16.7" height="60.4" rx="1.5" fill="#f4d31d"/>
<rect x="329.6" y="1051.8" width="16.7" height="5" fill="#f0f0f0"/>
<rect x="330.6" y="1052.6" width="2.2" height="2.2" fill="#3aa0d8"/>
<rect x="329.6" y="1056.8" width="16.7" height="20" fill="#2a2a2e"/>
<rect x="334.6" y="1059.8" width="6.7" height="2" rx="0.8" fill="#3d8fd0"/>
<rect x="333.8" y="1063.8" width="8.3" height="1.4" fill="#c8384a"/>
<rect x="333.8" y="1066.8" width="8.3" height="1.8" fill="#bbbbbb"/>
<rect x="330.6" y="1070.8" width="14.7" height="0.8" fill="#c8384a"/>
<rect x="330.6" y="1072.8" width="14.7" height="0.7" fill="#999"/>
<rect x="330.6" y="1074.6" width="14.7" height="0.7" fill="#999"/>
<rect x="339.6" y="1076.8" width="3.7" height="33.9" fill="#fff" opacity="0.12"/>
<rect x="329.6" y="1076.8" width="2.3" height="33.9" fill="#000" opacity="0.1"/>
<rect x="390.6" y="1046.4" width="6.4" height="8" rx="1.2" fill="#ececec"/>
<path d="M386.3 1060.4 Q386.3 1052.4 390.8 1051.4 L396.8 1051.4 Q401.3 1052.4 401.3 1060.4 L401.3 1093.0 Q401.3 1094.0 400.3 1094.0 L387.3 1094.0 Q386.3 1094.0 386.3 1093.0 Z" fill="#f2f2f2"/>
<rect x="386.3" y="1059.0" width="15.0" height="35.0" rx="0.8" fill="#3aaedb"/>
<rect x="388.1" y="1075.5" width="11.4" height="7.5" fill="#f7f7f7"/><polygon points="390.38,1077.32 393.75,1077.03 391.80,1079.21 391.51,1078.95 392.08,1077.98 390.72,1078.09" fill="#d0463f"/><polygon points="394.83,1076.55 395.70,1077.27 394.69,1078.54 396.86,1078.19 397.22,1079.11 392.30,1079.92" fill="#2aa3d6"/><rect x="390.4" y="1080.8" width="6.8" height="0.8" fill="#666"/>
<rect x="386.3" y="1054.4" width="2.1" height="39.6" fill="#000" opacity="0.07"/>
<rect x="399.2" y="1054.4" width="2.1" height="39.6" fill="#000" opacity="0.13"/>
<rect x="407.7" y="1046.4" width="6.4" height="8" rx="1.2" fill="#ececec"/>
<path d="M403.4 1060.4 Q403.4 1052.4 407.9 1051.4 L413.9 1051.4 Q418.4 1052.4 418.4 1060.4 L418.4 1093.0 Q418.4 1094.0 417.4 1094.0 L404.4 1094.0 Q403.4 1094.0 403.4 1093.0 Z" fill="#f2f2f2"/>
<rect x="403.4" y="1059.0" width="15.0" height="35.0" rx="0.8" fill="#3aaedb"/>
<rect x="405.2" y="1075.5" width="11.4" height="7.5" fill="#f7f7f7"/><polygon points="407.48,1077.32 410.85,1077.03 408.90,1079.21 408.61,1078.95 409.18,1077.98 407.82,1078.09" fill="#d0463f"/><polygon points="411.93,1076.55 412.80,1077.27 411.79,1078.54 413.96,1078.19 414.32,1079.11 409.40,1079.92" fill="#2aa3d6"/><rect x="407.5" y="1080.8" width="6.8" height="0.8" fill="#666"/>
<rect x="403.4" y="1054.4" width="2.1" height="39.6" fill="#000" opacity="0.07"/>
<rect x="416.3" y="1054.4" width="2.1" height="39.6" fill="#000" opacity="0.13"/>
<rect x="424.8" y="1046.4" width="6.4" height="8" rx="1.2" fill="#ececec"/>
<path d="M420.5 1060.4 Q420.5 1052.4 425.0 1051.4 L431.0 1051.4 Q435.5 1052.4 435.5 1060.4 L435.5 1093.0 Q435.5 1094.0 434.5 1094.0 L421.5 1094.0 Q420.5 1094.0 420.5 1093.0 Z" fill="#f2f2f2"/>
<rect x="420.5" y="1059.0" width="15.0" height="35.0" rx="0.8" fill="#3aaedb"/>
<rect x="422.3" y="1075.5" width="11.4" height="7.5" fill="#f7f7f7"/><polygon points="424.58,1077.32 427.95,1077.03 426.00,1079.21 425.71,1078.95 426.28,1077.98 424.92,1078.09" fill="#d0463f"/><polygon points="429.03,1076.55 429.90,1077.27 428.89,1078.54 431.06,1078.19 431.42,1079.11 426.50,1079.92" fill="#2aa3d6"/><rect x="424.6" y="1080.8" width="6.8" height="0.8" fill="#666"/>
<rect x="420.5" y="1054.4" width="2.1" height="39.6" fill="#000" opacity="0.07"/>
<rect x="433.4" y="1054.4" width="2.1" height="39.6" fill="#000" opacity="0.13"/>
<rect x="441.9" y="1046.4" width="6.4" height="8" rx="1.2" fill="#ececec"/>
<path d="M437.6 1060.4 Q437.6 1052.4 442.1 1051.4 L448.1 1051.4 Q452.6 1052.4 452.6 1060.4 L452.6 1093.0 Q452.6 1094.0 451.6 1094.0 L438.6 1094.0 Q437.6 1094.0 437.6 1093.0 Z" fill="#f2f2f2"/>
<rect x="437.6" y="1059.0" width="15.0" height="35.0" rx="0.8" fill="#3aaedb"/>
<rect x="439.4" y="1075.5" width="11.4" height="7.5" fill="#f7f7f7"/><polygon points="441.68,1077.32 445.05,1077.03 443.10,1079.21 442.81,1078.95 443.38,1077.98 442.02,1078.09" fill="#d0463f"/><polygon points="446.13,1076.55 447.00,1077.27 445.99,1078.54 448.16,1078.19 448.52,1079.11 443.60,1079.92" fill="#2aa3d6"/><rect x="441.7" y="1080.8" width="6.8" height="0.8" fill="#666"/>
<rect x="437.6" y="1054.4" width="2.1" height="39.6" fill="#000" opacity="0.07"/>
<rect x="450.5" y="1054.4" width="2.1" height="39.6" fill="#000" opacity="0.13"/>
<rect x="459.0" y="1046.4" width="6.4" height="8" rx="1.2" fill="#ececec"/>
<path d="M454.7 1060.4 Q454.7 1052.4 459.2 1051.4 L465.2 1051.4 Q469.7 1052.4 469.7 1060.4 L469.7 1093.0 Q469.7 1094.0 468.7 1094.0 L455.7 1094.0 Q454.7 1094.0 454.7 1093.0 Z" fill="#f2f2f2"/>
<rect x="454.7" y="1059.0" width="15.0" height="35.0" rx="0.8" fill="#3aaedb"/>
<rect x="456.5" y="1075.5" width="11.4" height="7.5" fill="#f7f7f7"/><polygon points="458.78,1077.32 462.15,1077.03 460.20,1079.21 459.91,1078.95 460.48,1077.98 459.12,1078.09" fill="#d0463f"/><polygon points="463.23,1076.55 464.10,1077.27 463.09,1078.54 465.26,1078.19 465.62,1079.11 460.70,1079.92" fill="#2aa3d6"/><rect x="458.8" y="1080.8" width="6.8" height="0.8" fill="#666"/>
<rect x="454.7" y="1054.4" width="2.1" height="39.6" fill="#000" opacity="0.07"/>
<rect x="467.6" y="1054.4" width="2.1" height="39.6" fill="#000" opacity="0.13"/>
<polygon points="503.0,1034.0 605.0,1034.0 609.0,1025.0 507.0,1025.0" fill="#f7f7f7"/>
<rect x="503.0" y="1034.0" width="102.0" height="83.0" fill="#39aee0"/>
<rect x="587.5" y="1024.0" width="14.7" height="12.1" fill="none" stroke="#ffffff" stroke-opacity="0.15" stroke-width="0.8"/>
<text x="594.9" y="1032.2" font-family="Liberation Sans" font-size="5.8" fill="#ffffff" fill-opacity="0.20" text-anchor="middle">He</text>
<rect x="591.6" y="1034.3" width="6.5" height="0.6" fill="#ffffff" opacity="0.15"/>
<rect x="506.0" y="1037.7" width="14.7" height="12.1" fill="none" stroke="#ffffff" stroke-opacity="0.15" stroke-width="0.8"/>
<text x="513.4" y="1045.9" font-family="Liberation Sans" font-size="5.8" fill="#ffffff" fill-opacity="0.20" text-anchor="middle">B</text>
<rect x="510.1" y="1048.0" width="6.5" height="0.6" fill="#ffffff" opacity="0.15"/>
<rect x="522.3" y="1037.7" width="14.7" height="12.1" fill="none" stroke="#ffffff" stroke-opacity="0.33" stroke-width="0.8"/>
<text x="529.6" y="1045.9" font-family="Liberation Sans" font-size="5.8" fill="#ffffff" fill-opacity="0.43" text-anchor="middle">C</text>
<rect x="526.4" y="1048.0" width="6.5" height="0.6" fill="#ffffff" opacity="0.33"/>
<rect x="538.6" y="1037.7" width="14.7" height="12.1" fill="none" stroke="#ffffff" stroke-opacity="0.15" stroke-width="0.8"/>
<text x="546.0" y="1045.9" font-family="Liberation Sans" font-size="5.8" fill="#ffffff" fill-opacity="0.20" text-anchor="middle">N</text>
<rect x="542.7" y="1048.0" width="6.5" height="0.6" fill="#ffffff" opacity="0.15"/>
<rect x="554.9" y="1037.7" width="14.7" height="12.1" fill="none" stroke="#ffffff" stroke-opacity="0.15" stroke-width="0.8"/>
<text x="562.2" y="1045.9" font-family="Liberation Sans" font-size="5.8" fill="#ffffff" fill-opacity="0.20" text-anchor="middle">O</text>
<rect x="559.0" y="1048.0" width="6.5" height="0.6" fill="#ffffff" opacity="0.15"/>
<rect x="571.2" y="1037.7" width="14.7" height="12.1" fill="none" stroke="#ffffff" stroke-opacity="0.33" stroke-width="0.8"/>
<text x="578.6" y="1045.9" font-family="Liberation Sans" font-size="5.8" fill="#ffffff" fill-opacity="0.43" text-anchor="middle">F</text>
<rect x="575.3" y="1048.0" width="6.5" height="0.6" fill="#ffffff" opacity="0.33"/>
<rect x="587.5" y="1037.7" width="14.7" height="12.1" fill="none" stroke="#ffffff" stroke-opacity="0.15" stroke-width="0.8"/>
<text x="594.9" y="1045.9" font-family="Liberation Sans" font-size="5.8" fill="#ffffff" fill-opacity="0.20" text-anchor="middle">Ne</text>
<rect x="591.6" y="1048.0" width="6.5" height="0.6" fill="#ffffff" opacity="0.15"/>
<rect x="506.0" y="1051.4" width="14.7" height="12.1" fill="none" stroke="#ffffff" stroke-opacity="0.15" stroke-width="0.8"/>
<text x="513.4" y="1059.6" font-family="Liberation Sans" font-size="5.8" fill="#ffffff" fill-opacity="0.20" text-anchor="middle">Al</text>
<rect x="510.1" y="1061.7" width="6.5" height="0.6" fill="#ffffff" opacity="0.15"/>
<rect x="522.3" y="1051.4" width="14.7" height="12.1" fill="none" stroke="#ffffff" stroke-opacity="0.15" stroke-width="0.8"/>
<text x="529.6" y="1059.6" font-family="Liberation Sans" font-size="5.8" fill="#ffffff" fill-opacity="0.20" text-anchor="middle">Si</text>
<rect x="526.4" y="1061.7" width="6.5" height="0.6" fill="#ffffff" opacity="0.15"/>
<rect x="538.6" y="1051.4" width="14.7" height="12.1" fill="none" stroke="#ffffff" stroke-opacity="0.15" stroke-width="0.8"/>
<text x="546.0" y="1059.6" font-family="Liberation Sans" font-size="5.8" fill="#ffffff" fill-opacity="0.20" text-anchor="middle">P</text>
<rect x="542.7" y="1061.7" width="6.5" height="0.6" fill="#ffffff" opacity="0.15"/>
<rect x="554.9" y="1051.4" width="14.7" height="12.1" fill="none" stroke="#ffffff" stroke-opacity="0.15" stroke-width="0.8"/>
<text x="562.2" y="1059.6" font-family="Liberation Sans" font-size="5.8" fill="#ffffff" fill-opacity="0.20" text-anchor="middle">S</text>
<rect x="559.0" y="1061.7" width="6.5" height="0.6" fill="#ffffff" opacity="0.15"/>
<rect x="571.2" y="1051.4" width="14.7" height="12.1" fill="none" stroke="#ffffff" stroke-opacity="0.15" stroke-width="0.8"/>
<text x="578.6" y="1059.6" font-family="Liberation Sans" font-size="5.8" fill="#ffffff" fill-opacity="0.20" text-anchor="middle">Cl</text>
<rect x="575.3" y="1061.7" width="6.5" height="0.6" fill="#ffffff" opacity="0.15"/>
<rect x="587.5" y="1051.4" width="14.7" height="12.1" fill="none" stroke="#ffffff" stroke-opacity="0.15" stroke-width="0.8"/>
<text x="594.9" y="1059.6" font-family="Liberation Sans" font-size="5.8" fill="#ffffff" fill-opacity="0.20" text-anchor="middle">Ar</text>
<rect x="591.6" y="1061.7" width="6.5" height="0.6" fill="#ffffff" opacity="0.15"/>
<rect x="506.0" y="1065.1" width="14.7" height="12.1" fill="none" stroke="#ffffff" stroke-opacity="0.15" stroke-width="0.8"/>
<text x="513.4" y="1073.3" font-family="Liberation Sans" font-size="5.8" fill="#ffffff" fill-opacity="0.20" text-anchor="middle">Ga</text>
<rect x="510.1" y="1075.4" width="6.5" height="0.6" fill="#ffffff" opacity="0.15"/>
<rect x="522.3" y="1065.1" width="14.7" height="12.1" fill="none" stroke="#ffffff" stroke-opacity="0.15" stroke-width="0.8"/>
<text x="529.6" y="1073.3" font-family="Liberation Sans" font-size="5.8" fill="#ffffff" fill-opacity="0.20" text-anchor="middle">Ge</text>
<rect x="526.4" y="1075.4" width="6.5" height="0.6" fill="#ffffff" opacity="0.15"/>
<rect x="538.6" y="1065.1" width="14.7" height="12.1" fill="none" stroke="#ffffff" stroke-opacity="0.15" stroke-width="0.8"/>
<text x="546.0" y="1073.3" font-family="Liberation Sans" font-size="5.8" fill="#ffffff" fill-opacity="0.20" text-anchor="middle">As</text>
<rect x="542.7" y="1075.4" width="6.5" height="0.6" fill="#ffffff" opacity="0.15"/>
<rect x="554.9" y="1065.1" width="14.7" height="12.1" fill="none" stroke="#ffffff" stroke-opacity="0.15" stroke-width="0.8"/>
<text x="562.2" y="1073.3" font-family="Liberation Sans" font-size="5.8" fill="#ffffff" fill-opacity="0.20" text-anchor="middle">Se</text>
<rect x="559.0" y="1075.4" width="6.5" height="0.6" fill="#ffffff" opacity="0.15"/>
<rect x="571.2" y="1065.1" width="14.7" height="12.1" fill="none" stroke="#ffffff" stroke-opacity="0.15" stroke-width="0.8"/>
<text x="578.6" y="1073.3" font-family="Liberation Sans" font-size="5.8" fill="#ffffff" fill-opacity="0.20" text-anchor="middle">Br</text>
<rect x="575.3" y="1075.4" width="6.5" height="0.6" fill="#ffffff" opacity="0.15"/>
<rect x="587.5" y="1065.1" width="14.7" height="12.1" fill="none" stroke="#ffffff" stroke-opacity="0.15" stroke-width="0.8"/>
<text x="594.9" y="1073.3" font-family="Liberation Sans" font-size="5.8" fill="#ffffff" fill-opacity="0.20" text-anchor="middle">Kr</text>
<rect x="591.6" y="1075.4" width="6.5" height="0.6" fill="#ffffff" opacity="0.15"/>
<rect x="506.0" y="1078.8" width="14.7" height="12.1" fill="none" stroke="#ffffff" stroke-opacity="0.15" stroke-width="0.8"/>
<text x="513.4" y="1087.0" font-family="Liberation Sans" font-size="5.8" fill="#ffffff" fill-opacity="0.20" text-anchor="middle">In</text>
<rect x="510.1" y="1089.1" width="6.5" height="0.6" fill="#ffffff" opacity="0.15"/>
<rect x="522.3" y="1078.8" width="14.7" height="12.1" fill="none" stroke="#ffffff" stroke-opacity="0.15" stroke-width="0.8"/>
<text x="529.6" y="1087.0" font-family="Liberation Sans" font-size="5.8" fill="#ffffff" fill-opacity="0.20" text-anchor="middle">Sn</text>
<rect x="526.4" y="1089.1" width="6.5" height="0.6" fill="#ffffff" opacity="0.15"/>
<rect x="538.6" y="1078.8" width="14.7" height="12.1" fill="none" stroke="#ffffff" stroke-opacity="0.15" stroke-width="0.8"/>
<text x="546.0" y="1087.0" font-family="Liberation Sans" font-size="5.8" fill="#ffffff" fill-opacity="0.20" text-anchor="middle">Sb</text>
<rect x="542.7" y="1089.1" width="6.5" height="0.6" fill="#ffffff" opacity="0.15"/>
<rect x="554.9" y="1078.8" width="14.7" height="12.1" fill="none" stroke="#ffffff" stroke-opacity="0.15" stroke-width="0.8"/>
<text x="562.2" y="1087.0" font-family="Liberation Sans" font-size="5.8" fill="#ffffff" fill-opacity="0.20" text-anchor="middle">Te</text>
<rect x="559.0" y="1089.1" width="6.5" height="0.6" fill="#ffffff" opacity="0.15"/>
<rect x="571.2" y="1078.8" width="14.7" height="12.1" fill="none" stroke="#ffffff" stroke-opacity="0.15" stroke-width="0.8"/>
<text x="578.6" y="1087.0" font-family="Liberation Sans" font-size="5.8" fill="#ffffff" fill-opacity="0.20" text-anchor="middle">I</text>
<rect x="575.3" y="1089.1" width="6.5" height="0.6" fill="#ffffff" opacity="0.15"/>
<rect x="587.5" y="1078.8" width="14.7" height="12.1" fill="none" stroke="#ffffff" stroke-opacity="0.15" stroke-width="0.8"/>
<text x="594.9" y="1087.0" font-family="Liberation Sans" font-size="5.8" fill="#ffffff" fill-opacity="0.20" text-anchor="middle">Xe</text>
<rect x="591.6" y="1089.1" width="6.5" height="0.6" fill="#ffffff" opacity="0.15"/>
<rect x="503.0" y="1090.5" width="102.0" height="26.5" fill="#f7f7f7"/>
<rect x="503.0" y="1114.5" width="102.0" height="2.5" fill="#39aee0"/>
<rect x="531.0" y="1105.1" width="45.9" height="1" fill="#39aee0" opacity="0.6"/>
<rect x="518.3" y="1108.1" width="71.4" height="1" fill="#39aee0" opacity="0.6"/>
<rect x="523.4" y="1111.1" width="61.2" height="1" fill="#39aee0" opacity="0.6"/>
<rect x="538.0" y="1041.0" width="32.0" height="27.0" rx="3.2" fill="#f3f3f3"/>
<polygon points="545.14,1047.89 553.81,1046.85 548.78,1054.78 548.04,1053.85 549.52,1050.31 546.00,1050.69" fill="#cf4a45"/>
<polygon points="556.59,1045.10 558.83,1047.71 556.22,1052.36 561.80,1051.06 562.74,1054.42 550.08,1057.39" fill="#2ba4d3"/>
<text x="542.8" y="1063.1" font-family="Liberation Sans" font-size="5.5" fill="#4a4a4a" textLength="22.6" lengthAdjust="spacingAndGlyphs">SEASON</text>
<text x="540.2" y="1077.4" font-family="Liberation Sans" font-weight="bold" font-size="9.1" fill="#ffffff" stroke="#ffffff" stroke-width="0.4" stroke-linejoin="round" textLength="27.6" lengthAdjust="spacingAndGlyphs">R134A</text>
<rect x="538.7" y="1082.1" width="30.6" height="1.2" fill="#ffffff" opacity="0.5"/>
<rect x="526.0" y="1085.1" width="56.1" height="1.2" fill="#ffffff" opacity="0.5"/>
<rect x="532.6" y="1088.1" width="42.8" height="1.2" fill="#ffffff" opacity="0.5"/>
<rect x="387.2" y="1084.0" width="6.4" height="8" rx="1.2" fill="#ececec"/>
<path d="M382.2 1098.0 Q382.2 1090.0 387.4 1089.0 L393.4 1089.0 Q398.6 1090.0 398.6 1098.0 L398.6 1120.3 Q398.6 1121.3 397.6 1121.3 L383.2 1121.3 Q382.2 1121.3 382.2 1120.3 Z" fill="#f2f2f2"/>
<rect x="382.2" y="1098.6" width="16.4" height="22.7" rx="0.8" fill="#3aaedb"/>
<rect x="382.2" y="1115.0" width="16.4" height="6.3" fill="#f4f4f4"/>
<rect x="384.2" y="1101.3" width="12.5" height="6.7" fill="#f7f7f7"/><polygon points="386.66,1102.92 390.35,1102.67 388.21,1104.61 387.89,1104.38 388.52,1103.52 387.03,1103.61" fill="#d0463f"/><polygon points="391.53,1102.24 392.48,1102.88 391.37,1104.02 393.74,1103.70 394.14,1104.52 388.76,1105.25" fill="#2aa3d6"/><rect x="386.7" y="1106.0" width="7.5" height="0.7" fill="#666"/>
<text x="390.4" y="1113.0" font-family="Liberation Sans" font-weight="bold" font-size="6" fill="#fff" text-anchor="middle" textLength="13.8" lengthAdjust="spacingAndGlyphs">R134A</text>
<rect x="385.5" y="1114.8" width="9.8" height="0.8" fill="#fff" opacity="0.5"/>
<rect x="386.3" y="1116.4" width="8.2" height="0.8" fill="#fff" opacity="0.5"/>
<rect x="382.2" y="1092.0" width="2.3" height="29.3" fill="#000" opacity="0.07"/>
<rect x="396.3" y="1092.0" width="2.3" height="29.3" fill="#000" opacity="0.13"/>
<rect x="404.6" y="1084.0" width="6.4" height="8" rx="1.2" fill="#ececec"/>
<path d="M399.6 1098.0 Q399.6 1090.0 404.8 1089.0 L410.8 1089.0 Q416.0 1090.0 416.0 1098.0 L416.0 1120.3 Q416.0 1121.3 415.0 1121.3 L400.6 1121.3 Q399.6 1121.3 399.6 1120.3 Z" fill="#f2f2f2"/>
<rect x="399.6" y="1098.6" width="16.4" height="22.7" rx="0.8" fill="#3aaedb"/>
<rect x="399.6" y="1115.0" width="16.4" height="6.3" fill="#f4f4f4"/>
<rect x="401.6" y="1101.3" width="12.5" height="6.7" fill="#f7f7f7"/><polygon points="404.06,1102.92 407.75,1102.67 405.61,1104.61 405.29,1104.38 405.92,1103.52 404.43,1103.61" fill="#d0463f"/><polygon points="408.93,1102.24 409.88,1102.88 408.77,1104.02 411.14,1103.70 411.54,1104.52 406.16,1105.25" fill="#2aa3d6"/><rect x="404.1" y="1106.0" width="7.5" height="0.7" fill="#666"/>
<text x="407.8" y="1113.0" font-family="Liberation Sans" font-weight="bold" font-size="6" fill="#fff" text-anchor="middle" textLength="13.8" lengthAdjust="spacingAndGlyphs">R134A</text>
<rect x="402.9" y="1114.8" width="9.8" height="0.8" fill="#fff" opacity="0.5"/>
<rect x="403.7" y="1116.4" width="8.2" height="0.8" fill="#fff" opacity="0.5"/>
<rect x="399.6" y="1092.0" width="2.3" height="29.3" fill="#000" opacity="0.07"/>
<rect x="413.7" y="1092.0" width="2.3" height="29.3" fill="#000" opacity="0.13"/>
<rect x="422.0" y="1084.0" width="6.4" height="8" rx="1.2" fill="#ececec"/>
<path d="M417.0 1098.0 Q417.0 1090.0 422.2 1089.0 L428.2 1089.0 Q433.4 1090.0 433.4 1098.0 L433.4 1120.3 Q433.4 1121.3 432.4 1121.3 L418.0 1121.3 Q417.0 1121.3 417.0 1120.3 Z" fill="#f2f2f2"/>
<rect x="417.0" y="1098.6" width="16.4" height="22.7" rx="0.8" fill="#3aaedb"/>
<rect x="417.0" y="1115.0" width="16.4" height="6.3" fill="#f4f4f4"/>
<rect x="419.0" y="1101.3" width="12.5" height="6.7" fill="#f7f7f7"/><polygon points="421.46,1102.92 425.15,1102.67 423.01,1104.61 422.69,1104.38 423.32,1103.52 421.83,1103.61" fill="#d0463f"/><polygon points="426.33,1102.24 427.28,1102.88 426.17,1104.02 428.54,1103.70 428.94,1104.52 423.56,1105.25" fill="#2aa3d6"/><rect x="421.5" y="1106.0" width="7.5" height="0.7" fill="#666"/>
<text x="425.2" y="1113.0" font-family="Liberation Sans" font-weight="bold" font-size="6" fill="#fff" text-anchor="middle" textLength="13.8" lengthAdjust="spacingAndGlyphs">R134A</text>
<rect x="420.3" y="1114.8" width="9.8" height="0.8" fill="#fff" opacity="0.5"/>
<rect x="421.1" y="1116.4" width="8.2" height="0.8" fill="#fff" opacity="0.5"/>
<rect x="417.0" y="1092.0" width="2.3" height="29.3" fill="#000" opacity="0.07"/>
<rect x="431.1" y="1092.0" width="2.3" height="29.3" fill="#000" opacity="0.13"/>
<rect x="439.4" y="1084.0" width="6.4" height="8" rx="1.2" fill="#ececec"/>
<path d="M434.4 1098.0 Q434.4 1090.0 439.6 1089.0 L445.6 1089.0 Q450.8 1090.0 450.8 1098.0 L450.8 1120.3 Q450.8 1121.3 449.8 1121.3 L435.4 1121.3 Q434.4 1121.3 434.4 1120.3 Z" fill="#f2f2f2"/>
<rect x="434.4" y="1098.6" width="16.4" height="22.7" rx="0.8" fill="#3aaedb"/>
<rect x="434.4" y="1115.0" width="16.4" height="6.3" fill="#f4f4f4"/>
<rect x="436.4" y="1101.3" width="12.5" height="6.7" fill="#f7f7f7"/><polygon points="438.86,1102.92 442.55,1102.67 440.41,1104.61 440.09,1104.38 440.72,1103.52 439.23,1103.61" fill="#d0463f"/><polygon points="443.73,1102.24 444.68,1102.88 443.57,1104.02 445.94,1103.70 446.34,1104.52 440.96,1105.25" fill="#2aa3d6"/><rect x="438.9" y="1106.0" width="7.5" height="0.7" fill="#666"/>
<text x="442.6" y="1113.0" font-family="Liberation Sans" font-weight="bold" font-size="6" fill="#fff" text-anchor="middle" textLength="13.8" lengthAdjust="spacingAndGlyphs">R134A</text>
<rect x="437.7" y="1114.8" width="9.8" height="0.8" fill="#fff" opacity="0.5"/>
<rect x="438.5" y="1116.4" width="8.2" height="0.8" fill="#fff" opacity="0.5"/>
<rect x="434.4" y="1092.0" width="2.3" height="29.3" fill="#000" opacity="0.07"/>
<rect x="448.5" y="1092.0" width="2.3" height="29.3" fill="#000" opacity="0.13"/>
<rect x="456.8" y="1084.0" width="6.4" height="8" rx="1.2" fill="#ececec"/>
<path d="M451.8 1098.0 Q451.8 1090.0 457.0 1089.0 L463.0 1089.0 Q468.2 1090.0 468.2 1098.0 L468.2 1120.3 Q468.2 1121.3 467.2 1121.3 L452.8 1121.3 Q451.8 1121.3 451.8 1120.3 Z" fill="#f2f2f2"/>
<rect x="451.8" y="1098.6" width="16.4" height="22.7" rx="0.8" fill="#3aaedb"/>
<rect x="451.8" y="1115.0" width="16.4" height="6.3" fill="#f4f4f4"/>
<rect x="453.8" y="1101.3" width="12.5" height="6.7" fill="#f7f7f7"/><polygon points="456.26,1102.92 459.95,1102.67 457.81,1104.61 457.49,1104.38 458.12,1103.52 456.63,1103.61" fill="#d0463f"/><polygon points="461.13,1102.24 462.08,1102.88 460.97,1104.02 463.34,1103.70 463.74,1104.52 458.36,1105.25" fill="#2aa3d6"/><rect x="456.3" y="1106.0" width="7.5" height="0.7" fill="#666"/>
<text x="460.0" y="1113.0" font-family="Liberation Sans" font-weight="bold" font-size="6" fill="#fff" text-anchor="middle" textLength="13.8" lengthAdjust="spacingAndGlyphs">R134A</text>
<rect x="455.1" y="1114.8" width="9.8" height="0.8" fill="#fff" opacity="0.5"/>
<rect x="455.9" y="1116.4" width="8.2" height="0.8" fill="#fff" opacity="0.5"/>
<rect x="451.8" y="1092.0" width="2.3" height="29.3" fill="#000" opacity="0.07"/>
<rect x="465.9" y="1092.0" width="2.3" height="29.3" fill="#000" opacity="0.13"/>
<rect x="641.1" y="1045.0" width="6.4" height="8" rx="1.2" fill="#ececec"/>
<path d="M636.4 1059.0 Q636.4 1051.0 641.3 1050.0 L647.3 1050.0 Q652.2 1051.0 652.2 1059.0 L652.2 1110.0 Q652.2 1111.0 651.2 1111.0 L637.4 1111.0 Q636.4 1111.0 636.4 1110.0 Z" fill="#f2f2f2"/>
<rect x="636.4" y="1067.0" width="15.8" height="44.0" rx="0.8" fill="#2eb45c"/>
<rect x="636.4" y="1105.0" width="15.8" height="6.0" fill="#f4f4f4"/>
<rect x="638.3" y="1070.8" width="12.0" height="11.5" fill="#f7f7f7"/><polygon points="640.70,1073.58 644.25,1073.14 642.19,1076.49 641.89,1076.09 642.49,1074.60 641.05,1074.76" fill="#d0463f"/><polygon points="645.39,1072.41 646.30,1073.51 645.24,1075.47 647.52,1074.92 647.90,1076.33 642.72,1077.58" fill="#2aa3d6"/><rect x="640.7" y="1078.8" width="7.2" height="1.2" fill="#666"/>
<text x="644.3" y="1096.4" font-family="Liberation Sans" font-weight="bold" font-size="6" fill="#fff" text-anchor="middle" textLength="13.3" lengthAdjust="spacingAndGlyphs">R22</text>
<rect x="639.6" y="1098.2" width="9.5" height="0.8" fill="#fff" opacity="0.5"/>
<rect x="640.4" y="1099.8" width="7.9" height="0.8" fill="#fff" opacity="0.5"/>
<rect x="636.4" y="1053.0" width="2.2" height="58.0" fill="#000" opacity="0.07"/>
<rect x="650.0" y="1053.0" width="2.2" height="58.0" fill="#000" opacity="0.13"/>
<rect x="658.2" y="1045.0" width="6.4" height="8" rx="1.2" fill="#ececec"/>
<path d="M653.5 1059.0 Q653.5 1051.0 658.4 1050.0 L664.4 1050.0 Q669.3 1051.0 669.3 1059.0 L669.3 1110.0 Q669.3 1111.0 668.3 1111.0 L654.5 1111.0 Q653.5 1111.0 653.5 1110.0 Z" fill="#f2f2f2"/>
<rect x="653.5" y="1067.0" width="15.8" height="44.0" rx="0.8" fill="#2eb45c"/>
<rect x="653.5" y="1105.0" width="15.8" height="6.0" fill="#f4f4f4"/>
<rect x="655.4" y="1070.8" width="12.0" height="11.5" fill="#f7f7f7"/><polygon points="657.85,1073.58 661.40,1073.14 659.34,1076.49 659.04,1076.09 659.64,1074.60 658.20,1074.76" fill="#d0463f"/><polygon points="662.54,1072.41 663.45,1073.51 662.39,1075.47 664.67,1074.92 665.05,1076.33 659.87,1077.58" fill="#2aa3d6"/><rect x="657.8" y="1078.8" width="7.2" height="1.2" fill="#666"/>
<text x="661.4" y="1096.4" font-family="Liberation Sans" font-weight="bold" font-size="6" fill="#fff" text-anchor="middle" textLength="13.3" lengthAdjust="spacingAndGlyphs">R22</text>
<rect x="656.7" y="1098.2" width="9.5" height="0.8" fill="#fff" opacity="0.5"/>
<rect x="657.5" y="1099.8" width="7.9" height="0.8" fill="#fff" opacity="0.5"/>
<rect x="653.5" y="1053.0" width="2.2" height="58.0" fill="#000" opacity="0.07"/>
<rect x="667.1" y="1053.0" width="2.2" height="58.0" fill="#000" opacity="0.13"/>
<rect x="675.4" y="1045.0" width="6.4" height="8" rx="1.2" fill="#ececec"/>
<path d="M670.7 1059.0 Q670.7 1051.0 675.6 1050.0 L681.6 1050.0 Q686.5 1051.0 686.5 1059.0 L686.5 1110.0 Q686.5 1111.0 685.5 1111.0 L671.7 1111.0 Q670.7 1111.0 670.7 1110.0 Z" fill="#f2f2f2"/>
<rect x="670.7" y="1067.0" width="15.8" height="44.0" rx="0.8" fill="#2eb45c"/>
<rect x="670.7" y="1105.0" width="15.8" height="6.0" fill="#f4f4f4"/>
<rect x="672.6" y="1070.8" width="12.0" height="11.5" fill="#f7f7f7"/><polygon points="675.00,1073.58 678.55,1073.14 676.49,1076.49 676.19,1076.09 676.79,1074.60 675.35,1074.76" fill="#d0463f"/><polygon points="679.69,1072.41 680.60,1073.51 679.54,1075.47 681.82,1074.92 682.20,1076.33 677.02,1077.58" fill="#2aa3d6"/><rect x="675.0" y="1078.8" width="7.2" height="1.2" fill="#666"/>
<text x="678.6" y="1096.4" font-family="Liberation Sans" font-weight="bold" font-size="6" fill="#fff" text-anchor="middle" textLength="13.3" lengthAdjust="spacingAndGlyphs">R22</text>
<rect x="673.9" y="1098.2" width="9.5" height="0.8" fill="#fff" opacity="0.5"/>
<rect x="674.6" y="1099.8" width="7.9" height="0.8" fill="#fff" opacity="0.5"/>
<rect x="670.7" y="1053.0" width="2.2" height="58.0" fill="#000" opacity="0.07"/>
<rect x="684.3" y="1053.0" width="2.2" height="58.0" fill="#000" opacity="0.13"/>
<rect x="692.5" y="1045.0" width="6.4" height="8" rx="1.2" fill="#ececec"/>
<path d="M687.9 1059.0 Q687.9 1051.0 692.8 1050.0 L698.8 1050.0 Q703.6 1051.0 703.6 1059.0 L703.6 1110.0 Q703.6 1111.0 702.6 1111.0 L688.9 1111.0 Q687.9 1111.0 687.9 1110.0 Z" fill="#f2f2f2"/>
<rect x="687.9" y="1067.0" width="15.8" height="44.0" rx="0.8" fill="#2eb45c"/>
<rect x="687.9" y="1105.0" width="15.8" height="6.0" fill="#f4f4f4"/>
<rect x="689.7" y="1070.8" width="12.0" height="11.5" fill="#f7f7f7"/><polygon points="692.15,1073.58 695.70,1073.14 693.64,1076.49 693.34,1076.09 693.94,1074.60 692.50,1074.76" fill="#d0463f"/><polygon points="696.84,1072.41 697.75,1073.51 696.69,1075.47 698.97,1074.92 699.35,1076.33 694.17,1077.58" fill="#2aa3d6"/><rect x="692.1" y="1078.8" width="7.2" height="1.2" fill="#666"/>
<text x="695.8" y="1096.4" font-family="Liberation Sans" font-weight="bold" font-size="6" fill="#fff" text-anchor="middle" textLength="13.3" lengthAdjust="spacingAndGlyphs">R22</text>
<rect x="691.0" y="1098.2" width="9.5" height="0.8" fill="#fff" opacity="0.5"/>
<rect x="691.8" y="1099.8" width="7.9" height="0.8" fill="#fff" opacity="0.5"/>
<rect x="687.9" y="1053.0" width="2.2" height="58.0" fill="#000" opacity="0.07"/>
<rect x="701.4" y="1053.0" width="2.2" height="58.0" fill="#000" opacity="0.13"/>
<rect x="709.7" y="1045.0" width="6.4" height="8" rx="1.2" fill="#ececec"/>
<path d="M705.0 1059.0 Q705.0 1051.0 709.9 1050.0 L715.9 1050.0 Q720.8 1051.0 720.8 1059.0 L720.8 1110.0 Q720.8 1111.0 719.8 1111.0 L706.0 1111.0 Q705.0 1111.0 705.0 1110.0 Z" fill="#f2f2f2"/>
<rect x="705.0" y="1067.0" width="15.8" height="44.0" rx="0.8" fill="#2eb45c"/>
<rect x="705.0" y="1105.0" width="15.8" height="6.0" fill="#f4f4f4"/>
<rect x="706.9" y="1070.8" width="12.0" height="11.5" fill="#f7f7f7"/><polygon points="709.30,1073.58 712.85,1073.14 710.79,1076.49 710.49,1076.09 711.09,1074.60 709.65,1074.76" fill="#d0463f"/><polygon points="713.99,1072.41 714.90,1073.51 713.84,1075.47 716.12,1074.92 716.50,1076.33 711.32,1077.58" fill="#2aa3d6"/><rect x="709.3" y="1078.8" width="7.2" height="1.2" fill="#666"/>
<text x="712.9" y="1096.4" font-family="Liberation Sans" font-weight="bold" font-size="6" fill="#fff" text-anchor="middle" textLength="13.3" lengthAdjust="spacingAndGlyphs">R22</text>
<rect x="708.2" y="1098.2" width="9.5" height="0.8" fill="#fff" opacity="0.5"/>
<rect x="709.0" y="1099.8" width="7.9" height="0.8" fill="#fff" opacity="0.5"/>
<rect x="705.0" y="1053.0" width="2.2" height="58.0" fill="#000" opacity="0.07"/>
<rect x="718.6" y="1053.0" width="2.2" height="58.0" fill="#000" opacity="0.13"/>
<rect x="762.1" y="1045.0" width="6.4" height="8" rx="1.2" fill="#ececec"/>
<path d="M757.4 1059.0 Q757.4 1051.0 762.3 1050.0 L768.3 1050.0 Q773.2 1051.0 773.2 1059.0 L773.2 1110.0 Q773.2 1111.0 772.2 1111.0 L758.4 1111.0 Q757.4 1111.0 757.4 1110.0 Z" fill="#f2f2f2"/>
<rect x="757.4" y="1062.0" width="15.8" height="49.0" rx="0.8" fill="#c7792a"/>
<rect x="757.4" y="1098.4" width="15.8" height="6.6" fill="#f4f4f4"/>
<rect x="759.3" y="1064.0" width="12.0" height="12.0" fill="#f7f7f7"/><polygon points="761.70,1066.91 765.25,1066.45 763.19,1069.94 762.89,1069.52 763.49,1067.97 762.05,1068.14" fill="#d0463f"/><polygon points="766.39,1065.68 767.30,1066.82 766.24,1068.87 768.52,1068.30 768.90,1069.77 763.72,1071.08" fill="#2aa3d6"/><rect x="761.7" y="1072.4" width="7.2" height="1.2" fill="#666"/>
<text x="765.3" y="1091.0" font-family="Liberation Sans" font-weight="bold" font-size="6" fill="#fff" text-anchor="middle" textLength="13.3" lengthAdjust="spacingAndGlyphs">R407C</text>
<rect x="760.6" y="1092.8" width="9.5" height="0.8" fill="#fff" opacity="0.5"/>
<rect x="761.4" y="1094.4" width="7.9" height="0.8" fill="#fff" opacity="0.5"/>
<rect x="757.4" y="1053.0" width="2.2" height="58.0" fill="#000" opacity="0.07"/>
<rect x="771.0" y="1053.0" width="2.2" height="58.0" fill="#000" opacity="0.13"/>
<rect x="779.4" y="1045.0" width="6.4" height="8" rx="1.2" fill="#ececec"/>
<path d="M774.7 1059.0 Q774.7 1051.0 779.6 1050.0 L785.6 1050.0 Q790.5 1051.0 790.5 1059.0 L790.5 1110.0 Q790.5 1111.0 789.5 1111.0 L775.7 1111.0 Q774.7 1111.0 774.7 1110.0 Z" fill="#f2f2f2"/>
<rect x="774.7" y="1062.0" width="15.8" height="49.0" rx="0.8" fill="#c7792a"/>
<rect x="774.7" y="1098.4" width="15.8" height="6.6" fill="#f4f4f4"/>
<rect x="776.6" y="1064.0" width="12.0" height="12.0" fill="#f7f7f7"/><polygon points="779.00,1066.91 782.55,1066.45 780.49,1069.94 780.19,1069.52 780.79,1067.97 779.35,1068.14" fill="#d0463f"/><polygon points="783.69,1065.68 784.60,1066.82 783.54,1068.87 785.82,1068.30 786.20,1069.77 781.02,1071.08" fill="#2aa3d6"/><rect x="779.0" y="1072.4" width="7.2" height="1.2" fill="#666"/>
<text x="782.6" y="1091.0" font-family="Liberation Sans" font-weight="bold" font-size="6" fill="#fff" text-anchor="middle" textLength="13.3" lengthAdjust="spacingAndGlyphs">R407C</text>
<rect x="777.9" y="1092.8" width="9.5" height="0.8" fill="#fff" opacity="0.5"/>
<rect x="778.6" y="1094.4" width="7.9" height="0.8" fill="#fff" opacity="0.5"/>
<rect x="774.7" y="1053.0" width="2.2" height="58.0" fill="#000" opacity="0.07"/>
<rect x="788.3" y="1053.0" width="2.2" height="58.0" fill="#000" opacity="0.13"/>
<rect x="796.7" y="1045.0" width="6.4" height="8" rx="1.2" fill="#ececec"/>
<path d="M792.0 1059.0 Q792.0 1051.0 796.9 1050.0 L802.9 1050.0 Q807.8 1051.0 807.8 1059.0 L807.8 1110.0 Q807.8 1111.0 806.8 1111.0 L793.0 1111.0 Q792.0 1111.0 792.0 1110.0 Z" fill="#f2f2f2"/>
<rect x="792.0" y="1062.0" width="15.8" height="49.0" rx="0.8" fill="#c7792a"/>
<rect x="792.0" y="1098.4" width="15.8" height="6.6" fill="#f4f4f4"/>
<rect x="793.9" y="1064.0" width="12.0" height="12.0" fill="#f7f7f7"/><polygon points="796.30,1066.91 799.85,1066.45 797.79,1069.94 797.49,1069.52 798.09,1067.97 796.65,1068.14" fill="#d0463f"/><polygon points="800.99,1065.68 801.90,1066.82 800.84,1068.87 803.12,1068.30 803.50,1069.77 798.32,1071.08" fill="#2aa3d6"/><rect x="796.3" y="1072.4" width="7.2" height="1.2" fill="#666"/>
<text x="799.9" y="1091.0" font-family="Liberation Sans" font-weight="bold" font-size="6" fill="#fff" text-anchor="middle" textLength="13.3" lengthAdjust="spacingAndGlyphs">R407C</text>
<rect x="795.2" y="1092.8" width="9.5" height="0.8" fill="#fff" opacity="0.5"/>
<rect x="796.0" y="1094.4" width="7.9" height="0.8" fill="#fff" opacity="0.5"/>
<rect x="792.0" y="1053.0" width="2.2" height="58.0" fill="#000" opacity="0.07"/>
<rect x="805.6" y="1053.0" width="2.2" height="58.0" fill="#000" opacity="0.13"/>
<rect x="814.0" y="1045.0" width="6.4" height="8" rx="1.2" fill="#ececec"/>
<path d="M809.3 1059.0 Q809.3 1051.0 814.2 1050.0 L820.2 1050.0 Q825.1 1051.0 825.1 1059.0 L825.1 1110.0 Q825.1 1111.0 824.1 1111.0 L810.3 1111.0 Q809.3 1111.0 809.3 1110.0 Z" fill="#f2f2f2"/>
<rect x="809.3" y="1062.0" width="15.8" height="49.0" rx="0.8" fill="#c7792a"/>
<rect x="809.3" y="1098.4" width="15.8" height="6.6" fill="#f4f4f4"/>
<rect x="811.2" y="1064.0" width="12.0" height="12.0" fill="#f7f7f7"/><polygon points="813.60,1066.91 817.15,1066.45 815.09,1069.94 814.79,1069.52 815.39,1067.97 813.95,1068.14" fill="#d0463f"/><polygon points="818.29,1065.68 819.20,1066.82 818.14,1068.87 820.42,1068.30 820.80,1069.77 815.62,1071.08" fill="#2aa3d6"/><rect x="813.6" y="1072.4" width="7.2" height="1.2" fill="#666"/>
<text x="817.2" y="1091.0" font-family="Liberation Sans" font-weight="bold" font-size="6" fill="#fff" text-anchor="middle" textLength="13.3" lengthAdjust="spacingAndGlyphs">R407C</text>
<rect x="812.5" y="1092.8" width="9.5" height="0.8" fill="#fff" opacity="0.5"/>
<rect x="813.2" y="1094.4" width="7.9" height="0.8" fill="#fff" opacity="0.5"/>
<rect x="809.3" y="1053.0" width="2.2" height="58.0" fill="#000" opacity="0.07"/>
<rect x="822.9" y="1053.0" width="2.2" height="58.0" fill="#000" opacity="0.13"/>
<rect x="831.3" y="1045.0" width="6.4" height="8" rx="1.2" fill="#ececec"/>
<path d="M826.6 1059.0 Q826.6 1051.0 831.5 1050.0 L837.5 1050.0 Q842.4 1051.0 842.4 1059.0 L842.4 1110.0 Q842.4 1111.0 841.4 1111.0 L827.6 1111.0 Q826.6 1111.0 826.6 1110.0 Z" fill="#f2f2f2"/>
<rect x="826.6" y="1062.0" width="15.8" height="49.0" rx="0.8" fill="#c7792a"/>
<rect x="826.6" y="1098.4" width="15.8" height="6.6" fill="#f4f4f4"/>
<rect x="828.5" y="1064.0" width="12.0" height="12.0" fill="#f7f7f7"/><polygon points="830.90,1066.91 834.45,1066.45 832.39,1069.94 832.09,1069.52 832.69,1067.97 831.25,1068.14" fill="#d0463f"/><polygon points="835.59,1065.68 836.50,1066.82 835.44,1068.87 837.72,1068.30 838.10,1069.77 832.92,1071.08" fill="#2aa3d6"/><rect x="830.9" y="1072.4" width="7.2" height="1.2" fill="#666"/>
<text x="834.5" y="1091.0" font-family="Liberation Sans" font-weight="bold" font-size="6" fill="#fff" text-anchor="middle" textLength="13.3" lengthAdjust="spacingAndGlyphs">R407C</text>
<rect x="829.8" y="1092.8" width="9.5" height="0.8" fill="#fff" opacity="0.5"/>
<rect x="830.6" y="1094.4" width="7.9" height="0.8" fill="#fff" opacity="0.5"/>
<rect x="826.6" y="1053.0" width="2.2" height="58.0" fill="#000" opacity="0.07"/>
<rect x="840.2" y="1053.0" width="2.2" height="58.0" fill="#000" opacity="0.13"/>
<rect x="886.5" y="1045.0" width="6.4" height="8" rx="1.2" fill="#ececec"/>
<path d="M881.7 1059.0 Q881.7 1051.0 886.7 1050.0 L892.7 1050.0 Q897.7 1051.0 897.7 1059.0 L897.7 1110.0 Q897.7 1111.0 896.7 1111.0 L882.7 1111.0 Q881.7 1111.0 881.7 1110.0 Z" fill="#f2f2f2"/>
<rect x="881.7" y="1062.0" width="16.0" height="49.0" rx="0.8" fill="#d8892c"/>
<rect x="881.7" y="1098.4" width="16.0" height="6.6" fill="#f4f4f4"/>
<rect x="883.6" y="1064.0" width="12.2" height="12.0" fill="#f7f7f7"/><polygon points="886.05,1066.91 889.65,1066.45 887.56,1069.94 887.26,1069.52 887.87,1067.97 886.41,1068.14" fill="#d0463f"/><polygon points="890.80,1065.68 891.73,1066.82 890.65,1068.87 892.96,1068.30 893.35,1069.77 888.10,1071.08" fill="#2aa3d6"/><rect x="886.1" y="1072.4" width="7.3" height="1.2" fill="#666"/>
<text x="889.7" y="1091.0" font-family="Liberation Sans" font-weight="bold" font-size="6" fill="#fff" text-anchor="middle" textLength="13.4" lengthAdjust="spacingAndGlyphs">R404A</text>
<rect x="884.9" y="1092.8" width="9.6" height="0.8" fill="#fff" opacity="0.5"/>
<rect x="885.7" y="1094.4" width="8.0" height="0.8" fill="#fff" opacity="0.5"/>
<rect x="881.7" y="1053.0" width="2.2" height="58.0" fill="#000" opacity="0.07"/>
<rect x="895.5" y="1053.0" width="2.2" height="58.0" fill="#000" opacity="0.13"/>
<rect x="904.2" y="1045.0" width="6.4" height="8" rx="1.2" fill="#ececec"/>
<path d="M899.4 1059.0 Q899.4 1051.0 904.4 1050.0 L910.4 1050.0 Q915.4 1051.0 915.4 1059.0 L915.4 1110.0 Q915.4 1111.0 914.4 1111.0 L900.4 1111.0 Q899.4 1111.0 899.4 1110.0 Z" fill="#f2f2f2"/>
<rect x="899.4" y="1062.0" width="16.0" height="49.0" rx="0.8" fill="#d8892c"/>
<rect x="899.4" y="1098.4" width="16.0" height="6.6" fill="#f4f4f4"/>
<rect x="901.3" y="1064.0" width="12.2" height="12.0" fill="#f7f7f7"/><polygon points="903.75,1066.91 907.35,1066.45 905.26,1069.94 904.96,1069.52 905.57,1067.97 904.11,1068.14" fill="#d0463f"/><polygon points="908.50,1065.68 909.43,1066.82 908.35,1068.87 910.66,1068.30 911.05,1069.77 905.80,1071.08" fill="#2aa3d6"/><rect x="903.8" y="1072.4" width="7.3" height="1.2" fill="#666"/>
<text x="907.4" y="1091.0" font-family="Liberation Sans" font-weight="bold" font-size="6" fill="#fff" text-anchor="middle" textLength="13.4" lengthAdjust="spacingAndGlyphs">R404A</text>
<rect x="902.6" y="1092.8" width="9.6" height="0.8" fill="#fff" opacity="0.5"/>
<rect x="903.4" y="1094.4" width="8.0" height="0.8" fill="#fff" opacity="0.5"/>
<rect x="899.4" y="1053.0" width="2.2" height="58.0" fill="#000" opacity="0.07"/>
<rect x="913.2" y="1053.0" width="2.2" height="58.0" fill="#000" opacity="0.13"/>
<rect x="921.9" y="1045.0" width="6.4" height="8" rx="1.2" fill="#ececec"/>
<path d="M917.1 1059.0 Q917.1 1051.0 922.1 1050.0 L928.1 1050.0 Q933.1 1051.0 933.1 1059.0 L933.1 1110.0 Q933.1 1111.0 932.1 1111.0 L918.1 1111.0 Q917.1 1111.0 917.1 1110.0 Z" fill="#f2f2f2"/>
<rect x="917.1" y="1062.0" width="16.0" height="49.0" rx="0.8" fill="#d8892c"/>
<rect x="917.1" y="1098.4" width="16.0" height="6.6" fill="#f4f4f4"/>
<rect x="919.0" y="1064.0" width="12.2" height="12.0" fill="#f7f7f7"/><polygon points="921.45,1066.91 925.05,1066.45 922.96,1069.94 922.66,1069.52 923.27,1067.97 921.81,1068.14" fill="#d0463f"/><polygon points="926.20,1065.68 927.13,1066.82 926.05,1068.87 928.36,1068.30 928.75,1069.77 923.50,1071.08" fill="#2aa3d6"/><rect x="921.5" y="1072.4" width="7.3" height="1.2" fill="#666"/>
<text x="925.1" y="1091.0" font-family="Liberation Sans" font-weight="bold" font-size="6" fill="#fff" text-anchor="middle" textLength="13.4" lengthAdjust="spacingAndGlyphs">R404A</text>
<rect x="920.3" y="1092.8" width="9.6" height="0.8" fill="#fff" opacity="0.5"/>
<rect x="921.1" y="1094.4" width="8.0" height="0.8" fill="#fff" opacity="0.5"/>
<rect x="917.1" y="1053.0" width="2.2" height="58.0" fill="#000" opacity="0.07"/>
<rect x="930.9" y="1053.0" width="2.2" height="58.0" fill="#000" opacity="0.13"/>
<rect x="939.6" y="1045.0" width="6.4" height="8" rx="1.2" fill="#ececec"/>
<path d="M934.8 1059.0 Q934.8 1051.0 939.8 1050.0 L945.8 1050.0 Q950.8 1051.0 950.8 1059.0 L950.8 1110.0 Q950.8 1111.0 949.8 1111.0 L935.8 1111.0 Q934.8 1111.0 934.8 1110.0 Z" fill="#f2f2f2"/>
<rect x="934.8" y="1062.0" width="16.0" height="49.0" rx="0.8" fill="#d8892c"/>
<rect x="934.8" y="1098.4" width="16.0" height="6.6" fill="#f4f4f4"/>
<rect x="936.7" y="1064.0" width="12.2" height="12.0" fill="#f7f7f7"/><polygon points="939.15,1066.91 942.75,1066.45 940.66,1069.94 940.36,1069.52 940.97,1067.97 939.51,1068.14" fill="#d0463f"/><polygon points="943.90,1065.68 944.83,1066.82 943.75,1068.87 946.06,1068.30 946.45,1069.77 941.20,1071.08" fill="#2aa3d6"/><rect x="939.2" y="1072.4" width="7.3" height="1.2" fill="#666"/>
<text x="942.8" y="1091.0" font-family="Liberation Sans" font-weight="bold" font-size="6" fill="#fff" text-anchor="middle" textLength="13.4" lengthAdjust="spacingAndGlyphs">R404A</text>
<rect x="938.0" y="1092.8" width="9.6" height="0.8" fill="#fff" opacity="0.5"/>
<rect x="938.8" y="1094.4" width="8.0" height="0.8" fill="#fff" opacity="0.5"/>
<rect x="934.8" y="1053.0" width="2.2" height="58.0" fill="#000" opacity="0.07"/>
<rect x="948.6" y="1053.0" width="2.2" height="58.0" fill="#000" opacity="0.13"/>
<rect x="957.3" y="1045.0" width="6.4" height="8" rx="1.2" fill="#ececec"/>
<path d="M952.5 1059.0 Q952.5 1051.0 957.5 1050.0 L963.5 1050.0 Q968.5 1051.0 968.5 1059.0 L968.5 1110.0 Q968.5 1111.0 967.5 1111.0 L953.5 1111.0 Q952.5 1111.0 952.5 1110.0 Z" fill="#f2f2f2"/>
<rect x="952.5" y="1062.0" width="16.0" height="49.0" rx="0.8" fill="#d8892c"/>
<rect x="952.5" y="1098.4" width="16.0" height="6.6" fill="#f4f4f4"/>
<rect x="954.4" y="1064.0" width="12.2" height="12.0" fill="#f7f7f7"/><polygon points="956.85,1066.91 960.45,1066.45 958.36,1069.94 958.06,1069.52 958.67,1067.97 957.21,1068.14" fill="#d0463f"/><polygon points="961.60,1065.68 962.53,1066.82 961.45,1068.87 963.76,1068.30 964.15,1069.77 958.90,1071.08" fill="#2aa3d6"/><rect x="956.9" y="1072.4" width="7.3" height="1.2" fill="#666"/>
<text x="960.5" y="1091.0" font-family="Liberation Sans" font-weight="bold" font-size="6" fill="#fff" text-anchor="middle" textLength="13.4" lengthAdjust="spacingAndGlyphs">R404A</text>
<rect x="955.7" y="1092.8" width="9.6" height="0.8" fill="#fff" opacity="0.5"/>
<rect x="956.5" y="1094.4" width="8.0" height="0.8" fill="#fff" opacity="0.5"/>
<rect x="952.5" y="1053.0" width="2.2" height="58.0" fill="#000" opacity="0.07"/>
<rect x="966.3" y="1053.0" width="2.2" height="58.0" fill="#000" opacity="0.13"/>
</g>
</svg>
<svg width="1170" height="1500" viewBox="0 0 1170 1500">
<text x="66.9" y="171.5" font-family="Liberation Sans" font-weight="bold" font-size="104" fill="#ffffff" textLength="380.1" lengthAdjust="spacingAndGlyphs">Comfort</text>
<text x="470.1" y="171.5" font-family="Liberation Sans" font-weight="bold" font-size="104" fill="#ffffff" textLength="86.4" lengthAdjust="spacingAndGlyphs">in</text>
<text x="579.6" y="171.5" font-family="Liberation Sans" font-weight="bold" font-size="104" fill="#ffffff" textLength="111.5" lengthAdjust="spacingAndGlyphs">all</text>
<text x="713.5" y="171.5" font-family="Liberation Sans" font-weight="bold" font-size="104" fill="#ffffff" textLength="389.6" lengthAdjust="spacingAndGlyphs">Seasons</text>
<rect x="153" y="233" width="134.0" height="82.5" rx="19" fill="#000814" fill-opacity="0.125"/>
<text x="171.8" y="291.4" font-family="Liberation Sans" font-size="52" fill="#ffffff" textLength="96.1" lengthAdjust="spacingAndGlyphs">R32</text>
<rect x="324.5" y="233" width="197.0" height="82.5" rx="19" fill="#000814" fill-opacity="0.125"/>
<text x="343.8" y="291.4" font-family="Liberation Sans" font-size="52" fill="#ffffff" textLength="143.2" lengthAdjust="spacingAndGlyphs">R410A</text>
<rect x="565.6" y="233" width="183.2" height="82.5" rx="19" fill="#000814" fill-opacity="0.125"/>
<text x="584.3" y="291.4" font-family="Liberation Sans" font-size="52" fill="#ffffff" textLength="132.8" lengthAdjust="spacingAndGlyphs">R290</text>
<rect x="793" y="233" width="197.6" height="82.5" rx="19" fill="#000814" fill-opacity="0.125"/>
<text x="812.6" y="291.4" font-family="Liberation Sans" font-size="52" fill="#ffffff" textLength="144.6" lengthAdjust="spacingAndGlyphs">R134A</text>
<rect x="143" y="345.5" width="146.7" height="83.0" rx="19" fill="#000814" fill-opacity="0.125"/>
<text x="161.2" y="404.7" font-family="Liberation Sans" font-size="52" fill="#ffffff" textLength="98.0" lengthAdjust="spacingAndGlyphs">R22</text>
<rect x="330.2" y="345.5" width="207.5" height="83.0" rx="19" fill="#000814" fill-opacity="0.125"/>
<text x="350.4" y="404.7" font-family="Liberation Sans" font-size="52" fill="#ffffff" textLength="155.8" lengthAdjust="spacingAndGlyphs">R407C</text>
<rect x="586.8" y="345.5" width="214.2" height="83.0" rx="19" fill="#000814" fill-opacity="0.125"/>
<text x="605.8" y="404.7" font-family="Liberation Sans" font-size="52" fill="#ffffff" textLength="163.2" lengthAdjust="spacingAndGlyphs">R404A</text>
<rect x="845" y="345.5" width="161.9" height="83.0" rx="19" fill="#000814" fill-opacity="0.125"/>
<text x="863.1" y="404.7" font-family="Liberation Sans" font-size="52" fill="#ffffff" textLength="125.9" lengthAdjust="spacingAndGlyphs">R507</text>
<text x="140.2" y="628.7" font-family="Liberation Sans" font-size="38.5" fill="#d5dbe7" textLength="82.7" lengthAdjust="spacingAndGlyphs">High</text>
<text x="96.9" y="682.0" font-family="Liberation Sans" font-size="38.5" fill="#d5dbe7" textLength="169.1" lengthAdjust="spacingAndGlyphs">Efficiency</text>
<text x="745.9" y="625.0" font-family="Liberation Sans" font-size="38.5" fill="#d5dbe7" textLength="142.2" lengthAdjust="spacingAndGlyphs">Reliable</text>
<text x="699.9" y="678.3" font-family="Liberation Sans" font-size="38.5" fill="#d5dbe7" textLength="234.2" lengthAdjust="spacingAndGlyphs">Performance</text>
<text x="1032.7" y="838.5" font-family="Liberation Sans" font-size="38.5" fill="#d5dbe7" textLength="68.0" lengthAdjust="spacingAndGlyphs">Eco</text>
<text x="996.9" y="892.0" font-family="Liberation Sans" font-size="38.5" fill="#d5dbe7" textLength="139.8" lengthAdjust="spacingAndGlyphs">Friendly</text>
<g fill="none" stroke="#4ecbf8" stroke-width="3" stroke-dasharray="6 6" stroke-linecap="round">
<path d="M310 656 C340 654 370 658 390 672 C404 684 406 700 405 712 C402 728 394 740 380 744 C368 745 364 734 367 722 C372 710 390 701 406 701 C422 702 432 714 434 728 C434 738 430 744 425 747"/>
<path d="M560 754 C548 744 545 730 550 720 C556 712 566 708 578 708 C592 709 606 716 610 730 C610 740 600 743 590 742 C578 738 571 728 569 716 C568 702 570 690 577 678 C588 664 604 654 620 650 C630 648 636 647 642 646"/>
<path d="M938 761 C938 752 942 745 954 742 C966 742 974 750 977 765 C979 778 972 786 962 785 C956 782 954 770 958 762 C962 752 972 747 985 745 C1000 744 1012 748 1024 760 C1030 766 1034 772 1037 777"/>
</g>
<g fill="#4ecdfb" stroke="#4ecdfb" stroke-width="3" stroke-linejoin="round">
<path d="M290.5 659 L304.5 649 L306 666 Z"/>
<path d="M662 644.5 L646.5 637.5 L649 655 Z"/>
<path d="M1047 788.5 L1045.5 778 L1036.5 784 Z"/>
</g>
</svg>
</body></html>
